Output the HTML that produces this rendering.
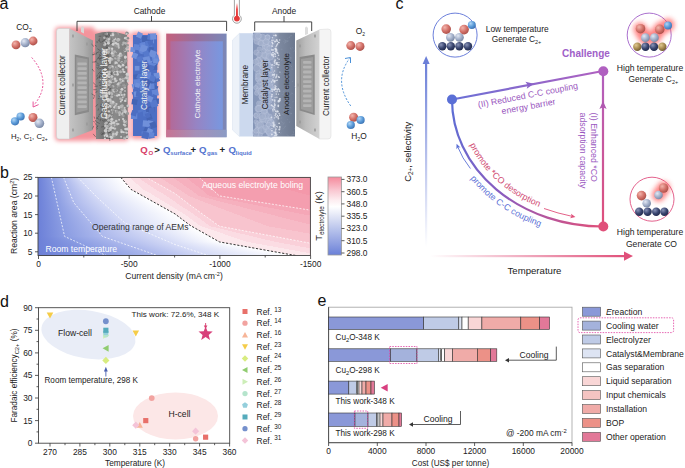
<!DOCTYPE html><html><head><meta charset="utf-8"><style>html,body{margin:0;padding:0;background:#fff;width:685px;height:468px;overflow:hidden}svg{display:block;font-family:"Liberation Sans",sans-serif}</style></head><body>
<svg width="685" height="468" viewBox="0 0 685 468" font-family="Liberation Sans, sans-serif">
<defs><radialGradient id="sp_red" cx="0.35" cy="0.32" r="0.75"><stop offset="0" stop-color="#f2b4ac"/><stop offset="0.55" stop-color="#d27068"/><stop offset="1" stop-color="#a64c46"/></radialGradient><radialGradient id="sp_gray" cx="0.35" cy="0.32" r="0.75"><stop offset="0" stop-color="#e2e8f3"/><stop offset="0.55" stop-color="#a2afc9"/><stop offset="1" stop-color="#74829f"/></radialGradient><radialGradient id="sp_blue" cx="0.35" cy="0.32" r="0.75"><stop offset="0" stop-color="#b0d6f6"/><stop offset="0.55" stop-color="#5a9ad8"/><stop offset="1" stop-color="#3a70b0"/></radialGradient><radialGradient id="sp_navy" cx="0.35" cy="0.32" r="0.75"><stop offset="0" stop-color="#8a94b8"/><stop offset="0.55" stop-color="#3a4670"/><stop offset="1" stop-color="#20284a"/></radialGradient><radialGradient id="sp_gold" cx="0.35" cy="0.32" r="0.75"><stop offset="0" stop-color="#e0c890"/><stop offset="0.55" stop-color="#a88a50"/><stop offset="1" stop-color="#6a5530"/></radialGradient><filter id="glow" x="-30%" y="-30%" width="160%" height="160%"><feGaussianBlur stdDeviation="1.9"/></filter><filter id="glow2" filterUnits="userSpaceOnUse" x="0" y="0" width="685" height="468"><feGaussianBlur stdDeviation="2.4"/></filter><filter id="blur1"><feGaussianBlur stdDeviation="0.6"/></filter><linearGradient id="ccface" x1="0" y1="0" x2="1" y2="0"><stop offset="0" stop-color="#c4c4c4"/><stop offset="0.6" stop-color="#b0b0b0"/><stop offset="1" stop-color="#969696"/></linearGradient><linearGradient id="ccface2" x1="1" y1="0" x2="0" y2="0"><stop offset="0" stop-color="#d2d2d2"/><stop offset="0.6" stop-color="#bcbcbc"/><stop offset="1" stop-color="#a0a0a0"/></linearGradient><linearGradient id="gdl" x1="0" y1="0" x2="1" y2="0"><stop offset="0" stop-color="#8a8a8a"/><stop offset="0.35" stop-color="#6e6e6e"/><stop offset="0.6" stop-color="#8a8a8a"/><stop offset="1" stop-color="#7c7c7c"/></linearGradient><linearGradient id="ce" x1="0" y1="0" x2="1" y2="0"><stop offset="0" stop-color="#c4607c"/><stop offset="0.5" stop-color="#98709e"/><stop offset="1" stop-color="#7a88b8"/></linearGradient><linearGradient id="ce2" x1="0" y1="0" x2="1" y2="0"><stop offset="0" stop-color="#b26a9a"/><stop offset="0.5" stop-color="#9684c4"/><stop offset="1" stop-color="#7898e0"/></linearGradient><linearGradient id="ceb" x1="0" y1="0" x2="1" y2="0"><stop offset="0" stop-color="#c87898"/><stop offset="0.5" stop-color="#a898c0"/><stop offset="1" stop-color="#90a0c8"/></linearGradient><linearGradient id="thr" x1="0" y1="0" x2="0" y2="1"><stop offset="0" stop-color="#ffffff"/><stop offset="0.45" stop-color="#f04848"/><stop offset="1" stop-color="#e03030"/></linearGradient><linearGradient id="anc" x1="0" y1="0" x2="1" y2="0"><stop offset="0" stop-color="#8596b8"/><stop offset="0.44" stop-color="#8e9cbc"/><stop offset="0.5" stop-color="#98a4be"/><stop offset="0.64" stop-color="#7c889f"/><stop offset="1" stop-color="#6c788e"/></linearGradient><linearGradient id="br0" gradientUnits="userSpaceOnUse" x1="38" y1="0" x2="310.5" y2="0"><stop offset="0.0000" stop-color="#6c80d8"/><stop offset="0.0493" stop-color="#8a9ce2"/><stop offset="0.0941" stop-color="#acb8ec"/><stop offset="0.1468" stop-color="#d4daf6"/><stop offset="0.3042" stop-color="#ffffff"/><stop offset="0.3042" stop-color="#fce8ec"/><stop offset="0.3357" stop-color="#fce8ec"/><stop offset="0.3357" stop-color="#fbdce3"/><stop offset="0.3671" stop-color="#fbdce3"/><stop offset="0.3672" stop-color="#fad0d9"/><stop offset="0.3986" stop-color="#fad0d9"/><stop offset="0.3987" stop-color="#f8c4ce"/><stop offset="0.4470" stop-color="#f8c4ce"/><stop offset="0.4470" stop-color="#f7bac6"/><stop offset="0.4953" stop-color="#f7bac6"/><stop offset="0.4953" stop-color="#f6b0be"/><stop offset="0.5436" stop-color="#f6b0be"/><stop offset="0.5437" stop-color="#f5a7b7"/><stop offset="0.5920" stop-color="#f5a7b7"/><stop offset="0.5920" stop-color="#f49eaf"/><stop offset="0.7427" stop-color="#f49eaf"/><stop offset="0.7427" stop-color="#f498aa"/><stop offset="1" stop-color="#f498aa"/></linearGradient><linearGradient id="br1" gradientUnits="userSpaceOnUse" x1="38" y1="0" x2="310.5" y2="0"><stop offset="0.0000" stop-color="#6c80d8"/><stop offset="0.0501" stop-color="#8a9ce2"/><stop offset="0.0956" stop-color="#acb8ec"/><stop offset="0.1503" stop-color="#d4daf6"/><stop offset="0.3073" stop-color="#ffffff"/><stop offset="0.3073" stop-color="#fce8ec"/><stop offset="0.3399" stop-color="#fce8ec"/><stop offset="0.3399" stop-color="#fbdce3"/><stop offset="0.3725" stop-color="#fbdce3"/><stop offset="0.3726" stop-color="#fad0d9"/><stop offset="0.4051" stop-color="#fad0d9"/><stop offset="0.4052" stop-color="#f8c4ce"/><stop offset="0.4528" stop-color="#f8c4ce"/><stop offset="0.4529" stop-color="#f7bac6"/><stop offset="0.5006" stop-color="#f7bac6"/><stop offset="0.5006" stop-color="#f6b0be"/><stop offset="0.5483" stop-color="#f6b0be"/><stop offset="0.5483" stop-color="#f5a7b7"/><stop offset="0.5960" stop-color="#f5a7b7"/><stop offset="0.5960" stop-color="#f49eaf"/><stop offset="0.7569" stop-color="#f49eaf"/><stop offset="0.7569" stop-color="#f498aa"/><stop offset="1" stop-color="#f498aa"/></linearGradient><linearGradient id="br2" gradientUnits="userSpaceOnUse" x1="38" y1="0" x2="310.5" y2="0"><stop offset="0.0000" stop-color="#6c80d8"/><stop offset="0.0509" stop-color="#8a9ce2"/><stop offset="0.0971" stop-color="#acb8ec"/><stop offset="0.1538" stop-color="#d4daf6"/><stop offset="0.3104" stop-color="#ffffff"/><stop offset="0.3104" stop-color="#fce8ec"/><stop offset="0.3442" stop-color="#fce8ec"/><stop offset="0.3442" stop-color="#fbdce3"/><stop offset="0.3779" stop-color="#fbdce3"/><stop offset="0.3779" stop-color="#fad0d9"/><stop offset="0.4116" stop-color="#fad0d9"/><stop offset="0.4117" stop-color="#f8c4ce"/><stop offset="0.4587" stop-color="#f8c4ce"/><stop offset="0.4588" stop-color="#f7bac6"/><stop offset="0.5058" stop-color="#f7bac6"/><stop offset="0.5058" stop-color="#f6b0be"/><stop offset="0.5529" stop-color="#f6b0be"/><stop offset="0.5529" stop-color="#f5a7b7"/><stop offset="0.6000" stop-color="#f5a7b7"/><stop offset="0.6000" stop-color="#f49eaf"/><stop offset="0.7711" stop-color="#f49eaf"/><stop offset="0.7712" stop-color="#f498aa"/><stop offset="1" stop-color="#f498aa"/></linearGradient><linearGradient id="br3" gradientUnits="userSpaceOnUse" x1="38" y1="0" x2="310.5" y2="0"><stop offset="0.0000" stop-color="#6c80d8"/><stop offset="0.0517" stop-color="#8a9ce2"/><stop offset="0.0985" stop-color="#acb8ec"/><stop offset="0.1574" stop-color="#d4daf6"/><stop offset="0.3135" stop-color="#ffffff"/><stop offset="0.3136" stop-color="#fce8ec"/><stop offset="0.3484" stop-color="#fce8ec"/><stop offset="0.3484" stop-color="#fbdce3"/><stop offset="0.3833" stop-color="#fbdce3"/><stop offset="0.3833" stop-color="#fad0d9"/><stop offset="0.4182" stop-color="#fad0d9"/><stop offset="0.4182" stop-color="#f8c4ce"/><stop offset="0.4646" stop-color="#f8c4ce"/><stop offset="0.4646" stop-color="#f7bac6"/><stop offset="0.5111" stop-color="#f7bac6"/><stop offset="0.5111" stop-color="#f6b0be"/><stop offset="0.5575" stop-color="#f6b0be"/><stop offset="0.5576" stop-color="#f5a7b7"/><stop offset="0.6040" stop-color="#f5a7b7"/><stop offset="0.6040" stop-color="#f49eaf"/><stop offset="0.7853" stop-color="#f49eaf"/><stop offset="0.7854" stop-color="#f498aa"/><stop offset="1" stop-color="#f498aa"/></linearGradient><linearGradient id="br4" gradientUnits="userSpaceOnUse" x1="38" y1="0" x2="310.5" y2="0"><stop offset="0.0000" stop-color="#6c80d8"/><stop offset="0.0525" stop-color="#8a9ce2"/><stop offset="0.1000" stop-color="#acb8ec"/><stop offset="0.1609" stop-color="#d4daf6"/><stop offset="0.3166" stop-color="#ffffff"/><stop offset="0.3167" stop-color="#fce8ec"/><stop offset="0.3526" stop-color="#fce8ec"/><stop offset="0.3527" stop-color="#fbdce3"/><stop offset="0.3887" stop-color="#fbdce3"/><stop offset="0.3887" stop-color="#fad0d9"/><stop offset="0.4247" stop-color="#fad0d9"/><stop offset="0.4247" stop-color="#f8c4ce"/><stop offset="0.4705" stop-color="#f8c4ce"/><stop offset="0.4705" stop-color="#f7bac6"/><stop offset="0.5163" stop-color="#f7bac6"/><stop offset="0.5164" stop-color="#f6b0be"/><stop offset="0.5622" stop-color="#f6b0be"/><stop offset="0.5622" stop-color="#f5a7b7"/><stop offset="0.6080" stop-color="#f5a7b7"/><stop offset="0.6080" stop-color="#f49eaf"/><stop offset="0.7995" stop-color="#f49eaf"/><stop offset="0.7996" stop-color="#f498aa"/><stop offset="1" stop-color="#f498aa"/></linearGradient><linearGradient id="br5" gradientUnits="userSpaceOnUse" x1="38" y1="0" x2="310.5" y2="0"><stop offset="0.0000" stop-color="#6c80d8"/><stop offset="0.0534" stop-color="#8a9ce2"/><stop offset="0.1015" stop-color="#acb8ec"/><stop offset="0.1645" stop-color="#d4daf6"/><stop offset="0.3198" stop-color="#ffffff"/><stop offset="0.3198" stop-color="#fce8ec"/><stop offset="0.3569" stop-color="#fce8ec"/><stop offset="0.3569" stop-color="#fbdce3"/><stop offset="0.3940" stop-color="#fbdce3"/><stop offset="0.3941" stop-color="#fad0d9"/><stop offset="0.4312" stop-color="#fad0d9"/><stop offset="0.4312" stop-color="#f8c4ce"/><stop offset="0.4764" stop-color="#f8c4ce"/><stop offset="0.4764" stop-color="#f7bac6"/><stop offset="0.5216" stop-color="#f7bac6"/><stop offset="0.5216" stop-color="#f6b0be"/><stop offset="0.5668" stop-color="#f6b0be"/><stop offset="0.5668" stop-color="#f5a7b7"/><stop offset="0.6120" stop-color="#f5a7b7"/><stop offset="0.6120" stop-color="#f49eaf"/><stop offset="0.8137" stop-color="#f49eaf"/><stop offset="0.8138" stop-color="#f498aa"/><stop offset="1" stop-color="#f498aa"/></linearGradient><linearGradient id="br6" gradientUnits="userSpaceOnUse" x1="38" y1="0" x2="310.5" y2="0"><stop offset="0.0000" stop-color="#6c80d8"/><stop offset="0.0542" stop-color="#8a9ce2"/><stop offset="0.1030" stop-color="#acb8ec"/><stop offset="0.1680" stop-color="#d4daf6"/><stop offset="0.3229" stop-color="#ffffff"/><stop offset="0.3229" stop-color="#fce8ec"/><stop offset="0.3611" stop-color="#fce8ec"/><stop offset="0.3612" stop-color="#fbdce3"/><stop offset="0.3994" stop-color="#fbdce3"/><stop offset="0.3994" stop-color="#fad0d9"/><stop offset="0.4377" stop-color="#fad0d9"/><stop offset="0.4377" stop-color="#f8c4ce"/><stop offset="0.4823" stop-color="#f8c4ce"/><stop offset="0.4823" stop-color="#f7bac6"/><stop offset="0.5268" stop-color="#f7bac6"/><stop offset="0.5269" stop-color="#f6b0be"/><stop offset="0.5714" stop-color="#f6b0be"/><stop offset="0.5715" stop-color="#f5a7b7"/><stop offset="0.6160" stop-color="#f5a7b7"/><stop offset="0.6160" stop-color="#f49eaf"/><stop offset="0.8279" stop-color="#f49eaf"/><stop offset="0.8280" stop-color="#f498aa"/><stop offset="1" stop-color="#f498aa"/></linearGradient><linearGradient id="br7" gradientUnits="userSpaceOnUse" x1="38" y1="0" x2="310.5" y2="0"><stop offset="0.0000" stop-color="#6c80d8"/><stop offset="0.0550" stop-color="#8a9ce2"/><stop offset="0.1044" stop-color="#acb8ec"/><stop offset="0.1715" stop-color="#d4daf6"/><stop offset="0.3260" stop-color="#ffffff"/><stop offset="0.3260" stop-color="#fce8ec"/><stop offset="0.3654" stop-color="#fce8ec"/><stop offset="0.3654" stop-color="#fbdce3"/><stop offset="0.4048" stop-color="#fbdce3"/><stop offset="0.4048" stop-color="#fad0d9"/><stop offset="0.4442" stop-color="#fad0d9"/><stop offset="0.4442" stop-color="#f8c4ce"/><stop offset="0.4881" stop-color="#f8c4ce"/><stop offset="0.4882" stop-color="#f7bac6"/><stop offset="0.5321" stop-color="#f7bac6"/><stop offset="0.5321" stop-color="#f6b0be"/><stop offset="0.5761" stop-color="#f6b0be"/><stop offset="0.5761" stop-color="#f5a7b7"/><stop offset="0.6200" stop-color="#f5a7b7"/><stop offset="0.6200" stop-color="#f49eaf"/><stop offset="0.8421" stop-color="#f49eaf"/><stop offset="0.8422" stop-color="#f498aa"/><stop offset="1" stop-color="#f498aa"/></linearGradient><linearGradient id="br8" gradientUnits="userSpaceOnUse" x1="38" y1="0" x2="310.5" y2="0"><stop offset="0.0000" stop-color="#6c80d8"/><stop offset="0.0558" stop-color="#8a9ce2"/><stop offset="0.1059" stop-color="#acb8ec"/><stop offset="0.1751" stop-color="#d4daf6"/><stop offset="0.3291" stop-color="#ffffff"/><stop offset="0.3292" stop-color="#fce8ec"/><stop offset="0.3696" stop-color="#fce8ec"/><stop offset="0.3697" stop-color="#fbdce3"/><stop offset="0.4102" stop-color="#fbdce3"/><stop offset="0.4102" stop-color="#fad0d9"/><stop offset="0.4507" stop-color="#fad0d9"/><stop offset="0.4507" stop-color="#f8c4ce"/><stop offset="0.4940" stop-color="#f8c4ce"/><stop offset="0.4941" stop-color="#f7bac6"/><stop offset="0.5374" stop-color="#f7bac6"/><stop offset="0.5374" stop-color="#f6b0be"/><stop offset="0.5807" stop-color="#f6b0be"/><stop offset="0.5807" stop-color="#f5a7b7"/><stop offset="0.6240" stop-color="#f5a7b7"/><stop offset="0.6241" stop-color="#f49eaf"/><stop offset="0.8563" stop-color="#f49eaf"/><stop offset="0.8564" stop-color="#f498aa"/><stop offset="1" stop-color="#f498aa"/></linearGradient><linearGradient id="br9" gradientUnits="userSpaceOnUse" x1="38" y1="0" x2="310.5" y2="0"><stop offset="0.0000" stop-color="#6c80d8"/><stop offset="0.0566" stop-color="#8a9ce2"/><stop offset="0.1074" stop-color="#acb8ec"/><stop offset="0.1786" stop-color="#d4daf6"/><stop offset="0.3322" stop-color="#ffffff"/><stop offset="0.3323" stop-color="#fce8ec"/><stop offset="0.3739" stop-color="#fce8ec"/><stop offset="0.3739" stop-color="#fbdce3"/><stop offset="0.4155" stop-color="#fbdce3"/><stop offset="0.4156" stop-color="#fad0d9"/><stop offset="0.4572" stop-color="#fad0d9"/><stop offset="0.4572" stop-color="#f8c4ce"/><stop offset="0.4999" stop-color="#f8c4ce"/><stop offset="0.4999" stop-color="#f7bac6"/><stop offset="0.5426" stop-color="#f7bac6"/><stop offset="0.5426" stop-color="#f6b0be"/><stop offset="0.5853" stop-color="#f6b0be"/><stop offset="0.5854" stop-color="#f5a7b7"/><stop offset="0.6280" stop-color="#f5a7b7"/><stop offset="0.6281" stop-color="#f49eaf"/><stop offset="0.8706" stop-color="#f49eaf"/><stop offset="0.8706" stop-color="#f498aa"/><stop offset="1" stop-color="#f498aa"/></linearGradient><linearGradient id="br10" gradientUnits="userSpaceOnUse" x1="38" y1="0" x2="310.5" y2="0"><stop offset="0.0000" stop-color="#6c80d8"/><stop offset="0.0575" stop-color="#8a9ce2"/><stop offset="0.1089" stop-color="#acb8ec"/><stop offset="0.1821" stop-color="#d4daf6"/><stop offset="0.3354" stop-color="#ffffff"/><stop offset="0.3354" stop-color="#fce8ec"/><stop offset="0.3781" stop-color="#fce8ec"/><stop offset="0.3782" stop-color="#fbdce3"/><stop offset="0.4209" stop-color="#fbdce3"/><stop offset="0.4210" stop-color="#fad0d9"/><stop offset="0.4637" stop-color="#fad0d9"/><stop offset="0.4637" stop-color="#f8c4ce"/><stop offset="0.5058" stop-color="#f8c4ce"/><stop offset="0.5058" stop-color="#f7bac6"/><stop offset="0.5479" stop-color="#f7bac6"/><stop offset="0.5479" stop-color="#f6b0be"/><stop offset="0.5899" stop-color="#f6b0be"/><stop offset="0.5900" stop-color="#f5a7b7"/><stop offset="0.6320" stop-color="#f5a7b7"/><stop offset="0.6321" stop-color="#f49eaf"/><stop offset="0.8848" stop-color="#f49eaf"/><stop offset="0.8848" stop-color="#f498aa"/><stop offset="1" stop-color="#f498aa"/></linearGradient><linearGradient id="br11" gradientUnits="userSpaceOnUse" x1="38" y1="0" x2="310.5" y2="0"><stop offset="0.0000" stop-color="#6c80d8"/><stop offset="0.0583" stop-color="#8a9ce2"/><stop offset="0.1104" stop-color="#acb8ec"/><stop offset="0.1857" stop-color="#d4daf6"/><stop offset="0.3385" stop-color="#ffffff"/><stop offset="0.3385" stop-color="#fce8ec"/><stop offset="0.3824" stop-color="#fce8ec"/><stop offset="0.3824" stop-color="#fbdce3"/><stop offset="0.4263" stop-color="#fbdce3"/><stop offset="0.4263" stop-color="#fad0d9"/><stop offset="0.4702" stop-color="#fad0d9"/><stop offset="0.4703" stop-color="#f8c4ce"/><stop offset="0.5117" stop-color="#f8c4ce"/><stop offset="0.5117" stop-color="#f7bac6"/><stop offset="0.5531" stop-color="#f7bac6"/><stop offset="0.5532" stop-color="#f6b0be"/><stop offset="0.5946" stop-color="#f6b0be"/><stop offset="0.5946" stop-color="#f5a7b7"/><stop offset="0.6360" stop-color="#f5a7b7"/><stop offset="0.6361" stop-color="#f49eaf"/><stop offset="0.8990" stop-color="#f49eaf"/><stop offset="0.8990" stop-color="#f498aa"/><stop offset="1" stop-color="#f498aa"/></linearGradient><linearGradient id="br12" gradientUnits="userSpaceOnUse" x1="38" y1="0" x2="310.5" y2="0"><stop offset="0.0000" stop-color="#6c80d8"/><stop offset="0.0591" stop-color="#8a9ce2"/><stop offset="0.1118" stop-color="#acb8ec"/><stop offset="0.1892" stop-color="#d4daf6"/><stop offset="0.3419" stop-color="#ffffff"/><stop offset="0.3420" stop-color="#fce8ec"/><stop offset="0.3869" stop-color="#fce8ec"/><stop offset="0.3869" stop-color="#fbdce3"/><stop offset="0.4318" stop-color="#fbdce3"/><stop offset="0.4318" stop-color="#fad0d9"/><stop offset="0.4767" stop-color="#fad0d9"/><stop offset="0.4768" stop-color="#f8c4ce"/><stop offset="0.5176" stop-color="#f8c4ce"/><stop offset="0.5176" stop-color="#f7bac6"/><stop offset="0.5584" stop-color="#f7bac6"/><stop offset="0.5584" stop-color="#f6b0be"/><stop offset="0.5992" stop-color="#f6b0be"/><stop offset="0.5992" stop-color="#f5a7b7"/><stop offset="0.6400" stop-color="#f5a7b7"/><stop offset="0.6401" stop-color="#f49eaf"/><stop offset="0.9132" stop-color="#f49eaf"/><stop offset="0.9132" stop-color="#f498aa"/><stop offset="1" stop-color="#f498aa"/></linearGradient><linearGradient id="br13" gradientUnits="userSpaceOnUse" x1="38" y1="0" x2="310.5" y2="0"><stop offset="0.0000" stop-color="#6c80d8"/><stop offset="0.0599" stop-color="#8a9ce2"/><stop offset="0.1133" stop-color="#acb8ec"/><stop offset="0.1927" stop-color="#d4daf6"/><stop offset="0.3485" stop-color="#ffffff"/><stop offset="0.3486" stop-color="#fce8ec"/><stop offset="0.3934" stop-color="#fce8ec"/><stop offset="0.3935" stop-color="#fbdce3"/><stop offset="0.4383" stop-color="#fbdce3"/><stop offset="0.4384" stop-color="#fad0d9"/><stop offset="0.4832" stop-color="#fad0d9"/><stop offset="0.4833" stop-color="#f8c4ce"/><stop offset="0.5234" stop-color="#f8c4ce"/><stop offset="0.5235" stop-color="#f7bac6"/><stop offset="0.5636" stop-color="#f7bac6"/><stop offset="0.5637" stop-color="#f6b0be"/><stop offset="0.6038" stop-color="#f6b0be"/><stop offset="0.6039" stop-color="#f5a7b7"/><stop offset="0.6441" stop-color="#f5a7b7"/><stop offset="0.6441" stop-color="#f49eaf"/><stop offset="0.9274" stop-color="#f49eaf"/><stop offset="0.9274" stop-color="#f498aa"/><stop offset="1" stop-color="#f498aa"/></linearGradient><linearGradient id="br14" gradientUnits="userSpaceOnUse" x1="38" y1="0" x2="310.5" y2="0"><stop offset="0.0000" stop-color="#6c80d8"/><stop offset="0.0608" stop-color="#8a9ce2"/><stop offset="0.1148" stop-color="#acb8ec"/><stop offset="0.1963" stop-color="#d4daf6"/><stop offset="0.3551" stop-color="#ffffff"/><stop offset="0.3552" stop-color="#fce8ec"/><stop offset="0.4000" stop-color="#fce8ec"/><stop offset="0.4000" stop-color="#fbdce3"/><stop offset="0.4449" stop-color="#fbdce3"/><stop offset="0.4449" stop-color="#fad0d9"/><stop offset="0.4897" stop-color="#fad0d9"/><stop offset="0.4898" stop-color="#f8c4ce"/><stop offset="0.5293" stop-color="#f8c4ce"/><stop offset="0.5294" stop-color="#f7bac6"/><stop offset="0.5689" stop-color="#f7bac6"/><stop offset="0.5689" stop-color="#f6b0be"/><stop offset="0.6085" stop-color="#f6b0be"/><stop offset="0.6085" stop-color="#f5a7b7"/><stop offset="0.6481" stop-color="#f5a7b7"/><stop offset="0.6481" stop-color="#f49eaf"/><stop offset="0.9416" stop-color="#f49eaf"/><stop offset="0.9416" stop-color="#f498aa"/><stop offset="1" stop-color="#f498aa"/></linearGradient><linearGradient id="br15" gradientUnits="userSpaceOnUse" x1="38" y1="0" x2="310.5" y2="0"><stop offset="0.0000" stop-color="#6c80d8"/><stop offset="0.0616" stop-color="#8a9ce2"/><stop offset="0.1163" stop-color="#acb8ec"/><stop offset="0.1998" stop-color="#d4daf6"/><stop offset="0.3617" stop-color="#ffffff"/><stop offset="0.3618" stop-color="#fce8ec"/><stop offset="0.4066" stop-color="#fce8ec"/><stop offset="0.4066" stop-color="#fbdce3"/><stop offset="0.4514" stop-color="#fbdce3"/><stop offset="0.4514" stop-color="#fad0d9"/><stop offset="0.4962" stop-color="#fad0d9"/><stop offset="0.4963" stop-color="#f8c4ce"/><stop offset="0.5352" stop-color="#f8c4ce"/><stop offset="0.5352" stop-color="#f7bac6"/><stop offset="0.5742" stop-color="#f7bac6"/><stop offset="0.5742" stop-color="#f6b0be"/><stop offset="0.6131" stop-color="#f6b0be"/><stop offset="0.6131" stop-color="#f5a7b7"/><stop offset="0.6521" stop-color="#f5a7b7"/><stop offset="0.6521" stop-color="#f49eaf"/><stop offset="0.9558" stop-color="#f49eaf"/><stop offset="0.9558" stop-color="#f498aa"/><stop offset="1" stop-color="#f498aa"/></linearGradient><linearGradient id="br16" gradientUnits="userSpaceOnUse" x1="38" y1="0" x2="310.5" y2="0"><stop offset="0.0000" stop-color="#6c80d8"/><stop offset="0.0624" stop-color="#8a9ce2"/><stop offset="0.1178" stop-color="#acb8ec"/><stop offset="0.2033" stop-color="#d4daf6"/><stop offset="0.3683" stop-color="#ffffff"/><stop offset="0.3683" stop-color="#fce8ec"/><stop offset="0.4131" stop-color="#fce8ec"/><stop offset="0.4132" stop-color="#fbdce3"/><stop offset="0.4579" stop-color="#fbdce3"/><stop offset="0.4580" stop-color="#fad0d9"/><stop offset="0.5028" stop-color="#fad0d9"/><stop offset="0.5028" stop-color="#f8c4ce"/><stop offset="0.5411" stop-color="#f8c4ce"/><stop offset="0.5411" stop-color="#f7bac6"/><stop offset="0.5794" stop-color="#f7bac6"/><stop offset="0.5794" stop-color="#f6b0be"/><stop offset="0.6177" stop-color="#f6b0be"/><stop offset="0.6178" stop-color="#f5a7b7"/><stop offset="0.6561" stop-color="#f5a7b7"/><stop offset="0.6561" stop-color="#f49eaf"/><stop offset="0.9700" stop-color="#f49eaf"/><stop offset="0.9700" stop-color="#f498aa"/><stop offset="1" stop-color="#f498aa"/></linearGradient><linearGradient id="br17" gradientUnits="userSpaceOnUse" x1="38" y1="0" x2="310.5" y2="0"><stop offset="0.0000" stop-color="#6c80d8"/><stop offset="0.0632" stop-color="#8a9ce2"/><stop offset="0.1192" stop-color="#acb8ec"/><stop offset="0.2069" stop-color="#d4daf6"/><stop offset="0.3749" stop-color="#ffffff"/><stop offset="0.3749" stop-color="#fce8ec"/><stop offset="0.4191" stop-color="#fce8ec"/><stop offset="0.4191" stop-color="#fbdce3"/><stop offset="0.4633" stop-color="#fbdce3"/><stop offset="0.4634" stop-color="#fad0d9"/><stop offset="0.5075" stop-color="#fad0d9"/><stop offset="0.5076" stop-color="#f8c4ce"/><stop offset="0.5457" stop-color="#f8c4ce"/><stop offset="0.5457" stop-color="#f7bac6"/><stop offset="0.5838" stop-color="#f7bac6"/><stop offset="0.5838" stop-color="#f6b0be"/><stop offset="0.6219" stop-color="#f6b0be"/><stop offset="0.6220" stop-color="#f5a7b7"/><stop offset="0.6601" stop-color="#f5a7b7"/><stop offset="0.6601" stop-color="#f49eaf"/><stop offset="0.9842" stop-color="#f49eaf"/><stop offset="0.9842" stop-color="#f498aa"/><stop offset="1" stop-color="#f498aa"/></linearGradient><linearGradient id="br18" gradientUnits="userSpaceOnUse" x1="38" y1="0" x2="310.5" y2="0"><stop offset="0.0000" stop-color="#6c80d8"/><stop offset="0.0640" stop-color="#8a9ce2"/><stop offset="0.1207" stop-color="#acb8ec"/><stop offset="0.2104" stop-color="#d4daf6"/><stop offset="0.3815" stop-color="#ffffff"/><stop offset="0.3815" stop-color="#fce8ec"/><stop offset="0.4251" stop-color="#fce8ec"/><stop offset="0.4251" stop-color="#fbdce3"/><stop offset="0.4687" stop-color="#fbdce3"/><stop offset="0.4687" stop-color="#fad0d9"/><stop offset="0.5123" stop-color="#fad0d9"/><stop offset="0.5124" stop-color="#f8c4ce"/><stop offset="0.5503" stop-color="#f8c4ce"/><stop offset="0.5503" stop-color="#f7bac6"/><stop offset="0.5882" stop-color="#f7bac6"/><stop offset="0.5882" stop-color="#f6b0be"/><stop offset="0.6261" stop-color="#f6b0be"/><stop offset="0.6262" stop-color="#f5a7b7"/><stop offset="0.6641" stop-color="#f5a7b7"/><stop offset="0.6641" stop-color="#f49eaf"/><stop offset="0.9984" stop-color="#f49eaf"/><stop offset="0.9984" stop-color="#f498aa"/><stop offset="1" stop-color="#f498aa"/></linearGradient><linearGradient id="br19" gradientUnits="userSpaceOnUse" x1="38" y1="0" x2="310.5" y2="0"><stop offset="0.0000" stop-color="#6c80d8"/><stop offset="0.0649" stop-color="#8a9ce2"/><stop offset="0.1222" stop-color="#acb8ec"/><stop offset="0.2139" stop-color="#d4daf6"/><stop offset="0.3881" stop-color="#ffffff"/><stop offset="0.3881" stop-color="#fce8ec"/><stop offset="0.4311" stop-color="#fce8ec"/><stop offset="0.4311" stop-color="#fbdce3"/><stop offset="0.4741" stop-color="#fbdce3"/><stop offset="0.4741" stop-color="#fad0d9"/><stop offset="0.5171" stop-color="#fad0d9"/><stop offset="0.5171" stop-color="#f8c4ce"/><stop offset="0.5578" stop-color="#f8c4ce"/><stop offset="0.5578" stop-color="#f7bac6"/><stop offset="0.5984" stop-color="#f7bac6"/><stop offset="0.5985" stop-color="#f6b0be"/><stop offset="0.6391" stop-color="#f6b0be"/><stop offset="0.6391" stop-color="#f5a7b7"/><stop offset="0.6797" stop-color="#f5a7b7"/><stop offset="0.6798" stop-color="#f49eaf"/><stop offset="1.0000" stop-color="#f49eaf"/><stop offset="1.0000" stop-color="#f498aa"/><stop offset="1" stop-color="#f498aa"/></linearGradient><linearGradient id="br20" gradientUnits="userSpaceOnUse" x1="38" y1="0" x2="310.5" y2="0"><stop offset="0.0000" stop-color="#6c80d8"/><stop offset="0.0657" stop-color="#8a9ce2"/><stop offset="0.1237" stop-color="#acb8ec"/><stop offset="0.2179" stop-color="#d4daf6"/><stop offset="0.3947" stop-color="#ffffff"/><stop offset="0.3947" stop-color="#fce8ec"/><stop offset="0.4371" stop-color="#fce8ec"/><stop offset="0.4371" stop-color="#fbdce3"/><stop offset="0.4795" stop-color="#fbdce3"/><stop offset="0.4795" stop-color="#fad0d9"/><stop offset="0.5219" stop-color="#fad0d9"/><stop offset="0.5219" stop-color="#f8c4ce"/><stop offset="0.5672" stop-color="#f8c4ce"/><stop offset="0.5673" stop-color="#f7bac6"/><stop offset="0.6125" stop-color="#f7bac6"/><stop offset="0.6126" stop-color="#f6b0be"/><stop offset="0.6579" stop-color="#f6b0be"/><stop offset="0.6579" stop-color="#f5a7b7"/><stop offset="0.7032" stop-color="#f5a7b7"/><stop offset="0.7032" stop-color="#f49eaf"/><stop offset="1.0000" stop-color="#f49eaf"/><stop offset="1.0000" stop-color="#f498aa"/><stop offset="1" stop-color="#f498aa"/></linearGradient><linearGradient id="br21" gradientUnits="userSpaceOnUse" x1="38" y1="0" x2="310.5" y2="0"><stop offset="0.0000" stop-color="#6c80d8"/><stop offset="0.0665" stop-color="#8a9ce2"/><stop offset="0.1252" stop-color="#acb8ec"/><stop offset="0.2219" stop-color="#d4daf6"/><stop offset="0.4013" stop-color="#ffffff"/><stop offset="0.4013" stop-color="#fce8ec"/><stop offset="0.4431" stop-color="#fce8ec"/><stop offset="0.4431" stop-color="#fbdce3"/><stop offset="0.4849" stop-color="#fbdce3"/><stop offset="0.4849" stop-color="#fad0d9"/><stop offset="0.5267" stop-color="#fad0d9"/><stop offset="0.5267" stop-color="#f8c4ce"/><stop offset="0.5767" stop-color="#f8c4ce"/><stop offset="0.5767" stop-color="#f7bac6"/><stop offset="0.6267" stop-color="#f7bac6"/><stop offset="0.6267" stop-color="#f6b0be"/><stop offset="0.6766" stop-color="#f6b0be"/><stop offset="0.6767" stop-color="#f5a7b7"/><stop offset="0.7266" stop-color="#f5a7b7"/><stop offset="0.7267" stop-color="#f49eaf"/><stop offset="1.0000" stop-color="#f49eaf"/><stop offset="1.0000" stop-color="#f498aa"/><stop offset="1" stop-color="#f498aa"/></linearGradient><linearGradient id="br22" gradientUnits="userSpaceOnUse" x1="38" y1="0" x2="310.5" y2="0"><stop offset="0.0000" stop-color="#6c80d8"/><stop offset="0.0673" stop-color="#8a9ce2"/><stop offset="0.1266" stop-color="#acb8ec"/><stop offset="0.2258" stop-color="#d4daf6"/><stop offset="0.4078" stop-color="#ffffff"/><stop offset="0.4079" stop-color="#fce8ec"/><stop offset="0.4491" stop-color="#fce8ec"/><stop offset="0.4491" stop-color="#fbdce3"/><stop offset="0.4903" stop-color="#fbdce3"/><stop offset="0.4903" stop-color="#fad0d9"/><stop offset="0.5315" stop-color="#fad0d9"/><stop offset="0.5315" stop-color="#f8c4ce"/><stop offset="0.5861" stop-color="#f8c4ce"/><stop offset="0.5862" stop-color="#f7bac6"/><stop offset="0.6408" stop-color="#f7bac6"/><stop offset="0.6408" stop-color="#f6b0be"/><stop offset="0.6954" stop-color="#f6b0be"/><stop offset="0.6954" stop-color="#f5a7b7"/><stop offset="0.7501" stop-color="#f5a7b7"/><stop offset="0.7501" stop-color="#f49eaf"/><stop offset="1.0000" stop-color="#f49eaf"/><stop offset="1.0000" stop-color="#f498aa"/><stop offset="1" stop-color="#f498aa"/></linearGradient><linearGradient id="br23" gradientUnits="userSpaceOnUse" x1="38" y1="0" x2="310.5" y2="0"><stop offset="0.0000" stop-color="#6c80d8"/><stop offset="0.0681" stop-color="#8a9ce2"/><stop offset="0.1281" stop-color="#acb8ec"/><stop offset="0.2298" stop-color="#d4daf6"/><stop offset="0.4144" stop-color="#ffffff"/><stop offset="0.4145" stop-color="#fce8ec"/><stop offset="0.4550" stop-color="#fce8ec"/><stop offset="0.4551" stop-color="#fbdce3"/><stop offset="0.4957" stop-color="#fbdce3"/><stop offset="0.4957" stop-color="#fad0d9"/><stop offset="0.5363" stop-color="#fad0d9"/><stop offset="0.5363" stop-color="#f8c4ce"/><stop offset="0.5956" stop-color="#f8c4ce"/><stop offset="0.5956" stop-color="#f7bac6"/><stop offset="0.6549" stop-color="#f7bac6"/><stop offset="0.6549" stop-color="#f6b0be"/><stop offset="0.7142" stop-color="#f6b0be"/><stop offset="0.7142" stop-color="#f5a7b7"/><stop offset="0.7735" stop-color="#f5a7b7"/><stop offset="0.7735" stop-color="#f49eaf"/><stop offset="1.0000" stop-color="#f49eaf"/><stop offset="1.0000" stop-color="#f498aa"/><stop offset="1" stop-color="#f498aa"/></linearGradient><linearGradient id="br24" gradientUnits="userSpaceOnUse" x1="38" y1="0" x2="310.5" y2="0"><stop offset="0.0000" stop-color="#6c80d8"/><stop offset="0.0690" stop-color="#8a9ce2"/><stop offset="0.1296" stop-color="#acb8ec"/><stop offset="0.2337" stop-color="#d4daf6"/><stop offset="0.4210" stop-color="#ffffff"/><stop offset="0.4211" stop-color="#fce8ec"/><stop offset="0.4610" stop-color="#fce8ec"/><stop offset="0.4611" stop-color="#fbdce3"/><stop offset="0.5010" stop-color="#fbdce3"/><stop offset="0.5011" stop-color="#fad0d9"/><stop offset="0.5410" stop-color="#fad0d9"/><stop offset="0.5411" stop-color="#f8c4ce"/><stop offset="0.6050" stop-color="#f8c4ce"/><stop offset="0.6051" stop-color="#f7bac6"/><stop offset="0.6690" stop-color="#f7bac6"/><stop offset="0.6690" stop-color="#f6b0be"/><stop offset="0.7330" stop-color="#f6b0be"/><stop offset="0.7330" stop-color="#f5a7b7"/><stop offset="0.7969" stop-color="#f5a7b7"/><stop offset="0.7970" stop-color="#f49eaf"/><stop offset="1.0000" stop-color="#f49eaf"/><stop offset="1.0000" stop-color="#f498aa"/><stop offset="1" stop-color="#f498aa"/></linearGradient><linearGradient id="br25" gradientUnits="userSpaceOnUse" x1="38" y1="0" x2="310.5" y2="0"><stop offset="0.0000" stop-color="#6c80d8"/><stop offset="0.0698" stop-color="#8a9ce2"/><stop offset="0.1311" stop-color="#acb8ec"/><stop offset="0.2377" stop-color="#d4daf6"/><stop offset="0.4276" stop-color="#ffffff"/><stop offset="0.4277" stop-color="#fce8ec"/><stop offset="0.4670" stop-color="#fce8ec"/><stop offset="0.4671" stop-color="#fbdce3"/><stop offset="0.5064" stop-color="#fbdce3"/><stop offset="0.5065" stop-color="#fad0d9"/><stop offset="0.5458" stop-color="#fad0d9"/><stop offset="0.5459" stop-color="#f8c4ce"/><stop offset="0.6145" stop-color="#f8c4ce"/><stop offset="0.6145" stop-color="#f7bac6"/><stop offset="0.6831" stop-color="#f7bac6"/><stop offset="0.6831" stop-color="#f6b0be"/><stop offset="0.7517" stop-color="#f6b0be"/><stop offset="0.7518" stop-color="#f5a7b7"/><stop offset="0.8204" stop-color="#f5a7b7"/><stop offset="0.8204" stop-color="#f49eaf"/><stop offset="1.0000" stop-color="#f49eaf"/><stop offset="1.0000" stop-color="#f498aa"/><stop offset="1" stop-color="#f498aa"/></linearGradient><linearGradient id="br26" gradientUnits="userSpaceOnUse" x1="38" y1="0" x2="310.5" y2="0"><stop offset="0.0000" stop-color="#6c80d8"/><stop offset="0.0706" stop-color="#8a9ce2"/><stop offset="0.1339" stop-color="#acb8ec"/><stop offset="0.2417" stop-color="#d4daf6"/><stop offset="0.4342" stop-color="#ffffff"/><stop offset="0.4342" stop-color="#fce8ec"/><stop offset="0.4730" stop-color="#fce8ec"/><stop offset="0.4731" stop-color="#fbdce3"/><stop offset="0.5118" stop-color="#fbdce3"/><stop offset="0.5119" stop-color="#fad0d9"/><stop offset="0.5506" stop-color="#fad0d9"/><stop offset="0.5507" stop-color="#f8c4ce"/><stop offset="0.6239" stop-color="#f8c4ce"/><stop offset="0.6240" stop-color="#f7bac6"/><stop offset="0.6972" stop-color="#f7bac6"/><stop offset="0.6972" stop-color="#f6b0be"/><stop offset="0.7705" stop-color="#f6b0be"/><stop offset="0.7705" stop-color="#f5a7b7"/><stop offset="0.8438" stop-color="#f5a7b7"/><stop offset="0.8438" stop-color="#f49eaf"/><stop offset="1.0000" stop-color="#f49eaf"/><stop offset="1.0000" stop-color="#f498aa"/><stop offset="1" stop-color="#f498aa"/></linearGradient><linearGradient id="br27" gradientUnits="userSpaceOnUse" x1="38" y1="0" x2="310.5" y2="0"><stop offset="0.0000" stop-color="#6c80d8"/><stop offset="0.0714" stop-color="#8a9ce2"/><stop offset="0.1370" stop-color="#acb8ec"/><stop offset="0.2456" stop-color="#d4daf6"/><stop offset="0.4408" stop-color="#ffffff"/><stop offset="0.4408" stop-color="#fce8ec"/><stop offset="0.4790" stop-color="#fce8ec"/><stop offset="0.4790" stop-color="#fbdce3"/><stop offset="0.5172" stop-color="#fbdce3"/><stop offset="0.5172" stop-color="#fad0d9"/><stop offset="0.5554" stop-color="#fad0d9"/><stop offset="0.5554" stop-color="#f8c4ce"/><stop offset="0.6334" stop-color="#f8c4ce"/><stop offset="0.6334" stop-color="#f7bac6"/><stop offset="0.7113" stop-color="#f7bac6"/><stop offset="0.7114" stop-color="#f6b0be"/><stop offset="0.7893" stop-color="#f6b0be"/><stop offset="0.7893" stop-color="#f5a7b7"/><stop offset="0.8672" stop-color="#f5a7b7"/><stop offset="0.8673" stop-color="#f49eaf"/><stop offset="1.0000" stop-color="#f49eaf"/><stop offset="1.0000" stop-color="#f498aa"/><stop offset="1" stop-color="#f498aa"/></linearGradient><linearGradient id="br28" gradientUnits="userSpaceOnUse" x1="38" y1="0" x2="310.5" y2="0"><stop offset="0.0000" stop-color="#6c80d8"/><stop offset="0.0722" stop-color="#8a9ce2"/><stop offset="0.1401" stop-color="#acb8ec"/><stop offset="0.2496" stop-color="#d4daf6"/><stop offset="0.4474" stop-color="#ffffff"/><stop offset="0.4474" stop-color="#fce8ec"/><stop offset="0.4850" stop-color="#fce8ec"/><stop offset="0.4851" stop-color="#fbdce3"/><stop offset="0.5227" stop-color="#fbdce3"/><stop offset="0.5227" stop-color="#fad0d9"/><stop offset="0.5603" stop-color="#fad0d9"/><stop offset="0.5604" stop-color="#f8c4ce"/><stop offset="0.6429" stop-color="#f8c4ce"/><stop offset="0.6430" stop-color="#f7bac6"/><stop offset="0.7255" stop-color="#f7bac6"/><stop offset="0.7255" stop-color="#f6b0be"/><stop offset="0.8081" stop-color="#f6b0be"/><stop offset="0.8081" stop-color="#f5a7b7"/><stop offset="0.8907" stop-color="#f5a7b7"/><stop offset="0.8907" stop-color="#f49eaf"/><stop offset="1.0000" stop-color="#f49eaf"/><stop offset="1.0000" stop-color="#f498aa"/><stop offset="1" stop-color="#f498aa"/></linearGradient><linearGradient id="br29" gradientUnits="userSpaceOnUse" x1="38" y1="0" x2="310.5" y2="0"><stop offset="0.0000" stop-color="#6c80d8"/><stop offset="0.0731" stop-color="#8a9ce2"/><stop offset="0.1432" stop-color="#acb8ec"/><stop offset="0.2536" stop-color="#d4daf6"/><stop offset="0.4540" stop-color="#ffffff"/><stop offset="0.4540" stop-color="#fce8ec"/><stop offset="0.4911" stop-color="#fce8ec"/><stop offset="0.4912" stop-color="#fbdce3"/><stop offset="0.5283" stop-color="#fbdce3"/><stop offset="0.5283" stop-color="#fad0d9"/><stop offset="0.5654" stop-color="#fad0d9"/><stop offset="0.5655" stop-color="#f8c4ce"/><stop offset="0.6526" stop-color="#f8c4ce"/><stop offset="0.6526" stop-color="#f7bac6"/><stop offset="0.7398" stop-color="#f7bac6"/><stop offset="0.7398" stop-color="#f6b0be"/><stop offset="0.8269" stop-color="#f6b0be"/><stop offset="0.8270" stop-color="#f5a7b7"/><stop offset="0.9141" stop-color="#f5a7b7"/><stop offset="0.9141" stop-color="#f49eaf"/><stop offset="1.0000" stop-color="#f49eaf"/><stop offset="1.0000" stop-color="#f498aa"/><stop offset="1" stop-color="#f498aa"/></linearGradient><linearGradient id="br30" gradientUnits="userSpaceOnUse" x1="38" y1="0" x2="310.5" y2="0"><stop offset="0.0000" stop-color="#6c80d8"/><stop offset="0.0739" stop-color="#8a9ce2"/><stop offset="0.1463" stop-color="#acb8ec"/><stop offset="0.2575" stop-color="#d4daf6"/><stop offset="0.4606" stop-color="#ffffff"/><stop offset="0.4606" stop-color="#fce8ec"/><stop offset="0.4972" stop-color="#fce8ec"/><stop offset="0.4973" stop-color="#fbdce3"/><stop offset="0.5339" stop-color="#fbdce3"/><stop offset="0.5339" stop-color="#fad0d9"/><stop offset="0.5705" stop-color="#fad0d9"/><stop offset="0.5706" stop-color="#f8c4ce"/><stop offset="0.6623" stop-color="#f8c4ce"/><stop offset="0.6623" stop-color="#f7bac6"/><stop offset="0.7540" stop-color="#f7bac6"/><stop offset="0.7541" stop-color="#f6b0be"/><stop offset="0.8458" stop-color="#f6b0be"/><stop offset="0.8458" stop-color="#f5a7b7"/><stop offset="0.9375" stop-color="#f5a7b7"/><stop offset="0.9376" stop-color="#f49eaf"/><stop offset="1.0000" stop-color="#f49eaf"/><stop offset="1.0000" stop-color="#f498aa"/><stop offset="1" stop-color="#f498aa"/></linearGradient><linearGradient id="br31" gradientUnits="userSpaceOnUse" x1="38" y1="0" x2="310.5" y2="0"><stop offset="0.0000" stop-color="#6c80d8"/><stop offset="0.0747" stop-color="#8a9ce2"/><stop offset="0.1494" stop-color="#acb8ec"/><stop offset="0.2615" stop-color="#d4daf6"/><stop offset="0.4672" stop-color="#ffffff"/><stop offset="0.4672" stop-color="#fce8ec"/><stop offset="0.5033" stop-color="#fce8ec"/><stop offset="0.5033" stop-color="#fbdce3"/><stop offset="0.5395" stop-color="#fbdce3"/><stop offset="0.5395" stop-color="#fad0d9"/><stop offset="0.5756" stop-color="#fad0d9"/><stop offset="0.5756" stop-color="#f8c4ce"/><stop offset="0.6720" stop-color="#f8c4ce"/><stop offset="0.6720" stop-color="#f7bac6"/><stop offset="0.7683" stop-color="#f7bac6"/><stop offset="0.7683" stop-color="#f6b0be"/><stop offset="0.8646" stop-color="#f6b0be"/><stop offset="0.8647" stop-color="#f5a7b7"/><stop offset="0.9610" stop-color="#f5a7b7"/><stop offset="0.9610" stop-color="#f49eaf"/><stop offset="1.0000" stop-color="#f49eaf"/><stop offset="1.0000" stop-color="#f498aa"/><stop offset="1" stop-color="#f498aa"/></linearGradient><linearGradient id="br32" gradientUnits="userSpaceOnUse" x1="38" y1="0" x2="310.5" y2="0"><stop offset="0.0000" stop-color="#6c80d8"/><stop offset="0.0755" stop-color="#8a9ce2"/><stop offset="0.1526" stop-color="#acb8ec"/><stop offset="0.2654" stop-color="#d4daf6"/><stop offset="0.4738" stop-color="#ffffff"/><stop offset="0.4738" stop-color="#fce8ec"/><stop offset="0.5094" stop-color="#fce8ec"/><stop offset="0.5094" stop-color="#fbdce3"/><stop offset="0.5451" stop-color="#fbdce3"/><stop offset="0.5451" stop-color="#fad0d9"/><stop offset="0.5807" stop-color="#fad0d9"/><stop offset="0.5807" stop-color="#f8c4ce"/><stop offset="0.6816" stop-color="#f8c4ce"/><stop offset="0.6817" stop-color="#f7bac6"/><stop offset="0.7826" stop-color="#f7bac6"/><stop offset="0.7826" stop-color="#f6b0be"/><stop offset="0.8835" stop-color="#f6b0be"/><stop offset="0.8835" stop-color="#f5a7b7"/><stop offset="0.9844" stop-color="#f5a7b7"/><stop offset="0.9844" stop-color="#f49eaf"/><stop offset="1.0000" stop-color="#f49eaf"/><stop offset="1.0000" stop-color="#f498aa"/><stop offset="1" stop-color="#f498aa"/></linearGradient><linearGradient id="br33" gradientUnits="userSpaceOnUse" x1="38" y1="0" x2="310.5" y2="0"><stop offset="0.0000" stop-color="#6c80d8"/><stop offset="0.0764" stop-color="#8a9ce2"/><stop offset="0.1557" stop-color="#acb8ec"/><stop offset="0.2694" stop-color="#d4daf6"/><stop offset="0.4803" stop-color="#ffffff"/><stop offset="0.4804" stop-color="#fce8ec"/><stop offset="0.5155" stop-color="#fce8ec"/><stop offset="0.5155" stop-color="#fbdce3"/><stop offset="0.5506" stop-color="#fbdce3"/><stop offset="0.5507" stop-color="#fad0d9"/><stop offset="0.5858" stop-color="#fad0d9"/><stop offset="0.5858" stop-color="#f8c4ce"/><stop offset="0.6913" stop-color="#f8c4ce"/><stop offset="0.6913" stop-color="#f7bac6"/><stop offset="0.7968" stop-color="#f7bac6"/><stop offset="0.7969" stop-color="#f6b0be"/><stop offset="0.9023" stop-color="#f6b0be"/><stop offset="0.9024" stop-color="#f5a7b7"/><stop offset="1.0000" stop-color="#f5a7b7"/><stop offset="1.0000" stop-color="#f49eaf"/><stop offset="1.0000" stop-color="#f49eaf"/><stop offset="1.0000" stop-color="#f498aa"/><stop offset="1" stop-color="#f498aa"/></linearGradient><linearGradient id="br34" gradientUnits="userSpaceOnUse" x1="38" y1="0" x2="310.5" y2="0"><stop offset="0.0000" stop-color="#6c80d8"/><stop offset="0.0772" stop-color="#8a9ce2"/><stop offset="0.1588" stop-color="#acb8ec"/><stop offset="0.2734" stop-color="#d4daf6"/><stop offset="0.4869" stop-color="#ffffff"/><stop offset="0.4870" stop-color="#fce8ec"/><stop offset="0.5216" stop-color="#fce8ec"/><stop offset="0.5216" stop-color="#fbdce3"/><stop offset="0.5562" stop-color="#fbdce3"/><stop offset="0.5563" stop-color="#fad0d9"/><stop offset="0.5909" stop-color="#fad0d9"/><stop offset="0.5909" stop-color="#f8c4ce"/><stop offset="0.7010" stop-color="#f8c4ce"/><stop offset="0.7010" stop-color="#f7bac6"/><stop offset="0.8111" stop-color="#f7bac6"/><stop offset="0.8111" stop-color="#f6b0be"/><stop offset="0.9212" stop-color="#f6b0be"/><stop offset="0.9212" stop-color="#f5a7b7"/><stop offset="1.0000" stop-color="#f5a7b7"/><stop offset="1.0000" stop-color="#f49eaf"/><stop offset="1.0000" stop-color="#f49eaf"/><stop offset="1.0000" stop-color="#f498aa"/><stop offset="1" stop-color="#f498aa"/></linearGradient><linearGradient id="br35" gradientUnits="userSpaceOnUse" x1="38" y1="0" x2="310.5" y2="0"><stop offset="0.0000" stop-color="#6c80d8"/><stop offset="0.0780" stop-color="#8a9ce2"/><stop offset="0.1619" stop-color="#acb8ec"/><stop offset="0.2773" stop-color="#d4daf6"/><stop offset="0.4935" stop-color="#ffffff"/><stop offset="0.4936" stop-color="#fce8ec"/><stop offset="0.5277" stop-color="#fce8ec"/><stop offset="0.5277" stop-color="#fbdce3"/><stop offset="0.5618" stop-color="#fbdce3"/><stop offset="0.5619" stop-color="#fad0d9"/><stop offset="0.5960" stop-color="#fad0d9"/><stop offset="0.5960" stop-color="#f8c4ce"/><stop offset="0.7107" stop-color="#f8c4ce"/><stop offset="0.7107" stop-color="#f7bac6"/><stop offset="0.8253" stop-color="#f7bac6"/><stop offset="0.8254" stop-color="#f6b0be"/><stop offset="0.9400" stop-color="#f6b0be"/><stop offset="0.9401" stop-color="#f5a7b7"/><stop offset="1.0000" stop-color="#f5a7b7"/><stop offset="1.0000" stop-color="#f49eaf"/><stop offset="1.0000" stop-color="#f49eaf"/><stop offset="1.0000" stop-color="#f498aa"/><stop offset="1" stop-color="#f498aa"/></linearGradient><linearGradient id="br36" gradientUnits="userSpaceOnUse" x1="38" y1="0" x2="310.5" y2="0"><stop offset="0.0000" stop-color="#6c80d8"/><stop offset="0.0788" stop-color="#8a9ce2"/><stop offset="0.1650" stop-color="#acb8ec"/><stop offset="0.2813" stop-color="#d4daf6"/><stop offset="0.5001" stop-color="#ffffff"/><stop offset="0.5002" stop-color="#fce8ec"/><stop offset="0.5338" stop-color="#fce8ec"/><stop offset="0.5338" stop-color="#fbdce3"/><stop offset="0.5674" stop-color="#fbdce3"/><stop offset="0.5674" stop-color="#fad0d9"/><stop offset="0.6011" stop-color="#fad0d9"/><stop offset="0.6011" stop-color="#f8c4ce"/><stop offset="0.7203" stop-color="#f8c4ce"/><stop offset="0.7204" stop-color="#f7bac6"/><stop offset="0.8396" stop-color="#f7bac6"/><stop offset="0.8396" stop-color="#f6b0be"/><stop offset="0.9589" stop-color="#f6b0be"/><stop offset="0.9589" stop-color="#f5a7b7"/><stop offset="1.0000" stop-color="#f5a7b7"/><stop offset="1.0000" stop-color="#f49eaf"/><stop offset="1.0000" stop-color="#f49eaf"/><stop offset="1.0000" stop-color="#f498aa"/><stop offset="1" stop-color="#f498aa"/></linearGradient><linearGradient id="br37" gradientUnits="userSpaceOnUse" x1="38" y1="0" x2="310.5" y2="0"><stop offset="0.0000" stop-color="#6c80d8"/><stop offset="0.0796" stop-color="#8a9ce2"/><stop offset="0.1681" stop-color="#acb8ec"/><stop offset="0.2852" stop-color="#d4daf6"/><stop offset="0.5056" stop-color="#ffffff"/><stop offset="0.5057" stop-color="#fce8ec"/><stop offset="0.5391" stop-color="#fce8ec"/><stop offset="0.5392" stop-color="#fbdce3"/><stop offset="0.5726" stop-color="#fbdce3"/><stop offset="0.5727" stop-color="#fad0d9"/><stop offset="0.6061" stop-color="#fad0d9"/><stop offset="0.6062" stop-color="#f8c4ce"/><stop offset="0.7300" stop-color="#f8c4ce"/><stop offset="0.7300" stop-color="#f7bac6"/><stop offset="0.8539" stop-color="#f7bac6"/><stop offset="0.8539" stop-color="#f6b0be"/><stop offset="0.9777" stop-color="#f6b0be"/><stop offset="0.9778" stop-color="#f5a7b7"/><stop offset="1.0000" stop-color="#f5a7b7"/><stop offset="1.0000" stop-color="#f49eaf"/><stop offset="1.0000" stop-color="#f49eaf"/><stop offset="1.0000" stop-color="#f498aa"/><stop offset="1" stop-color="#f498aa"/></linearGradient><linearGradient id="br38" gradientUnits="userSpaceOnUse" x1="38" y1="0" x2="310.5" y2="0"><stop offset="0.0000" stop-color="#6c80d8"/><stop offset="0.0805" stop-color="#8a9ce2"/><stop offset="0.1712" stop-color="#acb8ec"/><stop offset="0.2892" stop-color="#d4daf6"/><stop offset="0.5105" stop-color="#ffffff"/><stop offset="0.5105" stop-color="#fce8ec"/><stop offset="0.5441" stop-color="#fce8ec"/><stop offset="0.5441" stop-color="#fbdce3"/><stop offset="0.5776" stop-color="#fbdce3"/><stop offset="0.5777" stop-color="#fad0d9"/><stop offset="0.6112" stop-color="#fad0d9"/><stop offset="0.6113" stop-color="#f8c4ce"/><stop offset="0.7397" stop-color="#f8c4ce"/><stop offset="0.7397" stop-color="#f7bac6"/><stop offset="0.8681" stop-color="#f7bac6"/><stop offset="0.8682" stop-color="#f6b0be"/><stop offset="0.9966" stop-color="#f6b0be"/><stop offset="0.9966" stop-color="#f5a7b7"/><stop offset="1.0000" stop-color="#f5a7b7"/><stop offset="1.0000" stop-color="#f49eaf"/><stop offset="1.0000" stop-color="#f49eaf"/><stop offset="1.0000" stop-color="#f498aa"/><stop offset="1" stop-color="#f498aa"/></linearGradient><linearGradient id="br39" gradientUnits="userSpaceOnUse" x1="38" y1="0" x2="310.5" y2="0"><stop offset="0.0000" stop-color="#6c80d8"/><stop offset="0.0813" stop-color="#8a9ce2"/><stop offset="0.1744" stop-color="#acb8ec"/><stop offset="0.2932" stop-color="#d4daf6"/><stop offset="0.5153" stop-color="#ffffff"/><stop offset="0.5153" stop-color="#fce8ec"/><stop offset="0.5490" stop-color="#fce8ec"/><stop offset="0.5490" stop-color="#fbdce3"/><stop offset="0.5827" stop-color="#fbdce3"/><stop offset="0.5827" stop-color="#fad0d9"/><stop offset="0.6163" stop-color="#fad0d9"/><stop offset="0.6164" stop-color="#f8c4ce"/><stop offset="0.7494" stop-color="#f8c4ce"/><stop offset="0.7494" stop-color="#f7bac6"/><stop offset="0.8824" stop-color="#f7bac6"/><stop offset="0.8824" stop-color="#f6b0be"/><stop offset="1.0000" stop-color="#f6b0be"/><stop offset="1.0000" stop-color="#f5a7b7"/><stop offset="1.0000" stop-color="#f5a7b7"/><stop offset="1.0000" stop-color="#f49eaf"/><stop offset="1.0000" stop-color="#f49eaf"/><stop offset="1.0000" stop-color="#f498aa"/><stop offset="1" stop-color="#f498aa"/></linearGradient><linearGradient id="br40" gradientUnits="userSpaceOnUse" x1="38" y1="0" x2="310.5" y2="0"><stop offset="0.0000" stop-color="#6c80d8"/><stop offset="0.0821" stop-color="#8a9ce2"/><stop offset="0.1775" stop-color="#acb8ec"/><stop offset="0.2971" stop-color="#d4daf6"/><stop offset="0.5201" stop-color="#ffffff"/><stop offset="0.5202" stop-color="#fce8ec"/><stop offset="0.5539" stop-color="#fce8ec"/><stop offset="0.5539" stop-color="#fbdce3"/><stop offset="0.5877" stop-color="#fbdce3"/><stop offset="0.5877" stop-color="#fad0d9"/><stop offset="0.6214" stop-color="#fad0d9"/><stop offset="0.6214" stop-color="#f8c4ce"/><stop offset="0.7590" stop-color="#f8c4ce"/><stop offset="0.7591" stop-color="#f7bac6"/><stop offset="0.8967" stop-color="#f7bac6"/><stop offset="0.8967" stop-color="#f6b0be"/><stop offset="1.0000" stop-color="#f6b0be"/><stop offset="1.0000" stop-color="#f5a7b7"/><stop offset="1.0000" stop-color="#f5a7b7"/><stop offset="1.0000" stop-color="#f49eaf"/><stop offset="1.0000" stop-color="#f49eaf"/><stop offset="1.0000" stop-color="#f498aa"/><stop offset="1" stop-color="#f498aa"/></linearGradient><linearGradient id="br41" gradientUnits="userSpaceOnUse" x1="38" y1="0" x2="310.5" y2="0"><stop offset="0.0000" stop-color="#6c80d8"/><stop offset="0.0829" stop-color="#8a9ce2"/><stop offset="0.1806" stop-color="#acb8ec"/><stop offset="0.3011" stop-color="#d4daf6"/><stop offset="0.5250" stop-color="#ffffff"/><stop offset="0.5250" stop-color="#fce8ec"/><stop offset="0.5588" stop-color="#fce8ec"/><stop offset="0.5588" stop-color="#fbdce3"/><stop offset="0.5927" stop-color="#fbdce3"/><stop offset="0.5927" stop-color="#fad0d9"/><stop offset="0.6265" stop-color="#fad0d9"/><stop offset="0.6265" stop-color="#f8c4ce"/><stop offset="0.7687" stop-color="#f8c4ce"/><stop offset="0.7687" stop-color="#f7bac6"/><stop offset="0.9109" stop-color="#f7bac6"/><stop offset="0.9110" stop-color="#f6b0be"/><stop offset="1.0000" stop-color="#f6b0be"/><stop offset="1.0000" stop-color="#f5a7b7"/><stop offset="1.0000" stop-color="#f5a7b7"/><stop offset="1.0000" stop-color="#f49eaf"/><stop offset="1.0000" stop-color="#f49eaf"/><stop offset="1.0000" stop-color="#f498aa"/><stop offset="1" stop-color="#f498aa"/></linearGradient><linearGradient id="br42" gradientUnits="userSpaceOnUse" x1="38" y1="0" x2="310.5" y2="0"><stop offset="0.0000" stop-color="#6c80d8"/><stop offset="0.0837" stop-color="#8a9ce2"/><stop offset="0.1837" stop-color="#acb8ec"/><stop offset="0.3050" stop-color="#d4daf6"/><stop offset="0.5298" stop-color="#ffffff"/><stop offset="0.5298" stop-color="#fce8ec"/><stop offset="0.5637" stop-color="#fce8ec"/><stop offset="0.5638" stop-color="#fbdce3"/><stop offset="0.5977" stop-color="#fbdce3"/><stop offset="0.5977" stop-color="#fad0d9"/><stop offset="0.6316" stop-color="#fad0d9"/><stop offset="0.6316" stop-color="#f8c4ce"/><stop offset="0.7784" stop-color="#f8c4ce"/><stop offset="0.7784" stop-color="#f7bac6"/><stop offset="0.9252" stop-color="#f7bac6"/><stop offset="0.9252" stop-color="#f6b0be"/><stop offset="1.0000" stop-color="#f6b0be"/><stop offset="1.0000" stop-color="#f5a7b7"/><stop offset="1.0000" stop-color="#f5a7b7"/><stop offset="1.0000" stop-color="#f49eaf"/><stop offset="1.0000" stop-color="#f49eaf"/><stop offset="1.0000" stop-color="#f498aa"/><stop offset="1" stop-color="#f498aa"/></linearGradient><linearGradient id="br43" gradientUnits="userSpaceOnUse" x1="38" y1="0" x2="310.5" y2="0"><stop offset="0.0000" stop-color="#6c80d8"/><stop offset="0.0846" stop-color="#8a9ce2"/><stop offset="0.1868" stop-color="#acb8ec"/><stop offset="0.3090" stop-color="#d4daf6"/><stop offset="0.5346" stop-color="#ffffff"/><stop offset="0.5347" stop-color="#fce8ec"/><stop offset="0.5686" stop-color="#fce8ec"/><stop offset="0.5687" stop-color="#fbdce3"/><stop offset="0.6027" stop-color="#fbdce3"/><stop offset="0.6027" stop-color="#fad0d9"/><stop offset="0.6367" stop-color="#fad0d9"/><stop offset="0.6367" stop-color="#f8c4ce"/><stop offset="0.7881" stop-color="#f8c4ce"/><stop offset="0.7881" stop-color="#f7bac6"/><stop offset="0.9394" stop-color="#f7bac6"/><stop offset="0.9395" stop-color="#f6b0be"/><stop offset="1.0000" stop-color="#f6b0be"/><stop offset="1.0000" stop-color="#f5a7b7"/><stop offset="1.0000" stop-color="#f5a7b7"/><stop offset="1.0000" stop-color="#f49eaf"/><stop offset="1.0000" stop-color="#f49eaf"/><stop offset="1.0000" stop-color="#f498aa"/><stop offset="1" stop-color="#f498aa"/></linearGradient><linearGradient id="br44" gradientUnits="userSpaceOnUse" x1="38" y1="0" x2="310.5" y2="0"><stop offset="0.0000" stop-color="#6c80d8"/><stop offset="0.0854" stop-color="#8a9ce2"/><stop offset="0.1899" stop-color="#acb8ec"/><stop offset="0.3130" stop-color="#d4daf6"/><stop offset="0.5394" stop-color="#ffffff"/><stop offset="0.5395" stop-color="#fce8ec"/><stop offset="0.5736" stop-color="#fce8ec"/><stop offset="0.5736" stop-color="#fbdce3"/><stop offset="0.6077" stop-color="#fbdce3"/><stop offset="0.6077" stop-color="#fad0d9"/><stop offset="0.6418" stop-color="#fad0d9"/><stop offset="0.6418" stop-color="#f8c4ce"/><stop offset="0.7977" stop-color="#f8c4ce"/><stop offset="0.7978" stop-color="#f7bac6"/><stop offset="0.9537" stop-color="#f7bac6"/><stop offset="0.9537" stop-color="#f6b0be"/><stop offset="1.0000" stop-color="#f6b0be"/><stop offset="1.0000" stop-color="#f5a7b7"/><stop offset="1.0000" stop-color="#f5a7b7"/><stop offset="1.0000" stop-color="#f49eaf"/><stop offset="1.0000" stop-color="#f49eaf"/><stop offset="1.0000" stop-color="#f498aa"/><stop offset="1" stop-color="#f498aa"/></linearGradient><linearGradient id="br45" gradientUnits="userSpaceOnUse" x1="38" y1="0" x2="310.5" y2="0"><stop offset="0.0000" stop-color="#6c80d8"/><stop offset="0.0862" stop-color="#8a9ce2"/><stop offset="0.1930" stop-color="#acb8ec"/><stop offset="0.3169" stop-color="#d4daf6"/><stop offset="0.5443" stop-color="#ffffff"/><stop offset="0.5443" stop-color="#fce8ec"/><stop offset="0.5785" stop-color="#fce8ec"/><stop offset="0.5785" stop-color="#fbdce3"/><stop offset="0.6127" stop-color="#fbdce3"/><stop offset="0.6127" stop-color="#fad0d9"/><stop offset="0.6469" stop-color="#fad0d9"/><stop offset="0.6469" stop-color="#f8c4ce"/><stop offset="0.8074" stop-color="#f8c4ce"/><stop offset="0.8074" stop-color="#f7bac6"/><stop offset="0.9680" stop-color="#f7bac6"/><stop offset="0.9680" stop-color="#f6b0be"/><stop offset="1.0000" stop-color="#f6b0be"/><stop offset="1.0000" stop-color="#f5a7b7"/><stop offset="1.0000" stop-color="#f5a7b7"/><stop offset="1.0000" stop-color="#f49eaf"/><stop offset="1.0000" stop-color="#f49eaf"/><stop offset="1.0000" stop-color="#f498aa"/><stop offset="1" stop-color="#f498aa"/></linearGradient><linearGradient id="br46" gradientUnits="userSpaceOnUse" x1="38" y1="0" x2="310.5" y2="0"><stop offset="0.0000" stop-color="#6c80d8"/><stop offset="0.0870" stop-color="#8a9ce2"/><stop offset="0.1962" stop-color="#acb8ec"/><stop offset="0.3232" stop-color="#d4daf6"/><stop offset="0.5491" stop-color="#ffffff"/><stop offset="0.5491" stop-color="#fce8ec"/><stop offset="0.5834" stop-color="#fce8ec"/><stop offset="0.5834" stop-color="#fbdce3"/><stop offset="0.6177" stop-color="#fbdce3"/><stop offset="0.6177" stop-color="#fad0d9"/><stop offset="0.6519" stop-color="#fad0d9"/><stop offset="0.6520" stop-color="#f8c4ce"/><stop offset="0.8171" stop-color="#f8c4ce"/><stop offset="0.8171" stop-color="#f7bac6"/><stop offset="0.9822" stop-color="#f7bac6"/><stop offset="0.9823" stop-color="#f6b0be"/><stop offset="1.0000" stop-color="#f6b0be"/><stop offset="1.0000" stop-color="#f5a7b7"/><stop offset="1.0000" stop-color="#f5a7b7"/><stop offset="1.0000" stop-color="#f49eaf"/><stop offset="1.0000" stop-color="#f49eaf"/><stop offset="1.0000" stop-color="#f498aa"/><stop offset="1" stop-color="#f498aa"/></linearGradient><linearGradient id="br47" gradientUnits="userSpaceOnUse" x1="38" y1="0" x2="310.5" y2="0"><stop offset="0.0000" stop-color="#6c80d8"/><stop offset="0.0878" stop-color="#8a9ce2"/><stop offset="0.1993" stop-color="#acb8ec"/><stop offset="0.3317" stop-color="#d4daf6"/><stop offset="0.5539" stop-color="#ffffff"/><stop offset="0.5540" stop-color="#fce8ec"/><stop offset="0.5883" stop-color="#fce8ec"/><stop offset="0.5883" stop-color="#fbdce3"/><stop offset="0.6227" stop-color="#fbdce3"/><stop offset="0.6227" stop-color="#fad0d9"/><stop offset="0.6570" stop-color="#fad0d9"/><stop offset="0.6571" stop-color="#f8c4ce"/><stop offset="0.8268" stop-color="#f8c4ce"/><stop offset="0.8268" stop-color="#f7bac6"/><stop offset="0.9965" stop-color="#f7bac6"/><stop offset="0.9965" stop-color="#f6b0be"/><stop offset="1.0000" stop-color="#f6b0be"/><stop offset="1.0000" stop-color="#f5a7b7"/><stop offset="1.0000" stop-color="#f5a7b7"/><stop offset="1.0000" stop-color="#f49eaf"/><stop offset="1.0000" stop-color="#f49eaf"/><stop offset="1.0000" stop-color="#f498aa"/><stop offset="1" stop-color="#f498aa"/></linearGradient><linearGradient id="br48" gradientUnits="userSpaceOnUse" x1="38" y1="0" x2="310.5" y2="0"><stop offset="0.0000" stop-color="#6c80d8"/><stop offset="0.0887" stop-color="#8a9ce2"/><stop offset="0.2024" stop-color="#acb8ec"/><stop offset="0.3403" stop-color="#d4daf6"/><stop offset="0.5591" stop-color="#ffffff"/><stop offset="0.5591" stop-color="#fce8ec"/><stop offset="0.5934" stop-color="#fce8ec"/><stop offset="0.5935" stop-color="#fbdce3"/><stop offset="0.6278" stop-color="#fbdce3"/><stop offset="0.6278" stop-color="#fad0d9"/><stop offset="0.6621" stop-color="#fad0d9"/><stop offset="0.6622" stop-color="#f8c4ce"/><stop offset="0.8364" stop-color="#f8c4ce"/><stop offset="0.8365" stop-color="#f7bac6"/><stop offset="1.0000" stop-color="#f7bac6"/><stop offset="1.0000" stop-color="#f6b0be"/><stop offset="1.0000" stop-color="#f6b0be"/><stop offset="1.0000" stop-color="#f5a7b7"/><stop offset="1.0000" stop-color="#f5a7b7"/><stop offset="1.0000" stop-color="#f49eaf"/><stop offset="1.0000" stop-color="#f49eaf"/><stop offset="1.0000" stop-color="#f498aa"/><stop offset="1" stop-color="#f498aa"/></linearGradient><linearGradient id="br49" gradientUnits="userSpaceOnUse" x1="38" y1="0" x2="310.5" y2="0"><stop offset="0.0000" stop-color="#6c80d8"/><stop offset="0.0895" stop-color="#8a9ce2"/><stop offset="0.2055" stop-color="#acb8ec"/><stop offset="0.3488" stop-color="#d4daf6"/><stop offset="0.5656" stop-color="#ffffff"/><stop offset="0.5656" stop-color="#fce8ec"/><stop offset="0.6009" stop-color="#fce8ec"/><stop offset="0.6010" stop-color="#fbdce3"/><stop offset="0.6363" stop-color="#fbdce3"/><stop offset="0.6363" stop-color="#fad0d9"/><stop offset="0.6716" stop-color="#fad0d9"/><stop offset="0.6716" stop-color="#f8c4ce"/><stop offset="0.8494" stop-color="#f8c4ce"/><stop offset="0.8494" stop-color="#f7bac6"/><stop offset="1.0000" stop-color="#f7bac6"/><stop offset="1.0000" stop-color="#f6b0be"/><stop offset="1.0000" stop-color="#f6b0be"/><stop offset="1.0000" stop-color="#f5a7b7"/><stop offset="1.0000" stop-color="#f5a7b7"/><stop offset="1.0000" stop-color="#f49eaf"/><stop offset="1.0000" stop-color="#f49eaf"/><stop offset="1.0000" stop-color="#f498aa"/><stop offset="1" stop-color="#f498aa"/></linearGradient><linearGradient id="br50" gradientUnits="userSpaceOnUse" x1="38" y1="0" x2="310.5" y2="0"><stop offset="0.0000" stop-color="#6c80d8"/><stop offset="0.0903" stop-color="#8a9ce2"/><stop offset="0.2086" stop-color="#acb8ec"/><stop offset="0.3574" stop-color="#d4daf6"/><stop offset="0.5721" stop-color="#ffffff"/><stop offset="0.5721" stop-color="#fce8ec"/><stop offset="0.6118" stop-color="#fce8ec"/><stop offset="0.6118" stop-color="#fbdce3"/><stop offset="0.6515" stop-color="#fbdce3"/><stop offset="0.6516" stop-color="#fad0d9"/><stop offset="0.6912" stop-color="#fad0d9"/><stop offset="0.6913" stop-color="#f8c4ce"/><stop offset="0.8700" stop-color="#f8c4ce"/><stop offset="0.8700" stop-color="#f7bac6"/><stop offset="1.0000" stop-color="#f7bac6"/><stop offset="1.0000" stop-color="#f6b0be"/><stop offset="1.0000" stop-color="#f6b0be"/><stop offset="1.0000" stop-color="#f5a7b7"/><stop offset="1.0000" stop-color="#f5a7b7"/><stop offset="1.0000" stop-color="#f49eaf"/><stop offset="1.0000" stop-color="#f49eaf"/><stop offset="1.0000" stop-color="#f498aa"/><stop offset="1" stop-color="#f498aa"/></linearGradient><linearGradient id="br51" gradientUnits="userSpaceOnUse" x1="38" y1="0" x2="310.5" y2="0"><stop offset="0.0000" stop-color="#6c80d8"/><stop offset="0.0911" stop-color="#8a9ce2"/><stop offset="0.2117" stop-color="#acb8ec"/><stop offset="0.3659" stop-color="#d4daf6"/><stop offset="0.5786" stop-color="#ffffff"/><stop offset="0.5786" stop-color="#fce8ec"/><stop offset="0.6227" stop-color="#fce8ec"/><stop offset="0.6227" stop-color="#fbdce3"/><stop offset="0.6668" stop-color="#fbdce3"/><stop offset="0.6668" stop-color="#fad0d9"/><stop offset="0.7109" stop-color="#fad0d9"/><stop offset="0.7109" stop-color="#f8c4ce"/><stop offset="0.8906" stop-color="#f8c4ce"/><stop offset="0.8906" stop-color="#f7bac6"/><stop offset="1.0000" stop-color="#f7bac6"/><stop offset="1.0000" stop-color="#f6b0be"/><stop offset="1.0000" stop-color="#f6b0be"/><stop offset="1.0000" stop-color="#f5a7b7"/><stop offset="1.0000" stop-color="#f5a7b7"/><stop offset="1.0000" stop-color="#f49eaf"/><stop offset="1.0000" stop-color="#f49eaf"/><stop offset="1.0000" stop-color="#f498aa"/><stop offset="1" stop-color="#f498aa"/></linearGradient><linearGradient id="br52" gradientUnits="userSpaceOnUse" x1="38" y1="0" x2="310.5" y2="0"><stop offset="0.0000" stop-color="#6c80d8"/><stop offset="0.0919" stop-color="#8a9ce2"/><stop offset="0.2148" stop-color="#acb8ec"/><stop offset="0.3745" stop-color="#d4daf6"/><stop offset="0.5851" stop-color="#ffffff"/><stop offset="0.5851" stop-color="#fce8ec"/><stop offset="0.6336" stop-color="#fce8ec"/><stop offset="0.6336" stop-color="#fbdce3"/><stop offset="0.6820" stop-color="#fbdce3"/><stop offset="0.6821" stop-color="#fad0d9"/><stop offset="0.7305" stop-color="#fad0d9"/><stop offset="0.7305" stop-color="#f8c4ce"/><stop offset="0.9112" stop-color="#f8c4ce"/><stop offset="0.9112" stop-color="#f7bac6"/><stop offset="1.0000" stop-color="#f7bac6"/><stop offset="1.0000" stop-color="#f6b0be"/><stop offset="1.0000" stop-color="#f6b0be"/><stop offset="1.0000" stop-color="#f5a7b7"/><stop offset="1.0000" stop-color="#f5a7b7"/><stop offset="1.0000" stop-color="#f49eaf"/><stop offset="1.0000" stop-color="#f49eaf"/><stop offset="1.0000" stop-color="#f498aa"/><stop offset="1" stop-color="#f498aa"/></linearGradient><linearGradient id="br53" gradientUnits="userSpaceOnUse" x1="38" y1="0" x2="310.5" y2="0"><stop offset="0.0000" stop-color="#6c80d8"/><stop offset="0.0928" stop-color="#8a9ce2"/><stop offset="0.2180" stop-color="#acb8ec"/><stop offset="0.3830" stop-color="#d4daf6"/><stop offset="0.5916" stop-color="#ffffff"/><stop offset="0.5916" stop-color="#fce8ec"/><stop offset="0.6444" stop-color="#fce8ec"/><stop offset="0.6445" stop-color="#fbdce3"/><stop offset="0.6973" stop-color="#fbdce3"/><stop offset="0.6973" stop-color="#fad0d9"/><stop offset="0.7502" stop-color="#fad0d9"/><stop offset="0.7502" stop-color="#f8c4ce"/><stop offset="0.9318" stop-color="#f8c4ce"/><stop offset="0.9318" stop-color="#f7bac6"/><stop offset="1.0000" stop-color="#f7bac6"/><stop offset="1.0000" stop-color="#f6b0be"/><stop offset="1.0000" stop-color="#f6b0be"/><stop offset="1.0000" stop-color="#f5a7b7"/><stop offset="1.0000" stop-color="#f5a7b7"/><stop offset="1.0000" stop-color="#f49eaf"/><stop offset="1.0000" stop-color="#f49eaf"/><stop offset="1.0000" stop-color="#f498aa"/><stop offset="1" stop-color="#f498aa"/></linearGradient><linearGradient id="br54" gradientUnits="userSpaceOnUse" x1="38" y1="0" x2="310.5" y2="0"><stop offset="0.0000" stop-color="#6c80d8"/><stop offset="0.0936" stop-color="#8a9ce2"/><stop offset="0.2211" stop-color="#acb8ec"/><stop offset="0.3916" stop-color="#d4daf6"/><stop offset="0.5981" stop-color="#ffffff"/><stop offset="0.5981" stop-color="#fce8ec"/><stop offset="0.6553" stop-color="#fce8ec"/><stop offset="0.6554" stop-color="#fbdce3"/><stop offset="0.7126" stop-color="#fbdce3"/><stop offset="0.7126" stop-color="#fad0d9"/><stop offset="0.7698" stop-color="#fad0d9"/><stop offset="0.7698" stop-color="#f8c4ce"/><stop offset="0.9523" stop-color="#f8c4ce"/><stop offset="0.9524" stop-color="#f7bac6"/><stop offset="1.0000" stop-color="#f7bac6"/><stop offset="1.0000" stop-color="#f6b0be"/><stop offset="1.0000" stop-color="#f6b0be"/><stop offset="1.0000" stop-color="#f5a7b7"/><stop offset="1.0000" stop-color="#f5a7b7"/><stop offset="1.0000" stop-color="#f49eaf"/><stop offset="1.0000" stop-color="#f49eaf"/><stop offset="1.0000" stop-color="#f498aa"/><stop offset="1" stop-color="#f498aa"/></linearGradient><linearGradient id="br55" gradientUnits="userSpaceOnUse" x1="38" y1="0" x2="310.5" y2="0"><stop offset="0.0000" stop-color="#6c80d8"/><stop offset="0.0944" stop-color="#8a9ce2"/><stop offset="0.2242" stop-color="#acb8ec"/><stop offset="0.4001" stop-color="#d4daf6"/><stop offset="0.6046" stop-color="#ffffff"/><stop offset="0.6046" stop-color="#fce8ec"/><stop offset="0.6662" stop-color="#fce8ec"/><stop offset="0.6662" stop-color="#fbdce3"/><stop offset="0.7278" stop-color="#fbdce3"/><stop offset="0.7279" stop-color="#fad0d9"/><stop offset="0.7894" stop-color="#fad0d9"/><stop offset="0.7895" stop-color="#f8c4ce"/><stop offset="0.9729" stop-color="#f8c4ce"/><stop offset="0.9730" stop-color="#f7bac6"/><stop offset="1.0000" stop-color="#f7bac6"/><stop offset="1.0000" stop-color="#f6b0be"/><stop offset="1.0000" stop-color="#f6b0be"/><stop offset="1.0000" stop-color="#f5a7b7"/><stop offset="1.0000" stop-color="#f5a7b7"/><stop offset="1.0000" stop-color="#f49eaf"/><stop offset="1.0000" stop-color="#f49eaf"/><stop offset="1.0000" stop-color="#f498aa"/><stop offset="1" stop-color="#f498aa"/></linearGradient><linearGradient id="br56" gradientUnits="userSpaceOnUse" x1="38" y1="0" x2="310.5" y2="0"><stop offset="0.0000" stop-color="#6c80d8"/><stop offset="0.0952" stop-color="#8a9ce2"/><stop offset="0.2273" stop-color="#acb8ec"/><stop offset="0.4087" stop-color="#d4daf6"/><stop offset="0.6111" stop-color="#ffffff"/><stop offset="0.6111" stop-color="#fce8ec"/><stop offset="0.6771" stop-color="#fce8ec"/><stop offset="0.6771" stop-color="#fbdce3"/><stop offset="0.7431" stop-color="#fbdce3"/><stop offset="0.7431" stop-color="#fad0d9"/><stop offset="0.8091" stop-color="#fad0d9"/><stop offset="0.8091" stop-color="#f8c4ce"/><stop offset="0.9935" stop-color="#f8c4ce"/><stop offset="0.9936" stop-color="#f7bac6"/><stop offset="1.0000" stop-color="#f7bac6"/><stop offset="1.0000" stop-color="#f6b0be"/><stop offset="1.0000" stop-color="#f6b0be"/><stop offset="1.0000" stop-color="#f5a7b7"/><stop offset="1.0000" stop-color="#f5a7b7"/><stop offset="1.0000" stop-color="#f49eaf"/><stop offset="1.0000" stop-color="#f49eaf"/><stop offset="1.0000" stop-color="#f498aa"/><stop offset="1" stop-color="#f498aa"/></linearGradient><linearGradient id="br57" gradientUnits="userSpaceOnUse" x1="38" y1="0" x2="310.5" y2="0"><stop offset="0.0000" stop-color="#6c80d8"/><stop offset="0.0961" stop-color="#8a9ce2"/><stop offset="0.2304" stop-color="#acb8ec"/><stop offset="0.4172" stop-color="#d4daf6"/><stop offset="0.6176" stop-color="#ffffff"/><stop offset="0.6176" stop-color="#fce8ec"/><stop offset="0.6880" stop-color="#fce8ec"/><stop offset="0.6880" stop-color="#fbdce3"/><stop offset="0.7583" stop-color="#fbdce3"/><stop offset="0.7584" stop-color="#fad0d9"/><stop offset="0.8287" stop-color="#fad0d9"/><stop offset="0.8288" stop-color="#f8c4ce"/><stop offset="1.0000" stop-color="#f8c4ce"/><stop offset="1.0000" stop-color="#f7bac6"/><stop offset="1.0000" stop-color="#f7bac6"/><stop offset="1.0000" stop-color="#f6b0be"/><stop offset="1.0000" stop-color="#f6b0be"/><stop offset="1.0000" stop-color="#f5a7b7"/><stop offset="1.0000" stop-color="#f5a7b7"/><stop offset="1.0000" stop-color="#f49eaf"/><stop offset="1.0000" stop-color="#f49eaf"/><stop offset="1.0000" stop-color="#f498aa"/><stop offset="1" stop-color="#f498aa"/></linearGradient><linearGradient id="br58" gradientUnits="userSpaceOnUse" x1="38" y1="0" x2="310.5" y2="0"><stop offset="0.0000" stop-color="#6c80d8"/><stop offset="0.0969" stop-color="#8a9ce2"/><stop offset="0.2335" stop-color="#acb8ec"/><stop offset="0.4258" stop-color="#d4daf6"/><stop offset="0.6241" stop-color="#ffffff"/><stop offset="0.6241" stop-color="#fce8ec"/><stop offset="0.6988" stop-color="#fce8ec"/><stop offset="0.6989" stop-color="#fbdce3"/><stop offset="0.7736" stop-color="#fbdce3"/><stop offset="0.7736" stop-color="#fad0d9"/><stop offset="0.8484" stop-color="#fad0d9"/><stop offset="0.8484" stop-color="#f8c4ce"/><stop offset="1.0000" stop-color="#f8c4ce"/><stop offset="1.0000" stop-color="#f7bac6"/><stop offset="1.0000" stop-color="#f7bac6"/><stop offset="1.0000" stop-color="#f6b0be"/><stop offset="1.0000" stop-color="#f6b0be"/><stop offset="1.0000" stop-color="#f5a7b7"/><stop offset="1.0000" stop-color="#f5a7b7"/><stop offset="1.0000" stop-color="#f49eaf"/><stop offset="1.0000" stop-color="#f49eaf"/><stop offset="1.0000" stop-color="#f498aa"/><stop offset="1" stop-color="#f498aa"/></linearGradient><linearGradient id="br59" gradientUnits="userSpaceOnUse" x1="38" y1="0" x2="310.5" y2="0"><stop offset="0.0000" stop-color="#6c80d8"/><stop offset="0.0984" stop-color="#8a9ce2"/><stop offset="0.2374" stop-color="#acb8ec"/><stop offset="0.4343" stop-color="#d4daf6"/><stop offset="0.6306" stop-color="#ffffff"/><stop offset="0.6306" stop-color="#fce8ec"/><stop offset="0.7097" stop-color="#fce8ec"/><stop offset="0.7098" stop-color="#fbdce3"/><stop offset="0.7889" stop-color="#fbdce3"/><stop offset="0.7889" stop-color="#fad0d9"/><stop offset="0.8680" stop-color="#fad0d9"/><stop offset="0.8680" stop-color="#f8c4ce"/><stop offset="1.0000" stop-color="#f8c4ce"/><stop offset="1.0000" stop-color="#f7bac6"/><stop offset="1.0000" stop-color="#f7bac6"/><stop offset="1.0000" stop-color="#f6b0be"/><stop offset="1.0000" stop-color="#f6b0be"/><stop offset="1.0000" stop-color="#f5a7b7"/><stop offset="1.0000" stop-color="#f5a7b7"/><stop offset="1.0000" stop-color="#f49eaf"/><stop offset="1.0000" stop-color="#f49eaf"/><stop offset="1.0000" stop-color="#f498aa"/><stop offset="1" stop-color="#f498aa"/></linearGradient><linearGradient id="br60" gradientUnits="userSpaceOnUse" x1="38" y1="0" x2="310.5" y2="0"><stop offset="0.0000" stop-color="#6c80d8"/><stop offset="0.1064" stop-color="#8a9ce2"/><stop offset="0.2480" stop-color="#acb8ec"/><stop offset="0.4429" stop-color="#d4daf6"/><stop offset="0.6371" stop-color="#ffffff"/><stop offset="0.6371" stop-color="#fce8ec"/><stop offset="0.7206" stop-color="#fce8ec"/><stop offset="0.7206" stop-color="#fbdce3"/><stop offset="0.8041" stop-color="#fbdce3"/><stop offset="0.8042" stop-color="#fad0d9"/><stop offset="0.8876" stop-color="#fad0d9"/><stop offset="0.8877" stop-color="#f8c4ce"/><stop offset="1.0000" stop-color="#f8c4ce"/><stop offset="1.0000" stop-color="#f7bac6"/><stop offset="1.0000" stop-color="#f7bac6"/><stop offset="1.0000" stop-color="#f6b0be"/><stop offset="1.0000" stop-color="#f6b0be"/><stop offset="1.0000" stop-color="#f5a7b7"/><stop offset="1.0000" stop-color="#f5a7b7"/><stop offset="1.0000" stop-color="#f49eaf"/><stop offset="1.0000" stop-color="#f49eaf"/><stop offset="1.0000" stop-color="#f498aa"/><stop offset="1" stop-color="#f498aa"/></linearGradient><linearGradient id="br61" gradientUnits="userSpaceOnUse" x1="38" y1="0" x2="310.5" y2="0"><stop offset="0.0000" stop-color="#6c80d8"/><stop offset="0.1143" stop-color="#8a9ce2"/><stop offset="0.2586" stop-color="#acb8ec"/><stop offset="0.4514" stop-color="#d4daf6"/><stop offset="0.6436" stop-color="#ffffff"/><stop offset="0.6436" stop-color="#fce8ec"/><stop offset="0.7315" stop-color="#fce8ec"/><stop offset="0.7315" stop-color="#fbdce3"/><stop offset="0.8194" stop-color="#fbdce3"/><stop offset="0.8194" stop-color="#fad0d9"/><stop offset="0.9073" stop-color="#fad0d9"/><stop offset="0.9073" stop-color="#f8c4ce"/><stop offset="1.0000" stop-color="#f8c4ce"/><stop offset="1.0000" stop-color="#f7bac6"/><stop offset="1.0000" stop-color="#f7bac6"/><stop offset="1.0000" stop-color="#f6b0be"/><stop offset="1.0000" stop-color="#f6b0be"/><stop offset="1.0000" stop-color="#f5a7b7"/><stop offset="1.0000" stop-color="#f5a7b7"/><stop offset="1.0000" stop-color="#f49eaf"/><stop offset="1.0000" stop-color="#f49eaf"/><stop offset="1.0000" stop-color="#f498aa"/><stop offset="1" stop-color="#f498aa"/></linearGradient><linearGradient id="br62" gradientUnits="userSpaceOnUse" x1="38" y1="0" x2="310.5" y2="0"><stop offset="0.0000" stop-color="#6c80d8"/><stop offset="0.1223" stop-color="#8a9ce2"/><stop offset="0.2692" stop-color="#acb8ec"/><stop offset="0.4600" stop-color="#d4daf6"/><stop offset="0.6501" stop-color="#ffffff"/><stop offset="0.6501" stop-color="#fce8ec"/><stop offset="0.7424" stop-color="#fce8ec"/><stop offset="0.7424" stop-color="#fbdce3"/><stop offset="0.8347" stop-color="#fbdce3"/><stop offset="0.8347" stop-color="#fad0d9"/><stop offset="0.9269" stop-color="#fad0d9"/><stop offset="0.9270" stop-color="#f8c4ce"/><stop offset="1.0000" stop-color="#f8c4ce"/><stop offset="1.0000" stop-color="#f7bac6"/><stop offset="1.0000" stop-color="#f7bac6"/><stop offset="1.0000" stop-color="#f6b0be"/><stop offset="1.0000" stop-color="#f6b0be"/><stop offset="1.0000" stop-color="#f5a7b7"/><stop offset="1.0000" stop-color="#f5a7b7"/><stop offset="1.0000" stop-color="#f49eaf"/><stop offset="1.0000" stop-color="#f49eaf"/><stop offset="1.0000" stop-color="#f498aa"/><stop offset="1" stop-color="#f498aa"/></linearGradient><linearGradient id="br63" gradientUnits="userSpaceOnUse" x1="38" y1="0" x2="310.5" y2="0"><stop offset="0.0000" stop-color="#6c80d8"/><stop offset="0.1302" stop-color="#8a9ce2"/><stop offset="0.2798" stop-color="#acb8ec"/><stop offset="0.4685" stop-color="#d4daf6"/><stop offset="0.6566" stop-color="#ffffff"/><stop offset="0.6566" stop-color="#fce8ec"/><stop offset="0.7533" stop-color="#fce8ec"/><stop offset="0.7533" stop-color="#fbdce3"/><stop offset="0.8499" stop-color="#fbdce3"/><stop offset="0.8500" stop-color="#fad0d9"/><stop offset="0.9466" stop-color="#fad0d9"/><stop offset="0.9466" stop-color="#f8c4ce"/><stop offset="1.0000" stop-color="#f8c4ce"/><stop offset="1.0000" stop-color="#f7bac6"/><stop offset="1.0000" stop-color="#f7bac6"/><stop offset="1.0000" stop-color="#f6b0be"/><stop offset="1.0000" stop-color="#f6b0be"/><stop offset="1.0000" stop-color="#f5a7b7"/><stop offset="1.0000" stop-color="#f5a7b7"/><stop offset="1.0000" stop-color="#f49eaf"/><stop offset="1.0000" stop-color="#f49eaf"/><stop offset="1.0000" stop-color="#f498aa"/><stop offset="1" stop-color="#f498aa"/></linearGradient><linearGradient id="br64" gradientUnits="userSpaceOnUse" x1="38" y1="0" x2="310.5" y2="0"><stop offset="0.0000" stop-color="#6c80d8"/><stop offset="0.1382" stop-color="#8a9ce2"/><stop offset="0.2904" stop-color="#acb8ec"/><stop offset="0.4771" stop-color="#d4daf6"/><stop offset="0.6631" stop-color="#ffffff"/><stop offset="0.6631" stop-color="#fce8ec"/><stop offset="0.7641" stop-color="#fce8ec"/><stop offset="0.7642" stop-color="#fbdce3"/><stop offset="0.8652" stop-color="#fbdce3"/><stop offset="0.8652" stop-color="#fad0d9"/><stop offset="0.9662" stop-color="#fad0d9"/><stop offset="0.9663" stop-color="#f8c4ce"/><stop offset="1.0000" stop-color="#f8c4ce"/><stop offset="1.0000" stop-color="#f7bac6"/><stop offset="1.0000" stop-color="#f7bac6"/><stop offset="1.0000" stop-color="#f6b0be"/><stop offset="1.0000" stop-color="#f6b0be"/><stop offset="1.0000" stop-color="#f5a7b7"/><stop offset="1.0000" stop-color="#f5a7b7"/><stop offset="1.0000" stop-color="#f49eaf"/><stop offset="1.0000" stop-color="#f49eaf"/><stop offset="1.0000" stop-color="#f498aa"/><stop offset="1" stop-color="#f498aa"/></linearGradient><linearGradient id="br65" gradientUnits="userSpaceOnUse" x1="38" y1="0" x2="310.5" y2="0"><stop offset="0.0000" stop-color="#6c80d8"/><stop offset="0.1462" stop-color="#8a9ce2"/><stop offset="0.3011" stop-color="#acb8ec"/><stop offset="0.4856" stop-color="#d4daf6"/><stop offset="0.6780" stop-color="#ffffff"/><stop offset="0.6780" stop-color="#fce8ec"/><stop offset="0.7806" stop-color="#fce8ec"/><stop offset="0.7807" stop-color="#fbdce3"/><stop offset="0.8832" stop-color="#fbdce3"/><stop offset="0.8833" stop-color="#fad0d9"/><stop offset="0.9859" stop-color="#fad0d9"/><stop offset="0.9859" stop-color="#f8c4ce"/><stop offset="1.0000" stop-color="#f8c4ce"/><stop offset="1.0000" stop-color="#f7bac6"/><stop offset="1.0000" stop-color="#f7bac6"/><stop offset="1.0000" stop-color="#f6b0be"/><stop offset="1.0000" stop-color="#f6b0be"/><stop offset="1.0000" stop-color="#f5a7b7"/><stop offset="1.0000" stop-color="#f5a7b7"/><stop offset="1.0000" stop-color="#f49eaf"/><stop offset="1.0000" stop-color="#f49eaf"/><stop offset="1.0000" stop-color="#f498aa"/><stop offset="1" stop-color="#f498aa"/></linearGradient><linearGradient id="br66" gradientUnits="userSpaceOnUse" x1="38" y1="0" x2="310.5" y2="0"><stop offset="0.0000" stop-color="#6c80d8"/><stop offset="0.1541" stop-color="#8a9ce2"/><stop offset="0.3117" stop-color="#acb8ec"/><stop offset="0.4942" stop-color="#d4daf6"/><stop offset="0.6985" stop-color="#ffffff"/><stop offset="0.6986" stop-color="#fce8ec"/><stop offset="0.8009" stop-color="#fce8ec"/><stop offset="0.8009" stop-color="#fbdce3"/><stop offset="0.9032" stop-color="#fbdce3"/><stop offset="0.9032" stop-color="#fad0d9"/><stop offset="1.0000" stop-color="#fad0d9"/><stop offset="1.0000" stop-color="#f8c4ce"/><stop offset="1.0000" stop-color="#f8c4ce"/><stop offset="1.0000" stop-color="#f7bac6"/><stop offset="1.0000" stop-color="#f7bac6"/><stop offset="1.0000" stop-color="#f6b0be"/><stop offset="1.0000" stop-color="#f6b0be"/><stop offset="1.0000" stop-color="#f5a7b7"/><stop offset="1.0000" stop-color="#f5a7b7"/><stop offset="1.0000" stop-color="#f49eaf"/><stop offset="1.0000" stop-color="#f49eaf"/><stop offset="1.0000" stop-color="#f498aa"/><stop offset="1" stop-color="#f498aa"/></linearGradient><linearGradient id="br67" gradientUnits="userSpaceOnUse" x1="38" y1="0" x2="310.5" y2="0"><stop offset="0.0000" stop-color="#6c80d8"/><stop offset="0.1621" stop-color="#8a9ce2"/><stop offset="0.3223" stop-color="#acb8ec"/><stop offset="0.5028" stop-color="#d4daf6"/><stop offset="0.7191" stop-color="#ffffff"/><stop offset="0.7191" stop-color="#fce8ec"/><stop offset="0.8211" stop-color="#fce8ec"/><stop offset="0.8211" stop-color="#fbdce3"/><stop offset="0.9231" stop-color="#fbdce3"/><stop offset="0.9232" stop-color="#fad0d9"/><stop offset="1.0000" stop-color="#fad0d9"/><stop offset="1.0000" stop-color="#f8c4ce"/><stop offset="1.0000" stop-color="#f8c4ce"/><stop offset="1.0000" stop-color="#f7bac6"/><stop offset="1.0000" stop-color="#f7bac6"/><stop offset="1.0000" stop-color="#f6b0be"/><stop offset="1.0000" stop-color="#f6b0be"/><stop offset="1.0000" stop-color="#f5a7b7"/><stop offset="1.0000" stop-color="#f5a7b7"/><stop offset="1.0000" stop-color="#f49eaf"/><stop offset="1.0000" stop-color="#f49eaf"/><stop offset="1.0000" stop-color="#f498aa"/><stop offset="1" stop-color="#f498aa"/></linearGradient><linearGradient id="br68" gradientUnits="userSpaceOnUse" x1="38" y1="0" x2="310.5" y2="0"><stop offset="0.0000" stop-color="#6c80d8"/><stop offset="0.1700" stop-color="#8a9ce2"/><stop offset="0.3329" stop-color="#acb8ec"/><stop offset="0.5139" stop-color="#d4daf6"/><stop offset="0.7396" stop-color="#ffffff"/><stop offset="0.7396" stop-color="#fce8ec"/><stop offset="0.8413" stop-color="#fce8ec"/><stop offset="0.8414" stop-color="#fbdce3"/><stop offset="0.9431" stop-color="#fbdce3"/><stop offset="0.9431" stop-color="#fad0d9"/><stop offset="1.0000" stop-color="#fad0d9"/><stop offset="1.0000" stop-color="#f8c4ce"/><stop offset="1.0000" stop-color="#f8c4ce"/><stop offset="1.0000" stop-color="#f7bac6"/><stop offset="1.0000" stop-color="#f7bac6"/><stop offset="1.0000" stop-color="#f6b0be"/><stop offset="1.0000" stop-color="#f6b0be"/><stop offset="1.0000" stop-color="#f5a7b7"/><stop offset="1.0000" stop-color="#f5a7b7"/><stop offset="1.0000" stop-color="#f49eaf"/><stop offset="1.0000" stop-color="#f49eaf"/><stop offset="1.0000" stop-color="#f498aa"/><stop offset="1" stop-color="#f498aa"/></linearGradient><linearGradient id="br69" gradientUnits="userSpaceOnUse" x1="38" y1="0" x2="310.5" y2="0"><stop offset="0.0000" stop-color="#6c80d8"/><stop offset="0.1780" stop-color="#8a9ce2"/><stop offset="0.3435" stop-color="#acb8ec"/><stop offset="0.5251" stop-color="#d4daf6"/><stop offset="0.7601" stop-color="#ffffff"/><stop offset="0.7602" stop-color="#fce8ec"/><stop offset="0.8616" stop-color="#fce8ec"/><stop offset="0.8616" stop-color="#fbdce3"/><stop offset="0.9630" stop-color="#fbdce3"/><stop offset="0.9630" stop-color="#fad0d9"/><stop offset="1.0000" stop-color="#fad0d9"/><stop offset="1.0000" stop-color="#f8c4ce"/><stop offset="1.0000" stop-color="#f8c4ce"/><stop offset="1.0000" stop-color="#f7bac6"/><stop offset="1.0000" stop-color="#f7bac6"/><stop offset="1.0000" stop-color="#f6b0be"/><stop offset="1.0000" stop-color="#f6b0be"/><stop offset="1.0000" stop-color="#f5a7b7"/><stop offset="1.0000" stop-color="#f5a7b7"/><stop offset="1.0000" stop-color="#f49eaf"/><stop offset="1.0000" stop-color="#f49eaf"/><stop offset="1.0000" stop-color="#f498aa"/><stop offset="1" stop-color="#f498aa"/></linearGradient><linearGradient id="br70" gradientUnits="userSpaceOnUse" x1="38" y1="0" x2="310.5" y2="0"><stop offset="0.0000" stop-color="#6c80d8"/><stop offset="0.1859" stop-color="#8a9ce2"/><stop offset="0.3541" stop-color="#acb8ec"/><stop offset="0.5363" stop-color="#d4daf6"/><stop offset="0.7806" stop-color="#ffffff"/><stop offset="0.7807" stop-color="#fce8ec"/><stop offset="0.8818" stop-color="#fce8ec"/><stop offset="0.8818" stop-color="#fbdce3"/><stop offset="0.9829" stop-color="#fbdce3"/><stop offset="0.9830" stop-color="#fad0d9"/><stop offset="1.0000" stop-color="#fad0d9"/><stop offset="1.0000" stop-color="#f8c4ce"/><stop offset="1.0000" stop-color="#f8c4ce"/><stop offset="1.0000" stop-color="#f7bac6"/><stop offset="1.0000" stop-color="#f7bac6"/><stop offset="1.0000" stop-color="#f6b0be"/><stop offset="1.0000" stop-color="#f6b0be"/><stop offset="1.0000" stop-color="#f5a7b7"/><stop offset="1.0000" stop-color="#f5a7b7"/><stop offset="1.0000" stop-color="#f49eaf"/><stop offset="1.0000" stop-color="#f49eaf"/><stop offset="1.0000" stop-color="#f498aa"/><stop offset="1" stop-color="#f498aa"/></linearGradient><linearGradient id="br71" gradientUnits="userSpaceOnUse" x1="38" y1="0" x2="310.5" y2="0"><stop offset="0.0000" stop-color="#6c80d8"/><stop offset="0.1939" stop-color="#8a9ce2"/><stop offset="0.3647" stop-color="#acb8ec"/><stop offset="0.5474" stop-color="#d4daf6"/><stop offset="0.8012" stop-color="#ffffff"/><stop offset="0.8012" stop-color="#fce8ec"/><stop offset="0.9020" stop-color="#fce8ec"/><stop offset="0.9021" stop-color="#fbdce3"/><stop offset="1.0000" stop-color="#fbdce3"/><stop offset="1.0000" stop-color="#fad0d9"/><stop offset="1.0000" stop-color="#fad0d9"/><stop offset="1.0000" stop-color="#f8c4ce"/><stop offset="1.0000" stop-color="#f8c4ce"/><stop offset="1.0000" stop-color="#f7bac6"/><stop offset="1.0000" stop-color="#f7bac6"/><stop offset="1.0000" stop-color="#f6b0be"/><stop offset="1.0000" stop-color="#f6b0be"/><stop offset="1.0000" stop-color="#f5a7b7"/><stop offset="1.0000" stop-color="#f5a7b7"/><stop offset="1.0000" stop-color="#f49eaf"/><stop offset="1.0000" stop-color="#f49eaf"/><stop offset="1.0000" stop-color="#f498aa"/><stop offset="1" stop-color="#f498aa"/></linearGradient><linearGradient id="br72" gradientUnits="userSpaceOnUse" x1="38" y1="0" x2="310.5" y2="0"><stop offset="0.0000" stop-color="#6c80d8"/><stop offset="0.2019" stop-color="#8a9ce2"/><stop offset="0.3753" stop-color="#acb8ec"/><stop offset="0.5586" stop-color="#d4daf6"/><stop offset="0.8217" stop-color="#ffffff"/><stop offset="0.8217" stop-color="#fce8ec"/><stop offset="0.9223" stop-color="#fce8ec"/><stop offset="0.9223" stop-color="#fbdce3"/><stop offset="1.0000" stop-color="#fbdce3"/><stop offset="1.0000" stop-color="#fad0d9"/><stop offset="1.0000" stop-color="#fad0d9"/><stop offset="1.0000" stop-color="#f8c4ce"/><stop offset="1.0000" stop-color="#f8c4ce"/><stop offset="1.0000" stop-color="#f7bac6"/><stop offset="1.0000" stop-color="#f7bac6"/><stop offset="1.0000" stop-color="#f6b0be"/><stop offset="1.0000" stop-color="#f6b0be"/><stop offset="1.0000" stop-color="#f5a7b7"/><stop offset="1.0000" stop-color="#f5a7b7"/><stop offset="1.0000" stop-color="#f49eaf"/><stop offset="1.0000" stop-color="#f49eaf"/><stop offset="1.0000" stop-color="#f498aa"/><stop offset="1" stop-color="#f498aa"/></linearGradient><linearGradient id="br73" gradientUnits="userSpaceOnUse" x1="38" y1="0" x2="310.5" y2="0"><stop offset="0.0000" stop-color="#6c80d8"/><stop offset="0.2098" stop-color="#8a9ce2"/><stop offset="0.3859" stop-color="#acb8ec"/><stop offset="0.5698" stop-color="#d4daf6"/><stop offset="0.8422" stop-color="#ffffff"/><stop offset="0.8423" stop-color="#fce8ec"/><stop offset="0.9425" stop-color="#fce8ec"/><stop offset="0.9425" stop-color="#fbdce3"/><stop offset="1.0000" stop-color="#fbdce3"/><stop offset="1.0000" stop-color="#fad0d9"/><stop offset="1.0000" stop-color="#fad0d9"/><stop offset="1.0000" stop-color="#f8c4ce"/><stop offset="1.0000" stop-color="#f8c4ce"/><stop offset="1.0000" stop-color="#f7bac6"/><stop offset="1.0000" stop-color="#f7bac6"/><stop offset="1.0000" stop-color="#f6b0be"/><stop offset="1.0000" stop-color="#f6b0be"/><stop offset="1.0000" stop-color="#f5a7b7"/><stop offset="1.0000" stop-color="#f5a7b7"/><stop offset="1.0000" stop-color="#f49eaf"/><stop offset="1.0000" stop-color="#f49eaf"/><stop offset="1.0000" stop-color="#f498aa"/><stop offset="1" stop-color="#f498aa"/></linearGradient><linearGradient id="br74" gradientUnits="userSpaceOnUse" x1="38" y1="0" x2="310.5" y2="0"><stop offset="0.0000" stop-color="#6c80d8"/><stop offset="0.2178" stop-color="#8a9ce2"/><stop offset="0.3965" stop-color="#acb8ec"/><stop offset="0.5809" stop-color="#d4daf6"/><stop offset="0.8628" stop-color="#ffffff"/><stop offset="0.8628" stop-color="#fce8ec"/><stop offset="0.9627" stop-color="#fce8ec"/><stop offset="0.9628" stop-color="#fbdce3"/><stop offset="1.0000" stop-color="#fbdce3"/><stop offset="1.0000" stop-color="#fad0d9"/><stop offset="1.0000" stop-color="#fad0d9"/><stop offset="1.0000" stop-color="#f8c4ce"/><stop offset="1.0000" stop-color="#f8c4ce"/><stop offset="1.0000" stop-color="#f7bac6"/><stop offset="1.0000" stop-color="#f7bac6"/><stop offset="1.0000" stop-color="#f6b0be"/><stop offset="1.0000" stop-color="#f6b0be"/><stop offset="1.0000" stop-color="#f5a7b7"/><stop offset="1.0000" stop-color="#f5a7b7"/><stop offset="1.0000" stop-color="#f49eaf"/><stop offset="1.0000" stop-color="#f49eaf"/><stop offset="1.0000" stop-color="#f498aa"/><stop offset="1" stop-color="#f498aa"/></linearGradient><linearGradient id="br75" gradientUnits="userSpaceOnUse" x1="38" y1="0" x2="310.5" y2="0"><stop offset="0.0000" stop-color="#6c80d8"/><stop offset="0.2257" stop-color="#8a9ce2"/><stop offset="0.4072" stop-color="#acb8ec"/><stop offset="0.5921" stop-color="#d4daf6"/><stop offset="0.8833" stop-color="#ffffff"/><stop offset="0.8833" stop-color="#fce8ec"/><stop offset="0.9829" stop-color="#fce8ec"/><stop offset="0.9830" stop-color="#fbdce3"/><stop offset="1.0000" stop-color="#fbdce3"/><stop offset="1.0000" stop-color="#fad0d9"/><stop offset="1.0000" stop-color="#fad0d9"/><stop offset="1.0000" stop-color="#f8c4ce"/><stop offset="1.0000" stop-color="#f8c4ce"/><stop offset="1.0000" stop-color="#f7bac6"/><stop offset="1.0000" stop-color="#f7bac6"/><stop offset="1.0000" stop-color="#f6b0be"/><stop offset="1.0000" stop-color="#f6b0be"/><stop offset="1.0000" stop-color="#f5a7b7"/><stop offset="1.0000" stop-color="#f5a7b7"/><stop offset="1.0000" stop-color="#f49eaf"/><stop offset="1.0000" stop-color="#f49eaf"/><stop offset="1.0000" stop-color="#f498aa"/><stop offset="1" stop-color="#f498aa"/></linearGradient><linearGradient id="br76" gradientUnits="userSpaceOnUse" x1="38" y1="0" x2="310.5" y2="0"><stop offset="0.0000" stop-color="#6c80d8"/><stop offset="0.2337" stop-color="#8a9ce2"/><stop offset="0.4178" stop-color="#acb8ec"/><stop offset="0.6033" stop-color="#d4daf6"/><stop offset="0.9038" stop-color="#ffffff"/><stop offset="0.9038" stop-color="#fce8ec"/><stop offset="1.0000" stop-color="#fce8ec"/><stop offset="1.0000" stop-color="#fbdce3"/><stop offset="1.0000" stop-color="#fbdce3"/><stop offset="1.0000" stop-color="#fad0d9"/><stop offset="1.0000" stop-color="#fad0d9"/><stop offset="1.0000" stop-color="#f8c4ce"/><stop offset="1.0000" stop-color="#f8c4ce"/><stop offset="1.0000" stop-color="#f7bac6"/><stop offset="1.0000" stop-color="#f7bac6"/><stop offset="1.0000" stop-color="#f6b0be"/><stop offset="1.0000" stop-color="#f6b0be"/><stop offset="1.0000" stop-color="#f5a7b7"/><stop offset="1.0000" stop-color="#f5a7b7"/><stop offset="1.0000" stop-color="#f49eaf"/><stop offset="1.0000" stop-color="#f49eaf"/><stop offset="1.0000" stop-color="#f498aa"/><stop offset="1" stop-color="#f498aa"/></linearGradient><linearGradient id="br77" gradientUnits="userSpaceOnUse" x1="38" y1="0" x2="310.5" y2="0"><stop offset="0.0000" stop-color="#6c80d8"/><stop offset="0.2416" stop-color="#8a9ce2"/><stop offset="0.4284" stop-color="#acb8ec"/><stop offset="0.6144" stop-color="#d4daf6"/><stop offset="0.9243" stop-color="#ffffff"/><stop offset="0.9244" stop-color="#fce8ec"/><stop offset="1.0000" stop-color="#fce8ec"/><stop offset="1.0000" stop-color="#fbdce3"/><stop offset="1.0000" stop-color="#fbdce3"/><stop offset="1.0000" stop-color="#fad0d9"/><stop offset="1.0000" stop-color="#fad0d9"/><stop offset="1.0000" stop-color="#f8c4ce"/><stop offset="1.0000" stop-color="#f8c4ce"/><stop offset="1.0000" stop-color="#f7bac6"/><stop offset="1.0000" stop-color="#f7bac6"/><stop offset="1.0000" stop-color="#f6b0be"/><stop offset="1.0000" stop-color="#f6b0be"/><stop offset="1.0000" stop-color="#f5a7b7"/><stop offset="1.0000" stop-color="#f5a7b7"/><stop offset="1.0000" stop-color="#f49eaf"/><stop offset="1.0000" stop-color="#f49eaf"/><stop offset="1.0000" stop-color="#f498aa"/><stop offset="1" stop-color="#f498aa"/></linearGradient><linearGradient id="br78" gradientUnits="userSpaceOnUse" x1="38" y1="0" x2="310.5" y2="0"><stop offset="0.0000" stop-color="#6c80d8"/><stop offset="0.2515" stop-color="#8a9ce2"/><stop offset="0.4367" stop-color="#acb8ec"/><stop offset="0.6256" stop-color="#d4daf6"/><stop offset="0.9468" stop-color="#ffffff"/><stop offset="0.9468" stop-color="#fce8ec"/><stop offset="1.0000" stop-color="#fce8ec"/><stop offset="1.0000" stop-color="#fbdce3"/><stop offset="1.0000" stop-color="#fbdce3"/><stop offset="1.0000" stop-color="#fad0d9"/><stop offset="1.0000" stop-color="#fad0d9"/><stop offset="1.0000" stop-color="#f8c4ce"/><stop offset="1.0000" stop-color="#f8c4ce"/><stop offset="1.0000" stop-color="#f7bac6"/><stop offset="1.0000" stop-color="#f7bac6"/><stop offset="1.0000" stop-color="#f6b0be"/><stop offset="1.0000" stop-color="#f6b0be"/><stop offset="1.0000" stop-color="#f5a7b7"/><stop offset="1.0000" stop-color="#f5a7b7"/><stop offset="1.0000" stop-color="#f49eaf"/><stop offset="1.0000" stop-color="#f49eaf"/><stop offset="1.0000" stop-color="#f498aa"/><stop offset="1" stop-color="#f498aa"/></linearGradient><linearGradient id="cbar" x1="0" y1="1" x2="0" y2="0"><stop offset="0" stop-color="#6a80d8"/><stop offset="0.167" stop-color="#93a3e2"/><stop offset="0.333" stop-color="#b9c4ec"/><stop offset="0.5" stop-color="#e2e6f6"/><stop offset="0.62" stop-color="#ffffff"/><stop offset="0.7" stop-color="#fdeef1"/><stop offset="0.833" stop-color="#f9c6d0"/><stop offset="1" stop-color="#f58a9c"/></linearGradient><linearGradient id="yax" x1="0" y1="1" x2="0" y2="0"><stop offset="0" stop-color="#ffffff"/><stop offset="1" stop-color="#6b7fd8"/></linearGradient><linearGradient id="xax" x1="0" y1="0" x2="1" y2="0"><stop offset="0" stop-color="#ffffff"/><stop offset="1" stop-color="#e0507a"/></linearGradient><linearGradient id="crv" gradientUnits="userSpaceOnUse" x1="452" y1="99" x2="603" y2="226"><stop offset="0" stop-color="#5a6fd6"/><stop offset="0.5" stop-color="#8a5cbf"/><stop offset="1" stop-color="#e0507a"/></linearGradient><linearGradient id="topl" gradientUnits="userSpaceOnUse" x1="452" y1="0" x2="603" y2="0"><stop offset="0" stop-color="#6a70d6"/><stop offset="1" stop-color="#b060c0"/></linearGradient><linearGradient id="rgtl" gradientUnits="userSpaceOnUse" x1="0" y1="226" x2="0" y2="71"><stop offset="0" stop-color="#e0507a"/><stop offset="1" stop-color="#b060c0"/></linearGradient><path id="pth1" d="M459,99.5 A144,120 0 0 0 603,219.5"/><path id="pth2" d="M441,99.5 A162,138 0 0 0 603,237.5"/></defs>
<text x="-0.5" y="8.5" font-size="16" text-anchor="start" fill="#111" >a</text><g filter="url(#glow)" fill="#f4949c"><rect x="55" y="27" width="40" height="114" rx="4"/><rect x="93" y="31" width="36" height="110" rx="4"/><rect x="131" y="32" width="28" height="107" rx="3"/><rect x="166" y="33" width="1" height="104"/></g><rect x="129" y="40" width="2.5" height="94" fill="#fff" opacity="0.5" filter="url(#glow2)"/><path d="M59,28.5 L69.5,28.5 L69.5,139 L59,139 Q56.5,139 56.5,136 L56.5,31.5 Q56.5,28.5 59,28.5Z" fill="#efefef" stroke="#cfcfcf" stroke-width="0.6"/><path d="M69.5,28.5 L93,40.5 L93,130 L69.5,139 Z" fill="url(#ccface)"/><path d="M81,28 Q82.5,24.5 84,28 L84,33.5 L81,32Z" fill="#d8d8d8"/><ellipse cx="73" cy="36" rx="0.9" ry="1.8" fill="#9a9a9a"/><ellipse cx="87" cy="44" rx="0.9" ry="1.8" fill="#9a9a9a"/><ellipse cx="73" cy="130" rx="0.9" ry="1.8" fill="#9a9a9a"/><ellipse cx="87" cy="124" rx="0.9" ry="1.8" fill="#9a9a9a"/><ellipse cx="73" cy="85" rx="0.9" ry="1.8" fill="#9a9a9a"/><ellipse cx="89" cy="85" rx="0.9" ry="1.8" fill="#9a9a9a"/><path d="M74.8,54.6 L89,57.5 L89,112 L74.8,115.3 Z" fill="#8a8a8a"/><path d="M76.3,57 L87.5,59.3 L87.5,110 L76.3,112.8 Z" fill="#9c9c9c"/><rect x="77.4" y="62.5" width="9.4" height="2.8" rx="1" fill="#b4b4b4"/><rect x="77.4" y="67.25" width="9.4" height="2.8" rx="1" fill="#b4b4b4"/><rect x="77.4" y="72.0" width="9.4" height="2.8" rx="1" fill="#b4b4b4"/><rect x="77.4" y="76.75" width="9.4" height="2.8" rx="1" fill="#b4b4b4"/><rect x="77.4" y="81.5" width="9.4" height="2.8" rx="1" fill="#b4b4b4"/><rect x="77.4" y="86.25" width="9.4" height="2.8" rx="1" fill="#b4b4b4"/><rect x="77.4" y="91.0" width="9.4" height="2.8" rx="1" fill="#b4b4b4"/><rect x="77.4" y="95.75" width="9.4" height="2.8" rx="1" fill="#b4b4b4"/><rect x="77.4" y="100.5" width="9.4" height="2.8" rx="1" fill="#b4b4b4"/><rect x="77.4" y="105.25" width="9.4" height="2.8" rx="1" fill="#b4b4b4"/><text transform="translate(65.2,85.3) rotate(-90)" font-size="8.2" text-anchor="middle" fill="#1a1a1a">Current collector</text><path d="M95,34 Q110,29 127,35 L128,139 L96,139 Z" fill="url(#gdl)"/><g><line x1="97.5" y1="91.2" x2="96.6" y2="91.9" stroke="#474747" stroke-width="0.55"/><line x1="104.9" y1="40.0" x2="101.5" y2="42.0" stroke="#474747" stroke-width="0.55"/><line x1="97.9" y1="58.1" x2="101.4" y2="57.9" stroke="#474747" stroke-width="0.55"/><line x1="108.9" y1="84.0" x2="109.9" y2="81.9" stroke="#474747" stroke-width="0.55"/><line x1="105.1" y1="125.9" x2="105.2" y2="127.3" stroke="#474747" stroke-width="0.55"/><line x1="105.8" y1="39.9" x2="107.6" y2="40.4" stroke="#474747" stroke-width="0.55"/><line x1="98.7" y1="36.3" x2="101.3" y2="36.2" stroke="#474747" stroke-width="0.55"/><line x1="106.7" y1="127.0" x2="108.2" y2="129.6" stroke="#474747" stroke-width="0.55"/><line x1="100.5" y1="118.7" x2="100.1" y2="121.3" stroke="#474747" stroke-width="0.55"/><line x1="109.7" y1="43.4" x2="107.2" y2="41.7" stroke="#474747" stroke-width="0.55"/><line x1="111.3" y1="79.7" x2="112.2" y2="78.5" stroke="#474747" stroke-width="0.55"/><line x1="102.6" y1="74.3" x2="101.6" y2="74.8" stroke="#474747" stroke-width="0.55"/><line x1="104.1" y1="129.7" x2="105.4" y2="132.3" stroke="#474747" stroke-width="0.55"/><line x1="109.3" y1="139.0" x2="110.5" y2="137.0" stroke="#474747" stroke-width="0.55"/><line x1="109.4" y1="136.2" x2="112.2" y2="136.6" stroke="#474747" stroke-width="0.55"/><line x1="106.6" y1="55.6" x2="108.9" y2="56.0" stroke="#474747" stroke-width="0.55"/><line x1="98.4" y1="39.8" x2="100.9" y2="42.7" stroke="#474747" stroke-width="0.55"/><line x1="94.7" y1="118.7" x2="94.1" y2="116.6" stroke="#474747" stroke-width="0.55"/><line x1="98.6" y1="115.3" x2="101.2" y2="112.5" stroke="#474747" stroke-width="0.55"/><line x1="104.7" y1="37.8" x2="106.2" y2="36.8" stroke="#474747" stroke-width="0.55"/><line x1="109.7" y1="137.9" x2="109.8" y2="140.9" stroke="#474747" stroke-width="0.55"/><line x1="98.9" y1="41.2" x2="99.6" y2="38.4" stroke="#474747" stroke-width="0.55"/><line x1="96.8" y1="76.6" x2="97.5" y2="74.6" stroke="#474747" stroke-width="0.55"/><line x1="93.8" y1="125.9" x2="92.5" y2="128.6" stroke="#474747" stroke-width="0.55"/><line x1="110.0" y1="73.4" x2="109.8" y2="73.5" stroke="#474747" stroke-width="0.55"/><line x1="105.2" y1="96.7" x2="105.6" y2="97.5" stroke="#474747" stroke-width="0.55"/><line x1="110.9" y1="87.3" x2="110.4" y2="88.6" stroke="#474747" stroke-width="0.55"/><line x1="97.5" y1="65.2" x2="100.9" y2="65.3" stroke="#474747" stroke-width="0.55"/><line x1="103.4" y1="34.2" x2="102.8" y2="34.7" stroke="#474747" stroke-width="0.55"/><line x1="93.4" y1="98.9" x2="94.3" y2="96.3" stroke="#474747" stroke-width="0.55"/><line x1="104.9" y1="82.9" x2="106.2" y2="82.0" stroke="#474747" stroke-width="0.55"/><line x1="106.4" y1="112.0" x2="103.1" y2="109.3" stroke="#474747" stroke-width="0.55"/><line x1="105.8" y1="136.1" x2="104.1" y2="135.8" stroke="#474747" stroke-width="0.55"/><line x1="104.3" y1="67.2" x2="103.3" y2="66.1" stroke="#474747" stroke-width="0.55"/><line x1="100.0" y1="96.7" x2="98.6" y2="96.0" stroke="#474747" stroke-width="0.55"/><line x1="107.7" y1="35.9" x2="108.2" y2="37.3" stroke="#474747" stroke-width="0.55"/><line x1="98.9" y1="56.8" x2="101.0" y2="55.2" stroke="#474747" stroke-width="0.55"/><line x1="96.6" y1="79.6" x2="97.9" y2="77.2" stroke="#474747" stroke-width="0.55"/><line x1="99.1" y1="68.7" x2="101.5" y2="68.3" stroke="#474747" stroke-width="0.55"/><line x1="109.3" y1="51.1" x2="108.1" y2="52.0" stroke="#474747" stroke-width="0.55"/><line x1="109.8" y1="81.3" x2="107.9" y2="79.0" stroke="#474747" stroke-width="0.55"/><line x1="103.1" y1="53.4" x2="105.2" y2="55.4" stroke="#474747" stroke-width="0.55"/><line x1="96.5" y1="62.8" x2="98.6" y2="63.7" stroke="#474747" stroke-width="0.55"/><line x1="108.3" y1="69.9" x2="105.7" y2="68.7" stroke="#474747" stroke-width="0.55"/><line x1="108.1" y1="62.0" x2="107.0" y2="61.5" stroke="#474747" stroke-width="0.55"/><line x1="101.0" y1="76.8" x2="103.9" y2="74.8" stroke="#474747" stroke-width="0.55"/><line x1="93.1" y1="133.9" x2="95.7" y2="136.9" stroke="#474747" stroke-width="0.55"/><line x1="101.3" y1="134.7" x2="104.2" y2="133.0" stroke="#474747" stroke-width="0.55"/><line x1="107.2" y1="122.5" x2="108.3" y2="122.6" stroke="#474747" stroke-width="0.55"/><line x1="98.5" y1="69.5" x2="96.6" y2="66.9" stroke="#474747" stroke-width="0.55"/><line x1="104.2" y1="63.7" x2="106.4" y2="61.0" stroke="#474747" stroke-width="0.55"/><line x1="110.2" y1="107.2" x2="113.1" y2="109.6" stroke="#474747" stroke-width="0.55"/><line x1="110.1" y1="94.7" x2="106.7" y2="96.2" stroke="#474747" stroke-width="0.55"/><line x1="96.3" y1="65.1" x2="97.4" y2="65.2" stroke="#474747" stroke-width="0.55"/><line x1="100.9" y1="133.5" x2="101.6" y2="132.5" stroke="#474747" stroke-width="0.55"/><line x1="97.8" y1="125.2" x2="97.6" y2="126.9" stroke="#474747" stroke-width="0.55"/><line x1="99.7" y1="54.1" x2="99.9" y2="56.0" stroke="#474747" stroke-width="0.55"/><line x1="96.3" y1="117.7" x2="99.2" y2="119.5" stroke="#474747" stroke-width="0.55"/><line x1="108.6" y1="33.8" x2="109.5" y2="36.0" stroke="#474747" stroke-width="0.55"/><line x1="93.9" y1="62.0" x2="92.3" y2="62.2" stroke="#474747" stroke-width="0.55"/><line x1="101.0" y1="83.6" x2="103.0" y2="80.6" stroke="#474747" stroke-width="0.55"/><line x1="94.0" y1="46.6" x2="91.4" y2="44.0" stroke="#474747" stroke-width="0.55"/><line x1="111.5" y1="124.4" x2="108.6" y2="124.4" stroke="#474747" stroke-width="0.55"/><line x1="99.0" y1="66.7" x2="98.0" y2="67.5" stroke="#474747" stroke-width="0.55"/><line x1="104.1" y1="71.6" x2="102.0" y2="70.6" stroke="#474747" stroke-width="0.55"/><line x1="95.4" y1="92.4" x2="96.9" y2="91.7" stroke="#474747" stroke-width="0.55"/><line x1="94.5" y1="52.1" x2="93.6" y2="52.7" stroke="#474747" stroke-width="0.55"/><line x1="107.9" y1="73.7" x2="110.0" y2="74.4" stroke="#474747" stroke-width="0.55"/><line x1="101.2" y1="72.8" x2="101.2" y2="74.1" stroke="#474747" stroke-width="0.55"/><line x1="101.0" y1="107.3" x2="100.7" y2="105.7" stroke="#474747" stroke-width="0.55"/><line x1="103.2" y1="107.4" x2="100.2" y2="106.9" stroke="#474747" stroke-width="0.55"/><line x1="101.1" y1="127.1" x2="104.1" y2="126.4" stroke="#474747" stroke-width="0.55"/><line x1="110.1" y1="117.6" x2="108.4" y2="117.4" stroke="#474747" stroke-width="0.55"/><line x1="95.3" y1="120.0" x2="96.5" y2="122.3" stroke="#474747" stroke-width="0.55"/><line x1="108.1" y1="104.4" x2="109.7" y2="104.8" stroke="#474747" stroke-width="0.55"/><line x1="95.0" y1="95.9" x2="91.5" y2="93.8" stroke="#474747" stroke-width="0.55"/><line x1="107.7" y1="37.7" x2="104.9" y2="35.3" stroke="#474747" stroke-width="0.55"/><line x1="109.7" y1="52.2" x2="106.4" y2="54.2" stroke="#474747" stroke-width="0.55"/><line x1="95.3" y1="123.3" x2="96.5" y2="125.3" stroke="#474747" stroke-width="0.55"/><line x1="111.1" y1="95.0" x2="113.2" y2="92.2" stroke="#474747" stroke-width="0.55"/><line x1="107.6" y1="87.7" x2="109.1" y2="85.4" stroke="#474747" stroke-width="0.55"/><line x1="107.2" y1="133.0" x2="104.2" y2="131.9" stroke="#474747" stroke-width="0.55"/><line x1="103.7" y1="121.6" x2="101.9" y2="119.7" stroke="#474747" stroke-width="0.55"/><line x1="97.7" y1="98.9" x2="99.5" y2="98.3" stroke="#474747" stroke-width="0.55"/><line x1="100.0" y1="75.4" x2="98.9" y2="74.9" stroke="#474747" stroke-width="0.55"/><line x1="94.6" y1="86.5" x2="97.9" y2="86.0" stroke="#474747" stroke-width="0.55"/><line x1="107.2" y1="50.2" x2="108.5" y2="51.7" stroke="#474747" stroke-width="0.55"/><line x1="105.8" y1="88.3" x2="105.7" y2="89.2" stroke="#474747" stroke-width="0.55"/><line x1="110.1" y1="49.0" x2="107.2" y2="50.5" stroke="#474747" stroke-width="0.55"/><line x1="110.4" y1="88.3" x2="110.0" y2="89.7" stroke="#474747" stroke-width="0.55"/><line x1="96.5" y1="61.6" x2="94.4" y2="62.1" stroke="#474747" stroke-width="0.55"/><line x1="99.0" y1="57.9" x2="100.3" y2="60.6" stroke="#474747" stroke-width="0.55"/><line x1="98.6" y1="108.5" x2="98.0" y2="110.6" stroke="#474747" stroke-width="0.55"/><line x1="104.1" y1="61.6" x2="102.1" y2="58.7" stroke="#474747" stroke-width="0.55"/><line x1="102.1" y1="74.0" x2="99.8" y2="73.1" stroke="#474747" stroke-width="0.55"/><line x1="99.1" y1="115.8" x2="96.6" y2="118.8" stroke="#474747" stroke-width="0.55"/><line x1="102.1" y1="97.1" x2="101.9" y2="99.1" stroke="#474747" stroke-width="0.55"/><line x1="108.6" y1="92.6" x2="108.5" y2="93.9" stroke="#474747" stroke-width="0.55"/><line x1="109.3" y1="75.8" x2="110.9" y2="78.6" stroke="#474747" stroke-width="0.55"/><line x1="101.9" y1="57.6" x2="100.0" y2="58.9" stroke="#474747" stroke-width="0.55"/><line x1="105.8" y1="135.6" x2="108.3" y2="134.0" stroke="#474747" stroke-width="0.55"/><line x1="96.6" y1="60.7" x2="94.4" y2="61.9" stroke="#474747" stroke-width="0.55"/><line x1="109.3" y1="129.3" x2="107.6" y2="131.5" stroke="#474747" stroke-width="0.55"/><line x1="99.0" y1="78.3" x2="100.6" y2="75.8" stroke="#474747" stroke-width="0.55"/><line x1="94.8" y1="122.2" x2="93.3" y2="121.4" stroke="#474747" stroke-width="0.55"/><line x1="104.0" y1="105.3" x2="100.6" y2="104.3" stroke="#474747" stroke-width="0.55"/><line x1="101.3" y1="85.0" x2="99.3" y2="85.5" stroke="#474747" stroke-width="0.55"/><line x1="111.2" y1="74.8" x2="111.5" y2="72.5" stroke="#474747" stroke-width="0.55"/><line x1="98.2" y1="104.2" x2="95.5" y2="106.5" stroke="#474747" stroke-width="0.55"/><line x1="110.3" y1="43.4" x2="113.4" y2="42.6" stroke="#474747" stroke-width="0.55"/><line x1="107.7" y1="114.0" x2="106.2" y2="115.1" stroke="#474747" stroke-width="0.55"/><line x1="105.4" y1="119.2" x2="103.8" y2="120.8" stroke="#474747" stroke-width="0.55"/><line x1="111.3" y1="105.0" x2="111.5" y2="102.7" stroke="#474747" stroke-width="0.55"/><line x1="102.4" y1="70.7" x2="103.9" y2="71.8" stroke="#474747" stroke-width="0.55"/><line x1="103.8" y1="52.5" x2="104.8" y2="53.3" stroke="#474747" stroke-width="0.55"/><line x1="96.4" y1="128.2" x2="97.5" y2="126.0" stroke="#474747" stroke-width="0.55"/><line x1="110.7" y1="48.1" x2="109.5" y2="49.5" stroke="#474747" stroke-width="0.55"/><line x1="104.4" y1="92.4" x2="105.4" y2="92.1" stroke="#474747" stroke-width="0.55"/><line x1="98.9" y1="51.9" x2="95.9" y2="53.2" stroke="#474747" stroke-width="0.55"/><line x1="107.3" y1="91.1" x2="109.0" y2="90.3" stroke="#474747" stroke-width="0.55"/><line x1="98.1" y1="74.0" x2="100.7" y2="71.3" stroke="#474747" stroke-width="0.55"/><line x1="102.6" y1="59.5" x2="104.5" y2="58.6" stroke="#474747" stroke-width="0.55"/><line x1="99.3" y1="76.2" x2="99.6" y2="77.8" stroke="#474747" stroke-width="0.55"/><line x1="99.7" y1="123.6" x2="97.0" y2="122.2" stroke="#474747" stroke-width="0.55"/><line x1="94.9" y1="45.1" x2="96.8" y2="46.4" stroke="#474747" stroke-width="0.55"/><line x1="96.5" y1="53.2" x2="95.9" y2="54.7" stroke="#474747" stroke-width="0.55"/><line x1="108.5" y1="113.1" x2="109.1" y2="111.0" stroke="#474747" stroke-width="0.55"/><line x1="100.6" y1="53.7" x2="100.8" y2="54.1" stroke="#474747" stroke-width="0.55"/><line x1="96.8" y1="59.8" x2="98.8" y2="56.9" stroke="#474747" stroke-width="0.55"/><line x1="108.3" y1="128.4" x2="111.4" y2="127.7" stroke="#474747" stroke-width="0.55"/><line x1="103.5" y1="95.4" x2="104.4" y2="98.2" stroke="#474747" stroke-width="0.55"/><line x1="106.0" y1="65.0" x2="108.6" y2="64.9" stroke="#474747" stroke-width="0.55"/><line x1="104.4" y1="110.8" x2="100.9" y2="112.4" stroke="#474747" stroke-width="0.55"/><line x1="105.6" y1="85.6" x2="105.7" y2="85.4" stroke="#474747" stroke-width="0.55"/><line x1="96.7" y1="89.7" x2="93.4" y2="89.7" stroke="#474747" stroke-width="0.55"/><line x1="105.3" y1="80.5" x2="105.7" y2="83.3" stroke="#474747" stroke-width="0.55"/><line x1="109.9" y1="47.5" x2="112.0" y2="48.2" stroke="#474747" stroke-width="0.55"/><line x1="94.0" y1="71.5" x2="92.1" y2="69.0" stroke="#474747" stroke-width="0.55"/><line x1="103.2" y1="132.5" x2="102.0" y2="134.7" stroke="#474747" stroke-width="0.55"/><line x1="106.2" y1="47.4" x2="108.7" y2="48.0" stroke="#474747" stroke-width="0.55"/><line x1="110.6" y1="109.6" x2="112.3" y2="108.7" stroke="#474747" stroke-width="0.55"/><line x1="108.3" y1="132.7" x2="110.9" y2="132.3" stroke="#474747" stroke-width="0.55"/><line x1="107.4" y1="84.9" x2="104.6" y2="82.2" stroke="#474747" stroke-width="0.55"/><line x1="94.5" y1="54.4" x2="92.1" y2="54.4" stroke="#474747" stroke-width="0.55"/><line x1="106.3" y1="90.5" x2="105.7" y2="91.4" stroke="#474747" stroke-width="0.55"/><line x1="98.8" y1="82.7" x2="100.6" y2="82.1" stroke="#474747" stroke-width="0.55"/><line x1="96.4" y1="129.2" x2="98.0" y2="128.4" stroke="#474747" stroke-width="0.55"/><line x1="100.0" y1="89.6" x2="100.7" y2="88.0" stroke="#474747" stroke-width="0.55"/><line x1="93.1" y1="55.4" x2="95.0" y2="53.2" stroke="#474747" stroke-width="0.55"/><line x1="101.7" y1="53.9" x2="99.7" y2="51.9" stroke="#474747" stroke-width="0.55"/><line x1="100.7" y1="51.0" x2="97.4" y2="48.7" stroke="#474747" stroke-width="0.55"/><line x1="96.2" y1="85.5" x2="93.1" y2="82.6" stroke="#474747" stroke-width="0.55"/><line x1="101.5" y1="76.6" x2="102.9" y2="73.9" stroke="#474747" stroke-width="0.55"/><line x1="100.7" y1="75.4" x2="97.3" y2="78.2" stroke="#474747" stroke-width="0.55"/><line x1="97.2" y1="43.1" x2="97.0" y2="41.1" stroke="#474747" stroke-width="0.55"/><line x1="104.8" y1="70.1" x2="102.2" y2="67.4" stroke="#474747" stroke-width="0.55"/><line x1="106.8" y1="62.4" x2="108.8" y2="62.2" stroke="#474747" stroke-width="0.55"/><line x1="110.7" y1="65.2" x2="109.0" y2="63.8" stroke="#474747" stroke-width="0.55"/><line x1="108.5" y1="100.3" x2="107.4" y2="97.9" stroke="#474747" stroke-width="0.55"/><line x1="106.0" y1="136.7" x2="106.6" y2="133.7" stroke="#474747" stroke-width="0.55"/><circle cx="104.7" cy="42.6" r="1.1" fill="#b4b4b4"/><circle cx="115.6" cy="53.0" r="1.3" fill="#c6c6c6"/><circle cx="108.8" cy="136.2" r="1.3" fill="#8a8a8a"/><circle cx="126.0" cy="132.6" r="1.0" fill="#c6c6c6"/><circle cx="122.0" cy="99.9" r="1.2" fill="#c6c6c6"/><circle cx="108.4" cy="76.8" r="1.3" fill="#d0d0d0"/><circle cx="112.0" cy="105.1" r="1.6" fill="#9c9c9c"/><circle cx="124.1" cy="124.6" r="1.2" fill="#d0d0d0"/><circle cx="112.6" cy="52.5" r="1.5" fill="#8a8a8a"/><circle cx="109.5" cy="115.6" r="1.3" fill="#c6c6c6"/><circle cx="123.7" cy="86.7" r="1.5" fill="#8a8a8a"/><circle cx="126.8" cy="37.5" r="1.1" fill="#b4b4b4"/><circle cx="123.7" cy="42.8" r="1.4" fill="#b4b4b4"/><circle cx="111.7" cy="96.7" r="1.5" fill="#b4b4b4"/><circle cx="125.1" cy="125.5" r="1.3" fill="#c6c6c6"/><circle cx="127.9" cy="33.2" r="1.1" fill="#b4b4b4"/><circle cx="112.1" cy="66.0" r="1.3" fill="#9c9c9c"/><circle cx="109.8" cy="38.2" r="1.1" fill="#9c9c9c"/><circle cx="118.1" cy="34.2" r="1.1" fill="#9c9c9c"/><circle cx="109.3" cy="92.6" r="1.3" fill="#d0d0d0"/><circle cx="111.7" cy="126.6" r="1.5" fill="#8a8a8a"/><circle cx="108.3" cy="41.4" r="1.5" fill="#b4b4b4"/><circle cx="118.4" cy="124.0" r="1.1" fill="#c6c6c6"/><circle cx="106.1" cy="82.3" r="1.1" fill="#d0d0d0"/><circle cx="106.6" cy="84.5" r="1.4" fill="#c6c6c6"/><circle cx="113.7" cy="103.1" r="1.5" fill="#c6c6c6"/><circle cx="124.0" cy="96.0" r="1.5" fill="#9c9c9c"/><circle cx="106.8" cy="33.8" r="1.2" fill="#b4b4b4"/><circle cx="112.2" cy="53.3" r="1.5" fill="#d0d0d0"/><circle cx="120.5" cy="71.7" r="1.5" fill="#b4b4b4"/><circle cx="118.5" cy="55.7" r="1.2" fill="#b4b4b4"/><circle cx="112.0" cy="78.7" r="1.1" fill="#9c9c9c"/><circle cx="111.8" cy="112.5" r="1.1" fill="#9c9c9c"/><circle cx="125.0" cy="137.6" r="1.4" fill="#d0d0d0"/><circle cx="124.5" cy="72.0" r="1.1" fill="#d0d0d0"/><circle cx="126.8" cy="84.3" r="1.5" fill="#8a8a8a"/><circle cx="115.3" cy="95.3" r="1.0" fill="#b4b4b4"/><circle cx="108.4" cy="43.2" r="1.4" fill="#c6c6c6"/><circle cx="116.1" cy="39.5" r="1.3" fill="#9c9c9c"/><circle cx="121.9" cy="62.3" r="1.3" fill="#c6c6c6"/><circle cx="115.2" cy="53.9" r="1.5" fill="#9c9c9c"/><circle cx="106.5" cy="64.7" r="1.2" fill="#b4b4b4"/><circle cx="108.9" cy="84.7" r="1.5" fill="#c6c6c6"/><circle cx="127.4" cy="136.8" r="1.5" fill="#c6c6c6"/><circle cx="126.6" cy="78.7" r="1.6" fill="#8a8a8a"/><circle cx="116.6" cy="90.5" r="1.2" fill="#c6c6c6"/><circle cx="110.8" cy="82.1" r="1.5" fill="#c6c6c6"/><circle cx="121.9" cy="131.6" r="1.3" fill="#b4b4b4"/><circle cx="107.2" cy="89.3" r="1.3" fill="#9c9c9c"/><circle cx="126.8" cy="33.2" r="1.6" fill="#8a8a8a"/><circle cx="112.5" cy="135.4" r="1.2" fill="#d0d0d0"/><circle cx="104.8" cy="52.6" r="1.0" fill="#8a8a8a"/><circle cx="125.7" cy="121.6" r="1.4" fill="#b4b4b4"/><circle cx="114.8" cy="60.7" r="1.4" fill="#8a8a8a"/><circle cx="114.0" cy="60.6" r="1.0" fill="#8a8a8a"/><circle cx="104.9" cy="138.6" r="1.1" fill="#d0d0d0"/><circle cx="109.9" cy="47.4" r="1.5" fill="#8a8a8a"/><circle cx="116.2" cy="121.1" r="1.3" fill="#c6c6c6"/><circle cx="104.4" cy="37.8" r="1.3" fill="#b4b4b4"/><circle cx="125.5" cy="129.1" r="1.3" fill="#d0d0d0"/><circle cx="116.4" cy="72.3" r="1.4" fill="#c6c6c6"/><circle cx="108.4" cy="105.5" r="1.6" fill="#d0d0d0"/><circle cx="106.4" cy="115.1" r="1.3" fill="#c6c6c6"/><circle cx="123.3" cy="81.0" r="1.6" fill="#9c9c9c"/><circle cx="117.9" cy="47.8" r="1.0" fill="#8a8a8a"/><circle cx="124.4" cy="120.7" r="1.6" fill="#d0d0d0"/><circle cx="110.6" cy="66.5" r="1.4" fill="#b4b4b4"/><circle cx="115.7" cy="62.7" r="1.4" fill="#c6c6c6"/><circle cx="106.5" cy="103.9" r="1.2" fill="#d0d0d0"/><circle cx="115.7" cy="112.8" r="1.5" fill="#8a8a8a"/><circle cx="108.7" cy="130.6" r="1.1" fill="#8a8a8a"/><circle cx="126.6" cy="75.0" r="1.0" fill="#9c9c9c"/><circle cx="126.8" cy="133.0" r="1.2" fill="#8a8a8a"/><circle cx="117.3" cy="36.8" r="1.3" fill="#8a8a8a"/><circle cx="127.5" cy="41.4" r="1.1" fill="#9c9c9c"/><circle cx="121.7" cy="107.0" r="1.1" fill="#b4b4b4"/><circle cx="119.1" cy="119.7" r="1.0" fill="#c6c6c6"/><circle cx="127.4" cy="106.4" r="1.3" fill="#8a8a8a"/><circle cx="115.1" cy="63.7" r="1.3" fill="#9c9c9c"/><circle cx="109.7" cy="134.5" r="1.1" fill="#9c9c9c"/><circle cx="120.6" cy="82.5" r="1.2" fill="#b4b4b4"/><circle cx="107.4" cy="38.8" r="1.5" fill="#9c9c9c"/><circle cx="111.5" cy="101.8" r="1.1" fill="#9c9c9c"/><circle cx="105.2" cy="134.8" r="1.3" fill="#8a8a8a"/><circle cx="122.7" cy="78.9" r="1.1" fill="#b4b4b4"/><circle cx="110.7" cy="46.9" r="1.1" fill="#9c9c9c"/><circle cx="113.2" cy="132.4" r="1.4" fill="#9c9c9c"/><circle cx="104.2" cy="72.3" r="1.1" fill="#8a8a8a"/><circle cx="109.9" cy="70.6" r="1.6" fill="#8a8a8a"/><circle cx="106.5" cy="122.8" r="1.3" fill="#c6c6c6"/><circle cx="116.7" cy="123.5" r="1.3" fill="#8a8a8a"/><circle cx="115.1" cy="90.0" r="1.3" fill="#d0d0d0"/><circle cx="114.9" cy="73.7" r="1.5" fill="#c6c6c6"/><circle cx="126.4" cy="122.9" r="1.1" fill="#9c9c9c"/><circle cx="111.6" cy="122.0" r="1.1" fill="#d0d0d0"/><circle cx="127.5" cy="76.4" r="1.5" fill="#b4b4b4"/><circle cx="117.8" cy="49.7" r="1.1" fill="#8a8a8a"/><circle cx="127.8" cy="105.7" r="1.3" fill="#c6c6c6"/><circle cx="106.2" cy="90.3" r="1.3" fill="#9c9c9c"/><circle cx="118.2" cy="56.2" r="1.3" fill="#d0d0d0"/><circle cx="113.0" cy="66.7" r="1.2" fill="#d0d0d0"/><circle cx="122.5" cy="109.7" r="1.2" fill="#c6c6c6"/><circle cx="110.9" cy="136.5" r="1.2" fill="#b4b4b4"/><circle cx="118.4" cy="56.5" r="1.6" fill="#9c9c9c"/><circle cx="110.8" cy="135.5" r="1.3" fill="#8a8a8a"/><circle cx="112.0" cy="116.6" r="1.1" fill="#d0d0d0"/><circle cx="116.7" cy="79.8" r="1.4" fill="#b4b4b4"/><circle cx="114.0" cy="91.3" r="1.4" fill="#c6c6c6"/><circle cx="105.4" cy="123.6" r="1.2" fill="#b4b4b4"/><circle cx="112.8" cy="55.8" r="1.3" fill="#b4b4b4"/><circle cx="114.3" cy="125.0" r="1.4" fill="#c6c6c6"/><circle cx="104.3" cy="72.4" r="1.2" fill="#8a8a8a"/><circle cx="112.9" cy="102.1" r="1.5" fill="#d0d0d0"/><circle cx="115.9" cy="67.3" r="1.0" fill="#b4b4b4"/><circle cx="118.8" cy="47.8" r="1.0" fill="#c6c6c6"/><circle cx="114.4" cy="53.9" r="1.0" fill="#c6c6c6"/><circle cx="116.8" cy="111.2" r="1.5" fill="#9c9c9c"/><circle cx="114.6" cy="105.3" r="1.1" fill="#8a8a8a"/><circle cx="109.4" cy="47.7" r="1.2" fill="#d0d0d0"/><circle cx="108.6" cy="120.3" r="1.4" fill="#b4b4b4"/><circle cx="114.3" cy="117.4" r="1.2" fill="#8a8a8a"/><circle cx="124.0" cy="52.5" r="1.2" fill="#8a8a8a"/><circle cx="108.9" cy="100.4" r="1.4" fill="#c6c6c6"/><circle cx="114.5" cy="43.3" r="1.6" fill="#b4b4b4"/><circle cx="105.5" cy="126.0" r="1.4" fill="#c6c6c6"/><circle cx="105.6" cy="34.0" r="1.3" fill="#8a8a8a"/><circle cx="119.2" cy="43.0" r="1.4" fill="#8a8a8a"/><circle cx="125.2" cy="57.0" r="1.2" fill="#8a8a8a"/><circle cx="127.0" cy="38.5" r="1.3" fill="#d0d0d0"/><circle cx="116.6" cy="93.8" r="1.1" fill="#9c9c9c"/><circle cx="123.7" cy="120.4" r="1.6" fill="#8a8a8a"/><circle cx="110.8" cy="137.1" r="1.4" fill="#d0d0d0"/><circle cx="109.4" cy="93.7" r="1.2" fill="#d0d0d0"/><circle cx="107.2" cy="89.3" r="1.4" fill="#c6c6c6"/><circle cx="111.6" cy="124.2" r="1.4" fill="#d0d0d0"/><circle cx="108.9" cy="39.3" r="1.3" fill="#c6c6c6"/><circle cx="119.1" cy="85.3" r="1.5" fill="#9c9c9c"/><circle cx="123.7" cy="132.4" r="1.1" fill="#d0d0d0"/><circle cx="113.5" cy="55.5" r="1.1" fill="#b4b4b4"/><circle cx="111.8" cy="59.2" r="1.5" fill="#b4b4b4"/><circle cx="109.7" cy="71.9" r="1.1" fill="#c6c6c6"/><circle cx="110.0" cy="60.9" r="1.4" fill="#c6c6c6"/><circle cx="121.6" cy="55.0" r="1.2" fill="#9c9c9c"/><circle cx="117.6" cy="59.0" r="1.4" fill="#9c9c9c"/><circle cx="123.5" cy="71.7" r="1.1" fill="#d0d0d0"/><circle cx="113.5" cy="90.2" r="1.4" fill="#c6c6c6"/><circle cx="114.6" cy="38.9" r="1.5" fill="#8a8a8a"/><circle cx="115.8" cy="94.4" r="1.2" fill="#8a8a8a"/><circle cx="120.5" cy="56.5" r="1.5" fill="#8a8a8a"/><circle cx="112.3" cy="138.5" r="1.3" fill="#9c9c9c"/><circle cx="106.8" cy="77.4" r="1.5" fill="#9c9c9c"/><circle cx="118.0" cy="44.4" r="1.3" fill="#c6c6c6"/><circle cx="115.5" cy="90.2" r="1.5" fill="#8a8a8a"/><circle cx="113.0" cy="37.4" r="1.2" fill="#9c9c9c"/><circle cx="119.0" cy="107.4" r="1.6" fill="#d0d0d0"/><circle cx="111.3" cy="127.6" r="1.5" fill="#d0d0d0"/><circle cx="111.8" cy="76.5" r="1.6" fill="#c6c6c6"/><circle cx="126.2" cy="77.8" r="1.3" fill="#c6c6c6"/><circle cx="114.1" cy="72.2" r="1.1" fill="#c6c6c6"/><circle cx="120.7" cy="92.6" r="1.2" fill="#b4b4b4"/><circle cx="111.8" cy="50.2" r="1.5" fill="#8a8a8a"/><circle cx="108.1" cy="74.8" r="1.1" fill="#8a8a8a"/><circle cx="117.3" cy="71.8" r="1.4" fill="#d0d0d0"/><circle cx="115.6" cy="54.4" r="1.3" fill="#9c9c9c"/><circle cx="106.9" cy="91.5" r="1.1" fill="#8a8a8a"/><circle cx="124.8" cy="87.6" r="1.2" fill="#b4b4b4"/><circle cx="115.5" cy="105.5" r="1.1" fill="#c6c6c6"/><circle cx="106.8" cy="133.5" r="1.3" fill="#8a8a8a"/><circle cx="107.5" cy="72.1" r="1.4" fill="#c6c6c6"/><circle cx="117.7" cy="87.1" r="1.1" fill="#9c9c9c"/><circle cx="109.9" cy="60.4" r="1.2" fill="#c6c6c6"/><circle cx="125.7" cy="43.4" r="1.4" fill="#b4b4b4"/><circle cx="109.4" cy="81.4" r="1.6" fill="#c6c6c6"/><circle cx="123.9" cy="48.0" r="1.0" fill="#8a8a8a"/><circle cx="110.5" cy="86.9" r="1.2" fill="#8a8a8a"/><circle cx="121.9" cy="86.4" r="1.4" fill="#8a8a8a"/><circle cx="127.5" cy="78.6" r="1.2" fill="#c6c6c6"/><circle cx="118.1" cy="74.1" r="1.0" fill="#9c9c9c"/><circle cx="114.4" cy="33.2" r="1.5" fill="#9c9c9c"/><circle cx="116.1" cy="134.0" r="1.5" fill="#c6c6c6"/><circle cx="110.2" cy="99.6" r="1.3" fill="#c6c6c6"/><circle cx="108.9" cy="49.8" r="1.6" fill="#b4b4b4"/><circle cx="115.6" cy="111.3" r="1.1" fill="#d0d0d0"/><circle cx="112.1" cy="119.4" r="1.4" fill="#c6c6c6"/><circle cx="107.3" cy="99.2" r="1.5" fill="#9c9c9c"/><circle cx="106.3" cy="107.0" r="1.4" fill="#d0d0d0"/><circle cx="113.4" cy="81.3" r="1.6" fill="#d0d0d0"/><circle cx="114.6" cy="51.7" r="1.5" fill="#b4b4b4"/><circle cx="110.8" cy="107.1" r="1.1" fill="#b4b4b4"/><circle cx="112.1" cy="110.0" r="1.5" fill="#c6c6c6"/><circle cx="106.4" cy="118.0" r="1.2" fill="#d0d0d0"/><circle cx="114.7" cy="103.7" r="1.2" fill="#9c9c9c"/><circle cx="114.6" cy="58.1" r="1.0" fill="#9c9c9c"/><circle cx="109.5" cy="77.1" r="1.1" fill="#c6c6c6"/><circle cx="127.5" cy="45.2" r="1.4" fill="#9c9c9c"/><circle cx="111.0" cy="35.6" r="1.0" fill="#c6c6c6"/><circle cx="109.4" cy="81.1" r="1.3" fill="#d0d0d0"/><circle cx="113.2" cy="128.2" r="1.1" fill="#d0d0d0"/><circle cx="114.2" cy="65.7" r="1.0" fill="#8a8a8a"/><circle cx="116.0" cy="43.6" r="1.6" fill="#d0d0d0"/><circle cx="126.5" cy="48.7" r="1.3" fill="#c6c6c6"/><circle cx="128.0" cy="50.8" r="1.2" fill="#c6c6c6"/><circle cx="106.9" cy="85.9" r="1.3" fill="#9c9c9c"/><circle cx="121.8" cy="114.6" r="1.0" fill="#b4b4b4"/><circle cx="115.4" cy="33.5" r="1.4" fill="#8a8a8a"/><circle cx="125.7" cy="38.1" r="1.4" fill="#c6c6c6"/><circle cx="123.6" cy="85.1" r="1.5" fill="#9c9c9c"/><circle cx="111.4" cy="92.7" r="1.2" fill="#b4b4b4"/><circle cx="106.7" cy="105.2" r="1.1" fill="#9c9c9c"/><circle cx="121.9" cy="89.3" r="1.5" fill="#d0d0d0"/><circle cx="107.3" cy="50.4" r="1.6" fill="#c6c6c6"/><circle cx="116.3" cy="135.0" r="1.0" fill="#b4b4b4"/><circle cx="112.7" cy="86.0" r="1.1" fill="#c6c6c6"/><circle cx="117.5" cy="74.4" r="1.3" fill="#d0d0d0"/><circle cx="126.5" cy="67.2" r="1.3" fill="#c6c6c6"/><circle cx="122.9" cy="112.3" r="1.1" fill="#b4b4b4"/><circle cx="119.6" cy="111.8" r="1.6" fill="#8a8a8a"/><circle cx="122.1" cy="109.3" r="1.4" fill="#9c9c9c"/><circle cx="128.0" cy="38.2" r="1.2" fill="#8a8a8a"/><circle cx="108.4" cy="43.4" r="1.1" fill="#d0d0d0"/><circle cx="114.9" cy="78.7" r="1.3" fill="#d0d0d0"/><circle cx="112.2" cy="78.7" r="1.0" fill="#8a8a8a"/><circle cx="112.7" cy="109.9" r="1.2" fill="#9c9c9c"/><circle cx="107.3" cy="126.2" r="1.5" fill="#b4b4b4"/><circle cx="119.4" cy="110.1" r="1.1" fill="#8a8a8a"/><circle cx="115.5" cy="73.1" r="1.3" fill="#8a8a8a"/><circle cx="118.7" cy="83.3" r="1.0" fill="#d0d0d0"/><circle cx="121.2" cy="130.0" r="1.1" fill="#b4b4b4"/><circle cx="127.5" cy="47.6" r="1.5" fill="#b4b4b4"/><circle cx="106.9" cy="96.0" r="1.6" fill="#c6c6c6"/><circle cx="117.2" cy="46.6" r="1.3" fill="#9c9c9c"/><circle cx="107.8" cy="106.2" r="1.4" fill="#8a8a8a"/><circle cx="111.6" cy="79.9" r="1.6" fill="#c6c6c6"/><circle cx="117.2" cy="95.6" r="1.2" fill="#d0d0d0"/><circle cx="113.3" cy="136.4" r="1.2" fill="#b4b4b4"/><circle cx="109.0" cy="74.3" r="1.5" fill="#c6c6c6"/><circle cx="109.5" cy="128.5" r="1.2" fill="#c6c6c6"/><circle cx="122.6" cy="121.3" r="1.1" fill="#8a8a8a"/><circle cx="104.0" cy="101.3" r="1.5" fill="#9c9c9c"/><circle cx="126.4" cy="112.8" r="1.5" fill="#b4b4b4"/><circle cx="123.0" cy="69.5" r="1.2" fill="#c6c6c6"/><circle cx="127.2" cy="129.0" r="1.5" fill="#d0d0d0"/><circle cx="122.8" cy="81.2" r="1.2" fill="#d0d0d0"/><circle cx="125.7" cy="61.1" r="1.2" fill="#d0d0d0"/><circle cx="108.8" cy="130.8" r="1.2" fill="#b4b4b4"/><circle cx="106.6" cy="128.2" r="1.2" fill="#c6c6c6"/><circle cx="123.1" cy="115.5" r="1.1" fill="#b4b4b4"/><circle cx="118.6" cy="46.0" r="1.1" fill="#c6c6c6"/><circle cx="112.3" cy="51.0" r="1.2" fill="#b4b4b4"/><circle cx="122.7" cy="97.4" r="1.0" fill="#c6c6c6"/><circle cx="117.3" cy="35.1" r="1.3" fill="#8a8a8a"/><circle cx="128.0" cy="50.9" r="1.0" fill="#9c9c9c"/><circle cx="112.9" cy="123.5" r="1.2" fill="#d0d0d0"/><circle cx="108.7" cy="81.8" r="1.3" fill="#c6c6c6"/><circle cx="121.6" cy="132.0" r="1.2" fill="#d0d0d0"/><circle cx="115.9" cy="80.9" r="1.3" fill="#c6c6c6"/><circle cx="108.5" cy="137.0" r="1.1" fill="#9c9c9c"/><circle cx="108.2" cy="117.3" r="1.2" fill="#b4b4b4"/><circle cx="112.7" cy="33.5" r="1.1" fill="#c6c6c6"/><circle cx="125.0" cy="136.8" r="1.0" fill="#8a8a8a"/><circle cx="108.0" cy="100.9" r="1.3" fill="#c6c6c6"/><circle cx="121.9" cy="117.3" r="1.6" fill="#8a8a8a"/><circle cx="125.0" cy="91.1" r="1.0" fill="#b4b4b4"/><circle cx="120.0" cy="54.4" r="1.1" fill="#b4b4b4"/><circle cx="119.9" cy="36.0" r="1.1" fill="#8a8a8a"/><circle cx="104.9" cy="87.1" r="1.6" fill="#9c9c9c"/><circle cx="111.8" cy="80.2" r="1.6" fill="#c6c6c6"/><circle cx="122.4" cy="107.0" r="1.0" fill="#9c9c9c"/><circle cx="120.8" cy="101.5" r="1.0" fill="#d0d0d0"/><circle cx="114.4" cy="107.3" r="1.2" fill="#d0d0d0"/><circle cx="116.5" cy="104.0" r="1.1" fill="#c6c6c6"/><circle cx="124.6" cy="62.8" r="1.1" fill="#9c9c9c"/><circle cx="117.1" cy="68.4" r="1.5" fill="#9c9c9c"/><circle cx="116.5" cy="107.0" r="1.2" fill="#c6c6c6"/><circle cx="112.3" cy="112.6" r="1.1" fill="#c6c6c6"/><circle cx="105.8" cy="131.4" r="1.4" fill="#d0d0d0"/><circle cx="114.9" cy="135.4" r="1.3" fill="#9c9c9c"/><circle cx="126.1" cy="99.3" r="1.0" fill="#c6c6c6"/><circle cx="114.6" cy="38.8" r="1.4" fill="#d0d0d0"/><circle cx="119.8" cy="96.8" r="1.4" fill="#8a8a8a"/><circle cx="116.8" cy="111.9" r="1.5" fill="#9c9c9c"/><circle cx="124.3" cy="138.8" r="1.1" fill="#b4b4b4"/><circle cx="123.5" cy="116.0" r="1.2" fill="#9c9c9c"/><circle cx="108.9" cy="60.8" r="1.1" fill="#d0d0d0"/><circle cx="125.8" cy="60.8" r="1.6" fill="#9c9c9c"/><circle cx="119.0" cy="58.2" r="1.4" fill="#b4b4b4"/><circle cx="111.0" cy="102.9" r="1.5" fill="#b4b4b4"/><circle cx="104.0" cy="79.6" r="1.3" fill="#b4b4b4"/><circle cx="125.9" cy="100.5" r="1.5" fill="#9c9c9c"/><circle cx="119.0" cy="95.0" r="1.3" fill="#d0d0d0"/><circle cx="115.4" cy="58.5" r="1.1" fill="#b4b4b4"/><circle cx="112.7" cy="89.9" r="1.2" fill="#b4b4b4"/><circle cx="108.3" cy="83.2" r="1.2" fill="#9c9c9c"/><circle cx="124.4" cy="94.6" r="1.1" fill="#d0d0d0"/><circle cx="119.2" cy="39.6" r="1.5" fill="#9c9c9c"/><circle cx="120.3" cy="66.8" r="1.3" fill="#d0d0d0"/><circle cx="110.0" cy="124.4" r="1.5" fill="#d0d0d0"/><circle cx="113.0" cy="81.2" r="1.4" fill="#8a8a8a"/><circle cx="105.4" cy="130.6" r="1.5" fill="#d0d0d0"/><circle cx="105.9" cy="130.3" r="1.3" fill="#c6c6c6"/><circle cx="107.0" cy="52.1" r="1.5" fill="#b4b4b4"/><circle cx="113.8" cy="37.7" r="1.4" fill="#8a8a8a"/><circle cx="122.2" cy="105.8" r="1.5" fill="#b4b4b4"/><circle cx="126.8" cy="132.8" r="1.1" fill="#c6c6c6"/><circle cx="125.1" cy="111.4" r="1.6" fill="#d0d0d0"/><circle cx="112.6" cy="86.8" r="1.4" fill="#8a8a8a"/><circle cx="112.9" cy="70.7" r="1.4" fill="#9c9c9c"/><circle cx="112.7" cy="111.1" r="1.1" fill="#9c9c9c"/><circle cx="115.7" cy="53.7" r="1.3" fill="#8a8a8a"/><circle cx="127.5" cy="113.5" r="1.3" fill="#8a8a8a"/><circle cx="125.2" cy="50.5" r="1.5" fill="#c6c6c6"/><circle cx="127.8" cy="113.5" r="1.2" fill="#9c9c9c"/><circle cx="113.1" cy="44.2" r="1.5" fill="#d0d0d0"/><circle cx="112.7" cy="117.0" r="1.2" fill="#8a8a8a"/><circle cx="119.5" cy="115.0" r="1.1" fill="#c6c6c6"/><circle cx="116.4" cy="63.3" r="1.6" fill="#d0d0d0"/><circle cx="122.2" cy="62.5" r="1.1" fill="#8a8a8a"/><circle cx="119.7" cy="55.6" r="1.4" fill="#d0d0d0"/><circle cx="109.6" cy="125.3" r="1.2" fill="#9c9c9c"/><circle cx="119.6" cy="112.7" r="1.6" fill="#b4b4b4"/><circle cx="116.3" cy="134.4" r="1.0" fill="#d0d0d0"/><circle cx="113.9" cy="122.9" r="1.6" fill="#d0d0d0"/><circle cx="117.1" cy="132.5" r="1.2" fill="#c6c6c6"/><circle cx="107.0" cy="88.7" r="1.2" fill="#9c9c9c"/><circle cx="123.3" cy="83.1" r="1.5" fill="#8a8a8a"/><circle cx="110.3" cy="58.4" r="1.4" fill="#d0d0d0"/><circle cx="122.3" cy="113.6" r="1.0" fill="#c6c6c6"/><circle cx="104.3" cy="92.9" r="1.3" fill="#b4b4b4"/><circle cx="117.4" cy="78.9" r="1.1" fill="#8a8a8a"/><circle cx="111.5" cy="119.3" r="1.2" fill="#d0d0d0"/><circle cx="113.6" cy="41.2" r="1.6" fill="#b4b4b4"/><circle cx="120.4" cy="79.4" r="1.4" fill="#c6c6c6"/><circle cx="117.1" cy="124.1" r="1.4" fill="#c6c6c6"/><circle cx="110.7" cy="100.8" r="1.1" fill="#c6c6c6"/><circle cx="124.8" cy="38.2" r="1.0" fill="#d0d0d0"/><circle cx="104.0" cy="53.8" r="1.1" fill="#b4b4b4"/><circle cx="108.8" cy="51.0" r="1.5" fill="#9c9c9c"/><circle cx="113.5" cy="86.4" r="1.0" fill="#b4b4b4"/><circle cx="123.7" cy="55.0" r="1.5" fill="#8a8a8a"/><circle cx="122.7" cy="44.6" r="1.1" fill="#b4b4b4"/><circle cx="117.5" cy="65.1" r="1.5" fill="#9c9c9c"/><circle cx="108.4" cy="52.5" r="1.4" fill="#b4b4b4"/><circle cx="125.2" cy="86.0" r="1.1" fill="#9c9c9c"/><circle cx="109.4" cy="84.4" r="1.2" fill="#b4b4b4"/><circle cx="125.2" cy="57.5" r="1.2" fill="#c6c6c6"/><circle cx="125.1" cy="100.9" r="1.1" fill="#d0d0d0"/><circle cx="104.6" cy="44.7" r="1.5" fill="#b4b4b4"/><circle cx="124.5" cy="121.8" r="1.3" fill="#c6c6c6"/><circle cx="120.7" cy="92.1" r="1.3" fill="#b4b4b4"/><circle cx="111.1" cy="79.4" r="1.3" fill="#9c9c9c"/><circle cx="106.9" cy="135.9" r="1.3" fill="#d0d0d0"/><circle cx="125.4" cy="57.0" r="1.5" fill="#d0d0d0"/><circle cx="110.4" cy="46.3" r="1.5" fill="#8a8a8a"/><circle cx="104.6" cy="73.9" r="1.5" fill="#d0d0d0"/><circle cx="114.1" cy="111.9" r="1.1" fill="#8a8a8a"/><circle cx="104.7" cy="135.8" r="1.1" fill="#d0d0d0"/><circle cx="123.6" cy="134.2" r="1.3" fill="#8a8a8a"/><circle cx="111.0" cy="121.3" r="1.1" fill="#c6c6c6"/><circle cx="118.2" cy="39.6" r="1.6" fill="#c6c6c6"/><circle cx="104.8" cy="52.0" r="1.1" fill="#c6c6c6"/><circle cx="120.5" cy="98.8" r="1.3" fill="#b4b4b4"/><circle cx="124.5" cy="120.2" r="1.4" fill="#8a8a8a"/><circle cx="105.2" cy="69.4" r="1.5" fill="#c6c6c6"/><circle cx="108.9" cy="111.4" r="1.2" fill="#d0d0d0"/><circle cx="111.2" cy="112.2" r="1.2" fill="#8a8a8a"/><circle cx="110.2" cy="106.0" r="1.1" fill="#d0d0d0"/><circle cx="127.2" cy="74.2" r="1.6" fill="#d0d0d0"/><circle cx="125.0" cy="110.3" r="1.3" fill="#c6c6c6"/><circle cx="120.4" cy="53.7" r="1.3" fill="#d0d0d0"/><circle cx="113.4" cy="134.1" r="1.4" fill="#c6c6c6"/><circle cx="123.1" cy="119.1" r="1.1" fill="#d0d0d0"/><circle cx="104.1" cy="51.3" r="1.6" fill="#c6c6c6"/><circle cx="121.7" cy="76.9" r="1.5" fill="#8a8a8a"/><circle cx="116.3" cy="65.0" r="1.2" fill="#8a8a8a"/><circle cx="123.0" cy="65.2" r="1.4" fill="#d0d0d0"/><circle cx="118.8" cy="66.5" r="1.1" fill="#8a8a8a"/><circle cx="118.6" cy="60.5" r="1.3" fill="#b4b4b4"/><circle cx="128.0" cy="81.1" r="1.3" fill="#d0d0d0"/><circle cx="124.8" cy="50.2" r="1.1" fill="#8a8a8a"/><circle cx="121.2" cy="55.4" r="1.3" fill="#b4b4b4"/><circle cx="121.7" cy="94.9" r="1.2" fill="#c6c6c6"/><circle cx="105.8" cy="95.8" r="1.1" fill="#b4b4b4"/><circle cx="105.0" cy="76.6" r="1.2" fill="#8a8a8a"/><circle cx="124.7" cy="78.6" r="1.0" fill="#b4b4b4"/><circle cx="113.0" cy="125.1" r="1.3" fill="#9c9c9c"/><circle cx="108.3" cy="107.2" r="1.1" fill="#c6c6c6"/><circle cx="106.7" cy="93.4" r="1.5" fill="#c6c6c6"/><circle cx="119.0" cy="65.8" r="1.4" fill="#d0d0d0"/><circle cx="110.7" cy="67.9" r="1.0" fill="#8a8a8a"/><circle cx="121.1" cy="136.7" r="1.0" fill="#c6c6c6"/><circle cx="126.6" cy="33.8" r="1.1" fill="#c6c6c6"/><circle cx="117.9" cy="40.4" r="1.4" fill="#b4b4b4"/><circle cx="113.0" cy="35.0" r="1.3" fill="#d0d0d0"/><circle cx="107.3" cy="75.7" r="1.1" fill="#d0d0d0"/><circle cx="106.3" cy="40.8" r="1.1" fill="#b4b4b4"/><circle cx="109.9" cy="67.2" r="1.3" fill="#d0d0d0"/><circle cx="105.1" cy="57.0" r="1.0" fill="#b4b4b4"/><circle cx="115.4" cy="124.4" r="1.1" fill="#9c9c9c"/><circle cx="124.1" cy="120.8" r="1.1" fill="#c6c6c6"/><circle cx="113.0" cy="68.3" r="1.1" fill="#9c9c9c"/><circle cx="114.6" cy="69.3" r="1.1" fill="#9c9c9c"/><circle cx="106.2" cy="134.6" r="1.3" fill="#c6c6c6"/><circle cx="119.0" cy="88.2" r="1.3" fill="#8a8a8a"/><circle cx="105.6" cy="44.0" r="1.0" fill="#d0d0d0"/><circle cx="109.8" cy="66.5" r="1.4" fill="#9c9c9c"/><circle cx="108.1" cy="99.3" r="1.5" fill="#d0d0d0"/><circle cx="116.6" cy="107.5" r="1.5" fill="#9c9c9c"/><circle cx="112.2" cy="137.8" r="1.5" fill="#9c9c9c"/><circle cx="105.8" cy="123.3" r="1.2" fill="#b4b4b4"/><circle cx="109.9" cy="62.8" r="1.2" fill="#c6c6c6"/><circle cx="114.9" cy="128.6" r="1.2" fill="#c6c6c6"/><circle cx="112.1" cy="93.9" r="1.3" fill="#b4b4b4"/><circle cx="124.6" cy="107.9" r="1.1" fill="#c6c6c6"/><circle cx="117.9" cy="84.2" r="1.3" fill="#c6c6c6"/><circle cx="121.1" cy="106.4" r="1.6" fill="#b4b4b4"/><circle cx="115.4" cy="45.4" r="1.3" fill="#9c9c9c"/><circle cx="112.1" cy="48.8" r="1.2" fill="#d0d0d0"/><circle cx="110.6" cy="129.7" r="1.2" fill="#c6c6c6"/><circle cx="108.3" cy="80.0" r="1.1" fill="#9c9c9c"/><circle cx="111.6" cy="137.5" r="1.4" fill="#d0d0d0"/></g><text transform="translate(107.3,83.3) rotate(-90)" font-size="8.6" text-anchor="middle" fill="#f4f4f4">Gas diffusion layer</text><path d="M133,35 L157,35 L157,136 L133,136Z" fill="#4d6fc4"/><g><rect x="138.1" y="47.2" width="6.1" height="6.1" fill="#6486d6" transform="rotate(16 141.2 50.3)"/><rect x="132.7" y="90.9" width="6.8" height="6.8" fill="#4d6ec2" transform="rotate(-23 136.1 94.2)"/><rect x="140.7" y="39.1" width="4.7" height="4.7" fill="#5679cc" transform="rotate(-22 143.1 41.4)"/><rect x="143.8" y="127.7" width="6.1" height="6.1" fill="#4464b4" transform="rotate(22 146.8 130.7)"/><rect x="144.1" y="72.1" width="6.9" height="6.9" fill="#6486d6" transform="rotate(3 147.5 75.5)"/><rect x="133.6" y="74.3" width="5.9" height="5.9" fill="#4464b4" transform="rotate(-10 136.6 77.3)"/><rect x="149.7" y="50.3" width="6.0" height="6.0" fill="#4d6ec2" transform="rotate(-6 152.7 53.2)"/><rect x="143.4" y="38.3" width="4.6" height="4.6" fill="#4d6ec2" transform="rotate(-0 145.7 40.7)"/><rect x="143.0" y="110.5" width="5.7" height="5.7" fill="#5679cc" transform="rotate(-7 145.8 113.3)"/><rect x="136.3" y="50.2" width="6.4" height="6.4" fill="#6486d6" transform="rotate(4 139.6 53.4)"/><rect x="142.8" y="120.4" width="6.3" height="6.3" fill="#7090da" transform="rotate(5 146.0 123.6)"/><rect x="132.2" y="83.7" width="4.9" height="4.9" fill="#7090da" transform="rotate(-17 134.7 86.2)"/><rect x="142.0" y="36.0" width="6.2" height="6.2" fill="#4464b4" transform="rotate(4 145.1 39.0)"/><rect x="151.1" y="63.7" width="6.2" height="6.2" fill="#4464b4" transform="rotate(-0 154.2 66.8)"/><rect x="149.2" y="38.9" width="4.7" height="4.7" fill="#7090da" transform="rotate(-1 151.6 41.3)"/><rect x="146.1" y="38.1" width="6.3" height="6.3" fill="#4464b4" transform="rotate(25 149.2 41.3)"/><rect x="149.8" y="60.7" width="5.5" height="5.5" fill="#7090da" transform="rotate(-24 152.5 63.5)"/><rect x="141.3" y="49.0" width="4.8" height="4.8" fill="#6486d6" transform="rotate(-14 143.7 51.4)"/><rect x="137.3" y="106.6" width="5.5" height="5.5" fill="#5679cc" transform="rotate(-21 140.0 109.3)"/><rect x="141.1" y="87.5" width="6.7" height="6.7" fill="#5679cc" transform="rotate(18 144.4 90.8)"/><rect x="137.0" y="73.9" width="5.4" height="5.4" fill="#5679cc" transform="rotate(23 139.7 76.6)"/><rect x="134.0" y="49.8" width="5.1" height="5.1" fill="#4d6ec2" transform="rotate(-24 136.6 52.3)"/><rect x="150.0" y="50.4" width="5.2" height="5.2" fill="#4d6ec2" transform="rotate(-4 152.6 53.0)"/><rect x="139.2" y="89.2" width="6.9" height="6.9" fill="#4464b4" transform="rotate(23 142.6 92.6)"/><rect x="145.9" y="106.7" width="5.6" height="5.6" fill="#4464b4" transform="rotate(-5 148.7 109.5)"/><rect x="139.9" y="42.5" width="6.1" height="6.1" fill="#6486d6" transform="rotate(-15 142.9 45.5)"/><rect x="153.6" y="76.5" width="4.8" height="4.8" fill="#4464b4" transform="rotate(-22 156.0 78.9)"/><rect x="130.5" y="47.3" width="4.8" height="4.8" fill="#7090da" transform="rotate(6 132.9 49.7)"/><rect x="132.2" y="53.0" width="5.4" height="5.4" fill="#7090da" transform="rotate(23 134.9 55.7)"/><rect x="144.7" y="79.9" width="4.8" height="4.8" fill="#5679cc" transform="rotate(25 147.0 82.3)"/><rect x="141.5" y="80.9" width="4.7" height="4.7" fill="#6486d6" transform="rotate(12 143.8 83.2)"/><rect x="147.9" y="80.3" width="6.2" height="6.2" fill="#4464b4" transform="rotate(-24 151.0 83.5)"/><rect x="152.8" y="85.4" width="4.9" height="4.9" fill="#4464b4" transform="rotate(21 155.3 87.8)"/><rect x="148.3" y="62.1" width="6.1" height="6.1" fill="#6486d6" transform="rotate(10 151.4 65.2)"/><rect x="136.6" y="69.0" width="4.9" height="4.9" fill="#4d6ec2" transform="rotate(2 139.1 71.5)"/><rect x="148.8" y="65.3" width="5.1" height="5.1" fill="#4d6ec2" transform="rotate(15 151.3 67.8)"/><rect x="149.7" y="106.7" width="5.1" height="5.1" fill="#4464b4" transform="rotate(-0 152.3 109.3)"/><rect x="147.7" y="131.9" width="6.5" height="6.5" fill="#5679cc" transform="rotate(-12 150.9 135.2)"/><rect x="146.8" y="128.6" width="5.6" height="5.6" fill="#7090da" transform="rotate(23 149.6 131.4)"/><rect x="139.1" y="54.3" width="5.1" height="5.1" fill="#4d6ec2" transform="rotate(-8 141.6 56.8)"/><rect x="141.8" y="131.5" width="6.0" height="6.0" fill="#6486d6" transform="rotate(-1 144.9 134.5)"/><rect x="145.8" y="112.8" width="4.7" height="4.7" fill="#6486d6" transform="rotate(20 148.2 115.1)"/><rect x="148.9" y="107.8" width="5.7" height="5.7" fill="#4d6ec2" transform="rotate(-3 151.7 110.6)"/><rect x="145.4" y="40.8" width="6.9" height="6.9" fill="#5679cc" transform="rotate(-2 148.9 44.2)"/><rect x="148.0" y="40.6" width="4.9" height="4.9" fill="#4d6ec2" transform="rotate(-24 150.4 43.0)"/><rect x="144.4" y="79.0" width="6.1" height="6.1" fill="#4464b4" transform="rotate(16 147.5 82.1)"/><rect x="153.5" y="98.4" width="5.4" height="5.4" fill="#4464b4" transform="rotate(2 156.2 101.1)"/><rect x="131.0" y="112.7" width="6.3" height="6.3" fill="#6486d6" transform="rotate(1 134.2 115.9)"/><rect x="152.4" y="75.8" width="6.7" height="6.7" fill="#4d6ec2" transform="rotate(-24 155.8 79.2)"/><rect x="135.5" y="82.6" width="6.4" height="6.4" fill="#7090da" transform="rotate(-12 138.7 85.8)"/><rect x="140.3" y="45.2" width="6.8" height="6.8" fill="#7090da" transform="rotate(20 143.7 48.6)"/><rect x="146.1" y="114.3" width="5.8" height="5.8" fill="#4464b4" transform="rotate(-18 149.0 117.2)"/><rect x="134.1" y="83.6" width="6.7" height="6.7" fill="#4d6ec2" transform="rotate(5 137.4 86.9)"/><rect x="148.7" y="47.1" width="4.9" height="4.9" fill="#4464b4" transform="rotate(11 151.2 49.6)"/><rect x="143.6" y="64.9" width="5.8" height="5.8" fill="#4464b4" transform="rotate(-1 146.5 67.8)"/><rect x="148.7" y="121.2" width="4.6" height="4.6" fill="#4d6ec2" transform="rotate(-11 151.1 123.5)"/><rect x="148.6" y="83.3" width="5.9" height="5.9" fill="#6486d6" transform="rotate(-3 151.6 86.2)"/><rect x="144.9" y="83.1" width="5.8" height="5.8" fill="#7090da" transform="rotate(-2 147.8 86.0)"/><rect x="143.0" y="80.3" width="6.9" height="6.9" fill="#4464b4" transform="rotate(19 146.5 83.7)"/><rect x="152.6" y="58.2" width="5.9" height="5.9" fill="#4d6ec2" transform="rotate(17 155.6 61.2)"/><rect x="133.7" y="44.3" width="5.6" height="5.6" fill="#6486d6" transform="rotate(9 136.5 47.1)"/><rect x="140.6" y="53.5" width="5.3" height="5.3" fill="#6486d6" transform="rotate(20 143.2 56.1)"/><rect x="134.1" y="104.3" width="6.2" height="6.2" fill="#4d6ec2" transform="rotate(-12 137.2 107.4)"/><rect x="133.7" y="79.2" width="6.4" height="6.4" fill="#6486d6" transform="rotate(-5 136.9 82.4)"/><rect x="142.0" y="132.0" width="6.6" height="6.6" fill="#4d6ec2" transform="rotate(10 145.2 135.3)"/><rect x="153.9" y="72.8" width="5.6" height="5.6" fill="#7090da" transform="rotate(-9 156.6 75.6)"/><rect x="147.5" y="34.0" width="5.9" height="5.9" fill="#5679cc" transform="rotate(10 150.4 36.9)"/><rect x="139.5" y="84.3" width="5.2" height="5.2" fill="#6486d6" transform="rotate(-19 142.2 86.9)"/><rect x="152.1" y="55.1" width="6.7" height="6.7" fill="#6486d6" transform="rotate(-12 155.4 58.4)"/><rect x="131.4" y="110.7" width="5.2" height="5.2" fill="#4d6ec2" transform="rotate(16 134.0 113.3)"/><rect x="150.5" y="100.3" width="6.9" height="6.9" fill="#5679cc" transform="rotate(-18 153.9 103.7)"/><rect x="152.1" y="89.6" width="6.3" height="6.3" fill="#6486d6" transform="rotate(-11 155.2 92.8)"/><rect x="149.3" y="50.5" width="6.7" height="6.7" fill="#7090da" transform="rotate(22 152.7 53.9)"/><rect x="145.4" y="113.0" width="4.7" height="4.7" fill="#4d6ec2" transform="rotate(-22 147.8 115.3)"/><rect x="150.8" y="77.8" width="5.3" height="5.3" fill="#4464b4" transform="rotate(-4 153.4 80.5)"/><rect x="152.0" y="94.8" width="4.6" height="4.6" fill="#4d6ec2" transform="rotate(22 154.3 97.1)"/><rect x="153.3" y="58.5" width="5.0" height="5.0" fill="#7090da" transform="rotate(6 155.8 60.9)"/><rect x="143.0" y="52.8" width="5.6" height="5.6" fill="#4d6ec2" transform="rotate(-11 145.8 55.6)"/><rect x="149.4" y="132.4" width="4.6" height="4.6" fill="#6486d6" transform="rotate(12 151.7 134.7)"/><rect x="143.4" y="51.1" width="5.7" height="5.7" fill="#5679cc" transform="rotate(-20 146.3 54.0)"/><rect x="149.7" y="75.6" width="5.7" height="5.7" fill="#5679cc" transform="rotate(24 152.6 78.5)"/><rect x="137.7" y="53.7" width="5.1" height="5.1" fill="#4d6ec2" transform="rotate(17 140.3 56.3)"/><rect x="147.1" y="96.2" width="5.5" height="5.5" fill="#7090da" transform="rotate(24 149.9 99.0)"/><rect x="150.2" y="33.4" width="6.1" height="6.1" fill="#7090da" transform="rotate(-3 153.2 36.5)"/><rect x="131.8" y="99.2" width="5.5" height="5.5" fill="#4464b4" transform="rotate(9 134.5 101.9)"/><rect x="137.1" y="56.5" width="5.2" height="5.2" fill="#5679cc" transform="rotate(-16 139.7 59.1)"/><rect x="136.8" y="32.4" width="5.4" height="5.4" fill="#7090da" transform="rotate(24 139.5 35.1)"/><rect x="143.4" y="56.7" width="6.9" height="6.9" fill="#7090da" transform="rotate(-14 146.8 60.1)"/><rect x="134.8" y="65.9" width="4.7" height="4.7" fill="#7090da" transform="rotate(0 137.2 68.2)"/><rect x="135.2" y="83.0" width="4.5" height="4.5" fill="#7090da" transform="rotate(16 137.5 85.2)"/><rect x="133.9" y="91.3" width="5.5" height="5.5" fill="#7090da" transform="rotate(-10 136.6 94.0)"/><rect x="136.0" y="91.1" width="5.8" height="5.8" fill="#4d6ec2" transform="rotate(8 138.9 94.1)"/><rect x="147.3" y="120.8" width="5.5" height="5.5" fill="#7090da" transform="rotate(11 150.1 123.5)"/><rect x="142.1" y="60.7" width="6.0" height="6.0" fill="#4d6ec2" transform="rotate(-23 145.1 63.7)"/><rect x="150.1" y="122.1" width="6.1" height="6.1" fill="#4464b4" transform="rotate(-18 153.2 125.1)"/></g><text transform="translate(147.2,85.2) rotate(-90)" font-size="8.2" text-anchor="middle" fill="#f0f0f0">Catalyst layer</text><rect x="166.2" y="33.6" width="60.4" height="103.6" fill="url(#ce)"/><rect x="166.2" y="129.7" width="60.4" height="7.5" fill="url(#ceb)" opacity="0.8"/><rect x="170.4" y="41.3" width="52.4" height="88.4" fill="url(#ce2)"/><text transform="translate(199.6,84) rotate(-90)" font-size="8.0" text-anchor="middle" fill="#f4f4f4">Cathode electrolyte</text><path d="M234.4,-2 L234.4,15.2 A4.4,4.4 0 1 0 239.4,15.2 L239.4,-2 Z" fill="#fff" stroke="#8a8a8a" stroke-width="0.8"/><rect x="236" y="3" width="1.9" height="14" fill="url(#thr)"/><circle cx="236.9" cy="18.6" r="2.9" fill="#e43a3a"/><path d="M232.5,40 L239.5,33.2 L239.5,136.5 L232.5,130 Z" fill="#edf2f9" stroke="#d6e0ee" stroke-width="0.5"/><rect x="239.5" y="33.2" width="13.5" height="103.3" fill="#ccd9ee"/><text transform="translate(248.4,84.6) rotate(-90)" font-size="8.3" text-anchor="middle" fill="#1a1a1a">Membrane</text><rect x="253" y="32.7" width="42" height="103.8" fill="url(#anc)"/><g><circle cx="262.5" cy="90.7" r="3.5" fill="#a3b0cc" stroke="#c2cce2" stroke-width="0.45" opacity="0.75"/><circle cx="262.7" cy="85.5" r="2.9" fill="#a3b0cc" stroke="#c2cce2" stroke-width="0.45" opacity="0.75"/><circle cx="258.4" cy="85.9" r="3.0" fill="#a3b0cc" stroke="#c2cce2" stroke-width="0.45" opacity="0.75"/><circle cx="267.8" cy="44.4" r="2.5" fill="#a3b0cc" stroke="#c2cce2" stroke-width="0.45" opacity="0.75"/><circle cx="256.9" cy="115.6" r="3.1" fill="#a3b0cc" stroke="#c2cce2" stroke-width="0.45" opacity="0.75"/><circle cx="256.1" cy="132.7" r="3.5" fill="#a3b0cc" stroke="#c2cce2" stroke-width="0.45" opacity="0.75"/><circle cx="265.6" cy="96.2" r="2.3" fill="#a3b0cc" stroke="#c2cce2" stroke-width="0.45" opacity="0.75"/><circle cx="255.7" cy="87.6" r="2.1" fill="#a3b0cc" stroke="#c2cce2" stroke-width="0.45" opacity="0.75"/><circle cx="258.4" cy="59.1" r="2.0" fill="#a3b0cc" stroke="#c2cce2" stroke-width="0.45" opacity="0.75"/><circle cx="262.7" cy="78.8" r="3.3" fill="#a3b0cc" stroke="#c2cce2" stroke-width="0.45" opacity="0.75"/><circle cx="263.5" cy="98.7" r="2.8" fill="#a3b0cc" stroke="#c2cce2" stroke-width="0.45" opacity="0.75"/><circle cx="265.8" cy="80.5" r="2.4" fill="#a3b0cc" stroke="#c2cce2" stroke-width="0.45" opacity="0.75"/><circle cx="271.0" cy="134.1" r="3.3" fill="#a3b0cc" stroke="#c2cce2" stroke-width="0.45" opacity="0.75"/><circle cx="266.5" cy="66.4" r="2.4" fill="#a3b0cc" stroke="#c2cce2" stroke-width="0.45" opacity="0.75"/><circle cx="260.0" cy="42.0" r="3.2" fill="#a3b0cc" stroke="#c2cce2" stroke-width="0.45" opacity="0.75"/><circle cx="261.7" cy="119.2" r="2.6" fill="#a3b0cc" stroke="#c2cce2" stroke-width="0.45" opacity="0.75"/><circle cx="270.3" cy="119.3" r="2.0" fill="#a3b0cc" stroke="#c2cce2" stroke-width="0.45" opacity="0.75"/><circle cx="258.8" cy="125.6" r="2.8" fill="#a3b0cc" stroke="#c2cce2" stroke-width="0.45" opacity="0.75"/><circle cx="270.7" cy="74.5" r="2.1" fill="#a3b0cc" stroke="#c2cce2" stroke-width="0.45" opacity="0.75"/><circle cx="265.3" cy="112.5" r="2.4" fill="#a3b0cc" stroke="#c2cce2" stroke-width="0.45" opacity="0.75"/><circle cx="256.9" cy="68.1" r="3.5" fill="#a3b0cc" stroke="#c2cce2" stroke-width="0.45" opacity="0.75"/><circle cx="267.2" cy="46.7" r="2.4" fill="#a3b0cc" stroke="#c2cce2" stroke-width="0.45" opacity="0.75"/><circle cx="257.1" cy="41.0" r="3.3" fill="#a3b0cc" stroke="#c2cce2" stroke-width="0.45" opacity="0.75"/><circle cx="258.3" cy="90.6" r="2.7" fill="#a3b0cc" stroke="#c2cce2" stroke-width="0.45" opacity="0.75"/><circle cx="258.5" cy="107.8" r="2.2" fill="#a3b0cc" stroke="#c2cce2" stroke-width="0.45" opacity="0.75"/><circle cx="265.5" cy="46.6" r="2.7" fill="#a3b0cc" stroke="#c2cce2" stroke-width="0.45" opacity="0.75"/><circle cx="258.8" cy="61.8" r="3.6" fill="#a3b0cc" stroke="#c2cce2" stroke-width="0.45" opacity="0.75"/><circle cx="268.0" cy="65.3" r="3.4" fill="#a3b0cc" stroke="#c2cce2" stroke-width="0.45" opacity="0.75"/><circle cx="258.8" cy="74.2" r="3.4" fill="#a3b0cc" stroke="#c2cce2" stroke-width="0.45" opacity="0.75"/><circle cx="265.4" cy="45.0" r="3.6" fill="#a3b0cc" stroke="#c2cce2" stroke-width="0.45" opacity="0.75"/><circle cx="258.8" cy="60.7" r="3.2" fill="#a3b0cc" stroke="#c2cce2" stroke-width="0.45" opacity="0.75"/><circle cx="260.6" cy="64.5" r="2.1" fill="#a3b0cc" stroke="#c2cce2" stroke-width="0.45" opacity="0.75"/><circle cx="256.9" cy="93.0" r="2.4" fill="#a3b0cc" stroke="#c2cce2" stroke-width="0.45" opacity="0.75"/><circle cx="264.8" cy="72.0" r="2.7" fill="#a3b0cc" stroke="#c2cce2" stroke-width="0.45" opacity="0.75"/><circle cx="270.4" cy="83.1" r="2.9" fill="#a3b0cc" stroke="#c2cce2" stroke-width="0.45" opacity="0.75"/><circle cx="268.9" cy="53.2" r="2.2" fill="#a3b0cc" stroke="#c2cce2" stroke-width="0.45" opacity="0.75"/><circle cx="269.6" cy="116.4" r="2.4" fill="#a3b0cc" stroke="#c2cce2" stroke-width="0.45" opacity="0.75"/><circle cx="258.4" cy="108.6" r="3.5" fill="#a3b0cc" stroke="#c2cce2" stroke-width="0.45" opacity="0.75"/><circle cx="258.5" cy="129.5" r="3.4" fill="#a3b0cc" stroke="#c2cce2" stroke-width="0.45" opacity="0.75"/><circle cx="264.9" cy="76.9" r="2.2" fill="#a3b0cc" stroke="#c2cce2" stroke-width="0.45" opacity="0.75"/><circle cx="256.1" cy="130.8" r="2.4" fill="#a3b0cc" stroke="#c2cce2" stroke-width="0.45" opacity="0.75"/><circle cx="266.4" cy="60.6" r="3.3" fill="#a3b0cc" stroke="#c2cce2" stroke-width="0.45" opacity="0.75"/><circle cx="264.7" cy="64.2" r="2.3" fill="#a3b0cc" stroke="#c2cce2" stroke-width="0.45" opacity="0.75"/><circle cx="266.7" cy="41.8" r="2.4" fill="#a3b0cc" stroke="#c2cce2" stroke-width="0.45" opacity="0.75"/><circle cx="264.2" cy="119.8" r="3.0" fill="#a3b0cc" stroke="#c2cce2" stroke-width="0.45" opacity="0.75"/><circle cx="259.8" cy="126.3" r="2.3" fill="#a3b0cc" stroke="#c2cce2" stroke-width="0.45" opacity="0.75"/><circle cx="255.8" cy="61.8" r="2.7" fill="#a3b0cc" stroke="#c2cce2" stroke-width="0.45" opacity="0.75"/><circle cx="256.4" cy="52.5" r="2.6" fill="#a3b0cc" stroke="#c2cce2" stroke-width="0.45" opacity="0.75"/><circle cx="264.4" cy="48.1" r="2.6" fill="#a3b0cc" stroke="#c2cce2" stroke-width="0.45" opacity="0.75"/><circle cx="269.3" cy="132.6" r="3.1" fill="#a3b0cc" stroke="#c2cce2" stroke-width="0.45" opacity="0.75"/><circle cx="266.2" cy="93.2" r="2.2" fill="#a3b0cc" stroke="#c2cce2" stroke-width="0.45" opacity="0.75"/><circle cx="256.0" cy="36.8" r="3.5" fill="#a3b0cc" stroke="#c2cce2" stroke-width="0.45" opacity="0.75"/><circle cx="266.4" cy="130.8" r="2.0" fill="#a3b0cc" stroke="#c2cce2" stroke-width="0.45" opacity="0.75"/><circle cx="265.4" cy="83.0" r="3.2" fill="#a3b0cc" stroke="#c2cce2" stroke-width="0.45" opacity="0.75"/><circle cx="260.4" cy="134.4" r="2.1" fill="#a3b0cc" stroke="#c2cce2" stroke-width="0.45" opacity="0.75"/><circle cx="264.0" cy="108.3" r="3.4" fill="#a3b0cc" stroke="#c2cce2" stroke-width="0.45" opacity="0.75"/><circle cx="266.9" cy="105.0" r="3.3" fill="#a3b0cc" stroke="#c2cce2" stroke-width="0.45" opacity="0.75"/><circle cx="269.7" cy="70.0" r="3.1" fill="#a3b0cc" stroke="#c2cce2" stroke-width="0.45" opacity="0.75"/><circle cx="269.5" cy="121.7" r="2.7" fill="#a3b0cc" stroke="#c2cce2" stroke-width="0.45" opacity="0.75"/><circle cx="267.8" cy="120.9" r="2.9" fill="#a3b0cc" stroke="#c2cce2" stroke-width="0.45" opacity="0.75"/><circle cx="265.2" cy="73.0" r="2.9" fill="#a3b0cc" stroke="#c2cce2" stroke-width="0.45" opacity="0.75"/><circle cx="264.9" cy="43.0" r="3.0" fill="#a3b0cc" stroke="#c2cce2" stroke-width="0.45" opacity="0.75"/><circle cx="270.9" cy="122.5" r="3.2" fill="#a3b0cc" stroke="#c2cce2" stroke-width="0.45" opacity="0.75"/><circle cx="261.5" cy="108.1" r="2.9" fill="#a3b0cc" stroke="#c2cce2" stroke-width="0.45" opacity="0.75"/><circle cx="262.3" cy="118.4" r="2.1" fill="#a3b0cc" stroke="#c2cce2" stroke-width="0.45" opacity="0.75"/><circle cx="267.1" cy="38.0" r="3.0" fill="#a3b0cc" stroke="#c2cce2" stroke-width="0.45" opacity="0.75"/><circle cx="263.0" cy="57.9" r="3.1" fill="#a3b0cc" stroke="#c2cce2" stroke-width="0.45" opacity="0.75"/><circle cx="263.2" cy="96.1" r="3.5" fill="#a3b0cc" stroke="#c2cce2" stroke-width="0.45" opacity="0.75"/><circle cx="259.5" cy="36.1" r="2.5" fill="#a3b0cc" stroke="#c2cce2" stroke-width="0.45" opacity="0.75"/><circle cx="266.0" cy="55.2" r="2.3" fill="#a3b0cc" stroke="#c2cce2" stroke-width="0.45" opacity="0.75"/><circle cx="269.5" cy="100.7" r="2.7" fill="#a3b0cc" stroke="#c2cce2" stroke-width="0.45" opacity="0.75"/><circle cx="269.3" cy="67.5" r="3.1" fill="#a3b0cc" stroke="#c2cce2" stroke-width="0.45" opacity="0.75"/><circle cx="258.6" cy="77.9" r="3.3" fill="#a3b0cc" stroke="#c2cce2" stroke-width="0.45" opacity="0.75"/><circle cx="269.7" cy="122.6" r="2.6" fill="#a3b0cc" stroke="#c2cce2" stroke-width="0.45" opacity="0.75"/><circle cx="264.5" cy="66.5" r="2.2" fill="#a3b0cc" stroke="#c2cce2" stroke-width="0.45" opacity="0.75"/><circle cx="263.2" cy="118.3" r="3.4" fill="#a3b0cc" stroke="#c2cce2" stroke-width="0.45" opacity="0.75"/><circle cx="266.5" cy="129.5" r="2.4" fill="#a3b0cc" stroke="#c2cce2" stroke-width="0.45" opacity="0.75"/><circle cx="258.1" cy="79.8" r="2.4" fill="#a3b0cc" stroke="#c2cce2" stroke-width="0.45" opacity="0.75"/><circle cx="258.8" cy="76.2" r="3.0" fill="#a3b0cc" stroke="#c2cce2" stroke-width="0.45" opacity="0.75"/><circle cx="263.2" cy="66.4" r="3.3" fill="#a3b0cc" stroke="#c2cce2" stroke-width="0.45" opacity="0.75"/><circle cx="270.7" cy="80.0" r="2.1" fill="#a3b0cc" stroke="#c2cce2" stroke-width="0.45" opacity="0.75"/><circle cx="256.0" cy="121.8" r="2.1" fill="#a3b0cc" stroke="#c2cce2" stroke-width="0.45" opacity="0.75"/><circle cx="266.5" cy="91.8" r="2.5" fill="#a3b0cc" stroke="#c2cce2" stroke-width="0.45" opacity="0.75"/><circle cx="267.8" cy="36.9" r="2.2" fill="#a3b0cc" stroke="#c2cce2" stroke-width="0.45" opacity="0.75"/><circle cx="262.5" cy="37.5" r="3.3" fill="#a3b0cc" stroke="#c2cce2" stroke-width="0.45" opacity="0.75"/><circle cx="259.2" cy="49.0" r="2.1" fill="#a3b0cc" stroke="#c2cce2" stroke-width="0.45" opacity="0.75"/><circle cx="265.3" cy="79.4" r="3.0" fill="#a3b0cc" stroke="#c2cce2" stroke-width="0.45" opacity="0.75"/><circle cx="265.7" cy="115.3" r="3.5" fill="#a3b0cc" stroke="#c2cce2" stroke-width="0.45" opacity="0.75"/><circle cx="266.1" cy="54.8" r="2.8" fill="#a3b0cc" stroke="#c2cce2" stroke-width="0.45" opacity="0.75"/><circle cx="258.3" cy="36.1" r="2.8" fill="#a3b0cc" stroke="#c2cce2" stroke-width="0.45" opacity="0.75"/><circle cx="266.6" cy="52.8" r="2.4" fill="#a3b0cc" stroke="#c2cce2" stroke-width="0.45" opacity="0.75"/><circle cx="260.9" cy="104.4" r="2.8" fill="#a3b0cc" stroke="#c2cce2" stroke-width="0.45" opacity="0.75"/><circle cx="265.0" cy="110.2" r="2.6" fill="#a3b0cc" stroke="#c2cce2" stroke-width="0.45" opacity="0.75"/><circle cx="267.8" cy="125.2" r="2.1" fill="#a3b0cc" stroke="#c2cce2" stroke-width="0.45" opacity="0.75"/><circle cx="270.0" cy="106.9" r="2.2" fill="#a3b0cc" stroke="#c2cce2" stroke-width="0.45" opacity="0.75"/><circle cx="262.5" cy="97.2" r="3.5" fill="#a3b0cc" stroke="#c2cce2" stroke-width="0.45" opacity="0.75"/><circle cx="261.3" cy="91.6" r="3.4" fill="#a3b0cc" stroke="#c2cce2" stroke-width="0.45" opacity="0.75"/><circle cx="267.8" cy="129.0" r="2.7" fill="#a3b0cc" stroke="#c2cce2" stroke-width="0.45" opacity="0.75"/><circle cx="265.6" cy="55.4" r="3.2" fill="#a3b0cc" stroke="#c2cce2" stroke-width="0.45" opacity="0.75"/><circle cx="268.2" cy="98.8" r="3.1" fill="#a3b0cc" stroke="#c2cce2" stroke-width="0.45" opacity="0.75"/><circle cx="258.8" cy="124.5" r="3.6" fill="#a3b0cc" stroke="#c2cce2" stroke-width="0.45" opacity="0.75"/><circle cx="270.6" cy="88.4" r="3.3" fill="#a3b0cc" stroke="#c2cce2" stroke-width="0.45" opacity="0.75"/><circle cx="260.5" cy="125.5" r="3.4" fill="#a3b0cc" stroke="#c2cce2" stroke-width="0.45" opacity="0.75"/><circle cx="260.9" cy="43.2" r="2.7" fill="#a3b0cc" stroke="#c2cce2" stroke-width="0.45" opacity="0.75"/><circle cx="264.0" cy="111.4" r="2.8" fill="#a3b0cc" stroke="#c2cce2" stroke-width="0.45" opacity="0.75"/><circle cx="255.9" cy="115.5" r="2.1" fill="#a3b0cc" stroke="#c2cce2" stroke-width="0.45" opacity="0.75"/><circle cx="267.9" cy="52.2" r="2.5" fill="#a3b0cc" stroke="#c2cce2" stroke-width="0.45" opacity="0.75"/><circle cx="267.7" cy="49.0" r="2.2" fill="#a3b0cc" stroke="#c2cce2" stroke-width="0.45" opacity="0.75"/><circle cx="263.5" cy="107.0" r="3.3" fill="#a3b0cc" stroke="#c2cce2" stroke-width="0.45" opacity="0.75"/><circle cx="266.2" cy="129.1" r="2.8" fill="#a3b0cc" stroke="#c2cce2" stroke-width="0.45" opacity="0.75"/><circle cx="270.2" cy="43.6" r="2.4" fill="#a3b0cc" stroke="#c2cce2" stroke-width="0.45" opacity="0.75"/><circle cx="263.7" cy="63.9" r="3.2" fill="#a3b0cc" stroke="#c2cce2" stroke-width="0.45" opacity="0.75"/><circle cx="265.4" cy="87.0" r="3.3" fill="#a3b0cc" stroke="#c2cce2" stroke-width="0.45" opacity="0.75"/><circle cx="264.2" cy="66.0" r="2.6" fill="#a3b0cc" stroke="#c2cce2" stroke-width="0.45" opacity="0.75"/><circle cx="268.6" cy="124.6" r="2.3" fill="#a3b0cc" stroke="#c2cce2" stroke-width="0.45" opacity="0.75"/><circle cx="268.7" cy="131.4" r="2.8" fill="#a3b0cc" stroke="#c2cce2" stroke-width="0.45" opacity="0.75"/><circle cx="264.4" cy="55.0" r="2.9" fill="#a3b0cc" stroke="#c2cce2" stroke-width="0.45" opacity="0.75"/><circle cx="263.3" cy="95.2" r="2.0" fill="#a3b0cc" stroke="#c2cce2" stroke-width="0.45" opacity="0.75"/><circle cx="270.5" cy="86.3" r="2.6" fill="#a3b0cc" stroke="#c2cce2" stroke-width="0.45" opacity="0.75"/><circle cx="267.9" cy="91.0" r="2.8" fill="#a3b0cc" stroke="#c2cce2" stroke-width="0.45" opacity="0.75"/><circle cx="266.2" cy="41.6" r="2.9" fill="#a3b0cc" stroke="#c2cce2" stroke-width="0.45" opacity="0.75"/><circle cx="261.9" cy="130.2" r="3.5" fill="#a3b0cc" stroke="#c2cce2" stroke-width="0.45" opacity="0.75"/><circle cx="259.7" cy="82.1" r="2.2" fill="#a3b0cc" stroke="#c2cce2" stroke-width="0.45" opacity="0.75"/><circle cx="262.2" cy="116.2" r="3.4" fill="#a3b0cc" stroke="#c2cce2" stroke-width="0.45" opacity="0.75"/><circle cx="262.9" cy="66.6" r="2.3" fill="#a3b0cc" stroke="#c2cce2" stroke-width="0.45" opacity="0.75"/><circle cx="265.1" cy="127.1" r="2.2" fill="#a3b0cc" stroke="#c2cce2" stroke-width="0.45" opacity="0.75"/><circle cx="267.6" cy="37.3" r="2.3" fill="#a3b0cc" stroke="#c2cce2" stroke-width="0.45" opacity="0.75"/><circle cx="259.0" cy="103.4" r="2.5" fill="#a3b0cc" stroke="#c2cce2" stroke-width="0.45" opacity="0.75"/><circle cx="261.0" cy="96.7" r="2.2" fill="#a3b0cc" stroke="#c2cce2" stroke-width="0.45" opacity="0.75"/><circle cx="266.8" cy="47.2" r="2.8" fill="#a3b0cc" stroke="#c2cce2" stroke-width="0.45" opacity="0.75"/><circle cx="259.4" cy="54.7" r="2.8" fill="#a3b0cc" stroke="#c2cce2" stroke-width="0.45" opacity="0.75"/><circle cx="262.3" cy="72.4" r="2.7" fill="#a3b0cc" stroke="#c2cce2" stroke-width="0.45" opacity="0.75"/><circle cx="263.7" cy="50.9" r="2.3" fill="#a3b0cc" stroke="#c2cce2" stroke-width="0.45" opacity="0.75"/><circle cx="265.3" cy="98.5" r="2.8" fill="#a3b0cc" stroke="#c2cce2" stroke-width="0.45" opacity="0.75"/><circle cx="268.7" cy="95.9" r="3.4" fill="#a3b0cc" stroke="#c2cce2" stroke-width="0.45" opacity="0.75"/><circle cx="259.1" cy="108.7" r="3.3" fill="#a3b0cc" stroke="#c2cce2" stroke-width="0.45" opacity="0.75"/><circle cx="269.5" cy="66.4" r="2.5" fill="#a3b0cc" stroke="#c2cce2" stroke-width="0.45" opacity="0.75"/><circle cx="269.8" cy="56.7" r="3.6" fill="#a3b0cc" stroke="#c2cce2" stroke-width="0.45" opacity="0.75"/><circle cx="269.3" cy="48.3" r="2.4" fill="#a3b0cc" stroke="#c2cce2" stroke-width="0.45" opacity="0.75"/><circle cx="266.8" cy="60.8" r="2.2" fill="#a3b0cc" stroke="#c2cce2" stroke-width="0.45" opacity="0.75"/><circle cx="278.6" cy="76.8" r="0.9" fill="#e6eaf2" opacity="0.8"/><circle cx="272.6" cy="74.9" r="0.9" fill="#e6eaf2" opacity="0.8"/><circle cx="271.7" cy="54.4" r="0.9" fill="#e6eaf2" opacity="0.8"/><circle cx="279.2" cy="132.3" r="0.6" fill="#e6eaf2" opacity="0.8"/><circle cx="275.8" cy="111.0" r="0.8" fill="#e6eaf2" opacity="0.8"/><circle cx="277.3" cy="53.2" r="0.6" fill="#e6eaf2" opacity="0.8"/><circle cx="272.4" cy="37.8" r="0.8" fill="#e6eaf2" opacity="0.8"/><circle cx="275.9" cy="91.7" r="0.6" fill="#e6eaf2" opacity="0.8"/><circle cx="273.1" cy="54.7" r="0.9" fill="#e6eaf2" opacity="0.8"/><circle cx="279.9" cy="128.1" r="0.6" fill="#e6eaf2" opacity="0.8"/><circle cx="272.0" cy="130.6" r="0.8" fill="#e6eaf2" opacity="0.8"/><circle cx="278.0" cy="67.2" r="0.8" fill="#e6eaf2" opacity="0.8"/><circle cx="275.9" cy="77.7" r="0.8" fill="#e6eaf2" opacity="0.8"/><circle cx="271.6" cy="105.2" r="0.9" fill="#e6eaf2" opacity="0.8"/><circle cx="273.0" cy="80.1" r="0.9" fill="#e6eaf2" opacity="0.8"/><circle cx="274.9" cy="53.8" r="0.6" fill="#e6eaf2" opacity="0.8"/><circle cx="275.9" cy="35.6" r="1.0" fill="#e6eaf2" opacity="0.8"/><circle cx="278.3" cy="105.5" r="0.9" fill="#e6eaf2" opacity="0.8"/><circle cx="276.8" cy="75.1" r="0.8" fill="#e6eaf2" opacity="0.8"/><circle cx="275.8" cy="133.7" r="0.9" fill="#e6eaf2" opacity="0.8"/><circle cx="273.7" cy="126.5" r="0.9" fill="#e6eaf2" opacity="0.8"/><circle cx="278.1" cy="116.7" r="0.7" fill="#e6eaf2" opacity="0.8"/><circle cx="279.1" cy="123.3" r="0.9" fill="#e6eaf2" opacity="0.8"/><circle cx="278.0" cy="111.7" r="0.7" fill="#e6eaf2" opacity="0.8"/><circle cx="277.6" cy="41.2" r="0.7" fill="#e6eaf2" opacity="0.8"/><circle cx="275.5" cy="35.1" r="0.7" fill="#e6eaf2" opacity="0.8"/><circle cx="276.9" cy="97.3" r="0.7" fill="#e6eaf2" opacity="0.8"/><circle cx="279.5" cy="101.6" r="0.7" fill="#e6eaf2" opacity="0.8"/><circle cx="277.1" cy="91.8" r="0.8" fill="#e6eaf2" opacity="0.8"/><circle cx="274.8" cy="135.5" r="0.8" fill="#e6eaf2" opacity="0.8"/><circle cx="277.5" cy="111.3" r="1.0" fill="#e6eaf2" opacity="0.8"/><circle cx="271.7" cy="96.5" r="0.9" fill="#e6eaf2" opacity="0.8"/><circle cx="273.7" cy="74.8" r="0.6" fill="#e6eaf2" opacity="0.8"/><circle cx="273.2" cy="72.1" r="0.6" fill="#e6eaf2" opacity="0.8"/><circle cx="273.6" cy="125.9" r="0.8" fill="#e6eaf2" opacity="0.8"/><circle cx="275.8" cy="132.2" r="0.8" fill="#e6eaf2" opacity="0.8"/><circle cx="280.0" cy="98.8" r="0.9" fill="#e6eaf2" opacity="0.8"/><circle cx="272.1" cy="94.6" r="0.9" fill="#e6eaf2" opacity="0.8"/><circle cx="271.9" cy="128.4" r="0.6" fill="#e6eaf2" opacity="0.8"/><circle cx="275.5" cy="51.2" r="0.8" fill="#e6eaf2" opacity="0.8"/><circle cx="276.7" cy="39.9" r="1.0" fill="#e6eaf2" opacity="0.8"/><circle cx="275.1" cy="87.5" r="0.8" fill="#e6eaf2" opacity="0.8"/><circle cx="274.6" cy="63.0" r="0.8" fill="#e6eaf2" opacity="0.8"/><circle cx="276.3" cy="62.8" r="0.9" fill="#e6eaf2" opacity="0.8"/><circle cx="274.0" cy="35.4" r="0.7" fill="#e6eaf2" opacity="0.8"/><circle cx="271.9" cy="49.9" r="0.9" fill="#e6eaf2" opacity="0.8"/><circle cx="274.8" cy="125.1" r="0.9" fill="#e6eaf2" opacity="0.8"/><circle cx="271.9" cy="134.4" r="1.0" fill="#e6eaf2" opacity="0.8"/><circle cx="272.1" cy="125.9" r="0.7" fill="#e6eaf2" opacity="0.8"/><circle cx="275.6" cy="132.8" r="0.7" fill="#e6eaf2" opacity="0.8"/><circle cx="275.9" cy="129.1" r="0.9" fill="#e6eaf2" opacity="0.8"/><circle cx="275.5" cy="133.4" r="0.9" fill="#e6eaf2" opacity="0.8"/><circle cx="276.6" cy="45.7" r="0.8" fill="#e6eaf2" opacity="0.8"/><circle cx="275.4" cy="54.7" r="0.6" fill="#e6eaf2" opacity="0.8"/><circle cx="276.0" cy="46.6" r="0.7" fill="#e6eaf2" opacity="0.8"/><circle cx="277.2" cy="80.2" r="0.7" fill="#e6eaf2" opacity="0.8"/><circle cx="276.4" cy="76.6" r="0.9" fill="#e6eaf2" opacity="0.8"/><circle cx="276.0" cy="135.3" r="1.0" fill="#e6eaf2" opacity="0.8"/><circle cx="277.7" cy="58.2" r="0.6" fill="#e6eaf2" opacity="0.8"/><circle cx="279.1" cy="113.6" r="0.8" fill="#e6eaf2" opacity="0.8"/><circle cx="274.6" cy="61.6" r="0.9" fill="#e6eaf2" opacity="0.8"/><circle cx="276.3" cy="94.1" r="0.8" fill="#e6eaf2" opacity="0.8"/><circle cx="277.9" cy="53.3" r="0.7" fill="#e6eaf2" opacity="0.8"/><circle cx="279.8" cy="126.9" r="0.9" fill="#e6eaf2" opacity="0.8"/><circle cx="271.8" cy="40.2" r="0.7" fill="#e6eaf2" opacity="0.8"/><circle cx="275.1" cy="97.3" r="0.6" fill="#e6eaf2" opacity="0.8"/><circle cx="276.1" cy="41.4" r="0.6" fill="#e6eaf2" opacity="0.8"/><circle cx="277.2" cy="89.9" r="0.8" fill="#e6eaf2" opacity="0.8"/><circle cx="274.7" cy="82.6" r="0.6" fill="#e6eaf2" opacity="0.8"/><circle cx="274.4" cy="109.6" r="0.9" fill="#e6eaf2" opacity="0.8"/><circle cx="272.1" cy="46.2" r="0.9" fill="#e6eaf2" opacity="0.8"/><circle cx="276.8" cy="112.0" r="0.6" fill="#e6eaf2" opacity="0.8"/><circle cx="275.1" cy="60.2" r="0.9" fill="#e6eaf2" opacity="0.8"/><circle cx="274.6" cy="100.3" r="1.0" fill="#e6eaf2" opacity="0.8"/><circle cx="274.3" cy="89.7" r="0.9" fill="#e6eaf2" opacity="0.8"/><circle cx="279.3" cy="77.4" r="0.7" fill="#e6eaf2" opacity="0.8"/><circle cx="272.3" cy="122.8" r="0.6" fill="#e6eaf2" opacity="0.8"/><circle cx="272.2" cy="91.3" r="0.8" fill="#e6eaf2" opacity="0.8"/><circle cx="277.3" cy="64.3" r="0.9" fill="#e6eaf2" opacity="0.8"/><circle cx="272.1" cy="55.6" r="0.8" fill="#e6eaf2" opacity="0.8"/><circle cx="272.2" cy="64.8" r="0.9" fill="#e6eaf2" opacity="0.8"/><circle cx="277.4" cy="62.7" r="0.6" fill="#e6eaf2" opacity="0.8"/><circle cx="274.5" cy="107.7" r="0.7" fill="#e6eaf2" opacity="0.8"/><circle cx="272.5" cy="106.0" r="0.8" fill="#e6eaf2" opacity="0.8"/><circle cx="279.3" cy="129.4" r="1.0" fill="#e6eaf2" opacity="0.8"/><circle cx="275.2" cy="115.5" r="0.7" fill="#e6eaf2" opacity="0.8"/><circle cx="274.2" cy="74.6" r="1.0" fill="#e6eaf2" opacity="0.8"/><circle cx="279.1" cy="59.2" r="0.7" fill="#e6eaf2" opacity="0.8"/><circle cx="274.6" cy="70.9" r="0.7" fill="#e6eaf2" opacity="0.8"/><circle cx="274.8" cy="53.8" r="0.8" fill="#e6eaf2" opacity="0.8"/><circle cx="278.3" cy="88.9" r="0.9" fill="#e6eaf2" opacity="0.8"/><circle cx="276.3" cy="51.9" r="0.9" fill="#e6eaf2" opacity="0.8"/><circle cx="279.0" cy="62.6" r="0.6" fill="#e6eaf2" opacity="0.8"/><circle cx="275.9" cy="89.2" r="0.8" fill="#e6eaf2" opacity="0.8"/><circle cx="279.7" cy="100.1" r="0.9" fill="#e6eaf2" opacity="0.8"/><circle cx="272.0" cy="89.5" r="0.9" fill="#e6eaf2" opacity="0.8"/><circle cx="272.2" cy="42.3" r="0.9" fill="#e6eaf2" opacity="0.8"/><circle cx="279.1" cy="42.6" r="0.8" fill="#e6eaf2" opacity="0.8"/><circle cx="272.7" cy="109.7" r="0.8" fill="#e6eaf2" opacity="0.8"/><circle cx="273.6" cy="56.4" r="0.9" fill="#e6eaf2" opacity="0.8"/><circle cx="275.9" cy="111.6" r="0.7" fill="#e6eaf2" opacity="0.8"/><circle cx="274.4" cy="132.3" r="0.9" fill="#e6eaf2" opacity="0.8"/><circle cx="275.7" cy="88.5" r="0.9" fill="#e6eaf2" opacity="0.8"/><circle cx="277.5" cy="126.9" r="0.7" fill="#e6eaf2" opacity="0.8"/><circle cx="278.5" cy="101.7" r="0.9" fill="#e6eaf2" opacity="0.8"/><circle cx="278.4" cy="118.6" r="0.9" fill="#e6eaf2" opacity="0.8"/><circle cx="279.6" cy="99.0" r="0.8" fill="#e6eaf2" opacity="0.8"/><circle cx="277.5" cy="115.4" r="0.7" fill="#e6eaf2" opacity="0.8"/><circle cx="275.1" cy="48.8" r="0.9" fill="#e6eaf2" opacity="0.8"/><circle cx="279.9" cy="72.1" r="0.6" fill="#e6eaf2" opacity="0.8"/><circle cx="273.2" cy="77.1" r="0.7" fill="#e6eaf2" opacity="0.8"/><circle cx="279.7" cy="40.0" r="0.7" fill="#e6eaf2" opacity="0.8"/><circle cx="272.5" cy="99.8" r="0.9" fill="#e6eaf2" opacity="0.8"/><circle cx="273.0" cy="40.3" r="0.8" fill="#e6eaf2" opacity="0.8"/><circle cx="276.5" cy="126.3" r="0.6" fill="#e6eaf2" opacity="0.8"/><circle cx="272.4" cy="52.7" r="0.6" fill="#e6eaf2" opacity="0.8"/><circle cx="273.5" cy="106.8" r="0.8" fill="#e6eaf2" opacity="0.8"/><circle cx="273.4" cy="52.8" r="0.7" fill="#e6eaf2" opacity="0.8"/><circle cx="273.0" cy="110.9" r="0.7" fill="#e6eaf2" opacity="0.8"/><circle cx="276.2" cy="116.9" r="0.8" fill="#e6eaf2" opacity="0.8"/><circle cx="273.7" cy="124.1" r="1.0" fill="#e6eaf2" opacity="0.8"/><circle cx="274.4" cy="89.6" r="1.0" fill="#e6eaf2" opacity="0.8"/><circle cx="275.6" cy="56.4" r="0.6" fill="#e6eaf2" opacity="0.8"/><circle cx="279.6" cy="115.3" r="0.7" fill="#e6eaf2" opacity="0.8"/><circle cx="276.0" cy="86.4" r="0.7" fill="#e6eaf2" opacity="0.8"/><circle cx="279.9" cy="100.7" r="0.7" fill="#e6eaf2" opacity="0.8"/><circle cx="271.6" cy="82.0" r="0.7" fill="#e6eaf2" opacity="0.8"/><circle cx="278.3" cy="106.4" r="0.8" fill="#e6eaf2" opacity="0.8"/><circle cx="272.8" cy="49.9" r="0.7" fill="#e6eaf2" opacity="0.8"/><circle cx="273.7" cy="122.2" r="0.8" fill="#e6eaf2" opacity="0.8"/><circle cx="276.9" cy="134.8" r="0.7" fill="#e6eaf2" opacity="0.8"/><circle cx="276.0" cy="49.3" r="0.9" fill="#e6eaf2" opacity="0.8"/><circle cx="271.5" cy="117.4" r="0.9" fill="#e6eaf2" opacity="0.8"/><circle cx="278.5" cy="42.4" r="0.7" fill="#e6eaf2" opacity="0.8"/><circle cx="277.6" cy="43.9" r="0.8" fill="#e6eaf2" opacity="0.8"/><circle cx="275.5" cy="131.0" r="0.8" fill="#e6eaf2" opacity="0.8"/><circle cx="278.8" cy="64.8" r="0.9" fill="#e6eaf2" opacity="0.8"/><circle cx="275.0" cy="127.1" r="0.6" fill="#e6eaf2" opacity="0.8"/><circle cx="278.5" cy="55.2" r="0.8" fill="#e6eaf2" opacity="0.8"/><circle cx="276.0" cy="50.0" r="0.9" fill="#e6eaf2" opacity="0.8"/><circle cx="274.1" cy="65.5" r="0.6" fill="#e6eaf2" opacity="0.8"/><circle cx="274.1" cy="81.4" r="0.9" fill="#e6eaf2" opacity="0.8"/><circle cx="274.6" cy="103.7" r="0.6" fill="#e6eaf2" opacity="0.8"/><circle cx="274.9" cy="80.9" r="1.0" fill="#e6eaf2" opacity="0.8"/><circle cx="278.6" cy="100.4" r="0.6" fill="#e6eaf2" opacity="0.8"/><circle cx="274.7" cy="106.1" r="0.7" fill="#e6eaf2" opacity="0.8"/><circle cx="276.3" cy="80.5" r="0.6" fill="#e6eaf2" opacity="0.8"/><circle cx="279.9" cy="115.1" r="0.6" fill="#e6eaf2" opacity="0.8"/><circle cx="276.7" cy="63.5" r="0.7" fill="#e6eaf2" opacity="0.8"/><circle cx="276.1" cy="64.3" r="0.7" fill="#e6eaf2" opacity="0.8"/><circle cx="274.8" cy="101.7" r="0.7" fill="#e6eaf2" opacity="0.8"/><circle cx="273.2" cy="108.2" r="0.7" fill="#e6eaf2" opacity="0.8"/><circle cx="279.5" cy="91.1" r="0.9" fill="#e6eaf2" opacity="0.8"/><circle cx="274.3" cy="117.9" r="0.6" fill="#e6eaf2" opacity="0.8"/><circle cx="272.7" cy="43.6" r="0.9" fill="#e6eaf2" opacity="0.8"/><circle cx="277.5" cy="52.3" r="0.7" fill="#e6eaf2" opacity="0.8"/><circle cx="278.6" cy="94.2" r="0.6" fill="#e6eaf2" opacity="0.8"/><circle cx="273.4" cy="49.9" r="0.6" fill="#e6eaf2" opacity="0.8"/><circle cx="275.0" cy="41.4" r="1.0" fill="#e6eaf2" opacity="0.8"/><circle cx="275.1" cy="85.9" r="0.8" fill="#e6eaf2" opacity="0.8"/><circle cx="278.0" cy="117.3" r="0.7" fill="#e6eaf2" opacity="0.8"/><circle cx="274.3" cy="75.8" r="0.6" fill="#e6eaf2" opacity="0.8"/><circle cx="274.9" cy="105.0" r="1.0" fill="#e6eaf2" opacity="0.8"/><circle cx="278.2" cy="101.0" r="0.8" fill="#e6eaf2" opacity="0.8"/><circle cx="271.7" cy="67.6" r="0.7" fill="#e6eaf2" opacity="0.8"/><circle cx="277.0" cy="44.8" r="0.7" fill="#e6eaf2" opacity="0.8"/><circle cx="275.8" cy="114.0" r="0.9" fill="#e6eaf2" opacity="0.8"/><circle cx="276.7" cy="50.1" r="0.9" fill="#e6eaf2" opacity="0.8"/><circle cx="279.2" cy="89.6" r="0.7" fill="#e6eaf2" opacity="0.8"/><circle cx="275.8" cy="48.4" r="0.9" fill="#e6eaf2" opacity="0.8"/><line x1="294.3" y1="86.1" x2="295.2" y2="87.5" stroke="#8a96ac" stroke-width="0.5"/><line x1="282.9" y1="129.4" x2="283.4" y2="128.2" stroke="#8a96ac" stroke-width="0.5"/><line x1="281.2" y1="58.7" x2="281.5" y2="59.5" stroke="#8a96ac" stroke-width="0.5"/><line x1="284.8" y1="127.8" x2="284.2" y2="127.7" stroke="#8a96ac" stroke-width="0.5"/><line x1="281.8" y1="132.3" x2="280.3" y2="133.9" stroke="#8a96ac" stroke-width="0.5"/><line x1="287.9" y1="90.6" x2="288.1" y2="89.7" stroke="#8a96ac" stroke-width="0.5"/><line x1="293.2" y1="134.2" x2="294.5" y2="134.6" stroke="#8a96ac" stroke-width="0.5"/><line x1="281.8" y1="117.3" x2="280.9" y2="118.9" stroke="#8a96ac" stroke-width="0.5"/><line x1="283.5" y1="91.9" x2="284.8" y2="90.7" stroke="#8a96ac" stroke-width="0.5"/><line x1="287.9" y1="41.7" x2="286.1" y2="40.4" stroke="#8a96ac" stroke-width="0.5"/><line x1="294.3" y1="128.9" x2="294.9" y2="128.1" stroke="#8a96ac" stroke-width="0.5"/><line x1="289.7" y1="108.5" x2="289.3" y2="108.9" stroke="#8a96ac" stroke-width="0.5"/><line x1="291.7" y1="35.7" x2="290.5" y2="35.5" stroke="#8a96ac" stroke-width="0.5"/><line x1="282.1" y1="73.0" x2="282.4" y2="71.7" stroke="#8a96ac" stroke-width="0.5"/><line x1="287.5" y1="60.6" x2="287.8" y2="60.0" stroke="#8a96ac" stroke-width="0.5"/><line x1="289.3" y1="37.8" x2="290.0" y2="36.4" stroke="#8a96ac" stroke-width="0.5"/><line x1="293.9" y1="94.6" x2="293.8" y2="94.3" stroke="#8a96ac" stroke-width="0.5"/><line x1="289.0" y1="103.6" x2="290.1" y2="104.6" stroke="#8a96ac" stroke-width="0.5"/><line x1="287.0" y1="134.5" x2="288.4" y2="135.9" stroke="#8a96ac" stroke-width="0.5"/><line x1="285.9" y1="77.8" x2="286.2" y2="79.5" stroke="#8a96ac" stroke-width="0.5"/><line x1="287.6" y1="87.0" x2="287.4" y2="88.6" stroke="#8a96ac" stroke-width="0.5"/><line x1="284.7" y1="39.5" x2="285.6" y2="41.1" stroke="#8a96ac" stroke-width="0.5"/><line x1="290.6" y1="94.3" x2="291.6" y2="93.6" stroke="#8a96ac" stroke-width="0.5"/><line x1="288.6" y1="41.0" x2="287.1" y2="40.8" stroke="#8a96ac" stroke-width="0.5"/><line x1="287.3" y1="74.1" x2="285.5" y2="74.8" stroke="#8a96ac" stroke-width="0.5"/><line x1="287.6" y1="58.2" x2="286.9" y2="57.7" stroke="#8a96ac" stroke-width="0.5"/><line x1="283.4" y1="40.9" x2="285.1" y2="42.8" stroke="#8a96ac" stroke-width="0.5"/><line x1="289.7" y1="121.5" x2="289.3" y2="122.7" stroke="#8a96ac" stroke-width="0.5"/><line x1="283.2" y1="109.4" x2="283.5" y2="111.0" stroke="#8a96ac" stroke-width="0.5"/><line x1="281.4" y1="114.0" x2="279.9" y2="114.2" stroke="#8a96ac" stroke-width="0.5"/><line x1="293.8" y1="34.1" x2="292.8" y2="33.3" stroke="#8a96ac" stroke-width="0.5"/><line x1="284.7" y1="40.3" x2="286.3" y2="41.6" stroke="#8a96ac" stroke-width="0.5"/><line x1="285.8" y1="70.0" x2="286.1" y2="68.2" stroke="#8a96ac" stroke-width="0.5"/><line x1="280.5" y1="124.7" x2="279.7" y2="124.7" stroke="#8a96ac" stroke-width="0.5"/><line x1="293.5" y1="132.7" x2="293.4" y2="131.5" stroke="#8a96ac" stroke-width="0.5"/><line x1="284.3" y1="127.2" x2="285.9" y2="126.0" stroke="#8a96ac" stroke-width="0.5"/><line x1="292.1" y1="69.8" x2="292.0" y2="68.5" stroke="#8a96ac" stroke-width="0.5"/><line x1="292.8" y1="134.5" x2="291.6" y2="135.1" stroke="#8a96ac" stroke-width="0.5"/><line x1="282.8" y1="122.9" x2="281.0" y2="121.3" stroke="#8a96ac" stroke-width="0.5"/><line x1="290.5" y1="65.6" x2="292.1" y2="67.1" stroke="#8a96ac" stroke-width="0.5"/><line x1="290.3" y1="47.6" x2="291.1" y2="49.4" stroke="#8a96ac" stroke-width="0.5"/><line x1="286.5" y1="42.0" x2="285.3" y2="41.2" stroke="#8a96ac" stroke-width="0.5"/><line x1="290.3" y1="53.8" x2="289.0" y2="52.8" stroke="#8a96ac" stroke-width="0.5"/><line x1="289.6" y1="113.8" x2="289.1" y2="114.5" stroke="#8a96ac" stroke-width="0.5"/><line x1="292.8" y1="93.6" x2="291.7" y2="92.8" stroke="#8a96ac" stroke-width="0.5"/><line x1="293.4" y1="101.4" x2="292.5" y2="101.9" stroke="#8a96ac" stroke-width="0.5"/><line x1="281.3" y1="133.3" x2="281.1" y2="133.4" stroke="#8a96ac" stroke-width="0.5"/><line x1="287.7" y1="38.6" x2="288.1" y2="37.7" stroke="#8a96ac" stroke-width="0.5"/><line x1="283.6" y1="115.1" x2="282.0" y2="114.3" stroke="#8a96ac" stroke-width="0.5"/><line x1="291.0" y1="58.8" x2="290.1" y2="59.0" stroke="#8a96ac" stroke-width="0.5"/><line x1="282.7" y1="124.6" x2="284.7" y2="122.7" stroke="#8a96ac" stroke-width="0.5"/><line x1="286.7" y1="109.8" x2="286.2" y2="111.5" stroke="#8a96ac" stroke-width="0.5"/><line x1="287.2" y1="52.2" x2="287.5" y2="52.7" stroke="#8a96ac" stroke-width="0.5"/><line x1="285.2" y1="100.5" x2="286.3" y2="100.6" stroke="#8a96ac" stroke-width="0.5"/><line x1="287.3" y1="119.4" x2="288.1" y2="119.5" stroke="#8a96ac" stroke-width="0.5"/><line x1="293.8" y1="51.6" x2="294.9" y2="50.2" stroke="#8a96ac" stroke-width="0.5"/><line x1="288.8" y1="57.8" x2="288.6" y2="58.9" stroke="#8a96ac" stroke-width="0.5"/><line x1="291.4" y1="113.9" x2="290.3" y2="113.9" stroke="#8a96ac" stroke-width="0.5"/><line x1="283.2" y1="92.6" x2="283.2" y2="90.7" stroke="#8a96ac" stroke-width="0.5"/><line x1="288.7" y1="106.2" x2="288.9" y2="107.7" stroke="#8a96ac" stroke-width="0.5"/><line x1="282.6" y1="49.3" x2="280.7" y2="49.3" stroke="#8a96ac" stroke-width="0.5"/><line x1="286.3" y1="78.6" x2="285.4" y2="79.8" stroke="#8a96ac" stroke-width="0.5"/><line x1="281.1" y1="125.6" x2="281.3" y2="125.8" stroke="#8a96ac" stroke-width="0.5"/><line x1="291.5" y1="58.0" x2="290.1" y2="57.3" stroke="#8a96ac" stroke-width="0.5"/><line x1="280.6" y1="65.7" x2="281.1" y2="65.9" stroke="#8a96ac" stroke-width="0.5"/><line x1="283.8" y1="93.5" x2="282.2" y2="94.7" stroke="#8a96ac" stroke-width="0.5"/><line x1="282.5" y1="59.7" x2="281.1" y2="60.5" stroke="#8a96ac" stroke-width="0.5"/><line x1="292.0" y1="113.5" x2="290.3" y2="113.1" stroke="#8a96ac" stroke-width="0.5"/><line x1="285.3" y1="55.9" x2="287.2" y2="54.0" stroke="#8a96ac" stroke-width="0.5"/><line x1="287.1" y1="110.9" x2="289.0" y2="109.5" stroke="#8a96ac" stroke-width="0.5"/><line x1="286.6" y1="109.2" x2="284.8" y2="108.2" stroke="#8a96ac" stroke-width="0.5"/><line x1="292.9" y1="48.3" x2="292.5" y2="47.5" stroke="#8a96ac" stroke-width="0.5"/><line x1="286.2" y1="41.7" x2="284.3" y2="43.7" stroke="#8a96ac" stroke-width="0.5"/><line x1="291.1" y1="108.1" x2="290.0" y2="107.2" stroke="#8a96ac" stroke-width="0.5"/><line x1="288.0" y1="58.4" x2="287.8" y2="60.1" stroke="#8a96ac" stroke-width="0.5"/><line x1="285.3" y1="68.0" x2="287.2" y2="68.5" stroke="#8a96ac" stroke-width="0.5"/><line x1="280.6" y1="74.7" x2="281.2" y2="72.9" stroke="#8a96ac" stroke-width="0.5"/><line x1="285.0" y1="104.2" x2="286.4" y2="104.5" stroke="#8a96ac" stroke-width="0.5"/><line x1="292.9" y1="80.7" x2="292.4" y2="82.1" stroke="#8a96ac" stroke-width="0.5"/><line x1="285.5" y1="112.9" x2="284.4" y2="112.3" stroke="#8a96ac" stroke-width="0.5"/></g><text transform="translate(268.3,84.6) rotate(-90)" font-size="8.25" text-anchor="middle" fill="#1a1a1a">Catalyst layer</text><text transform="translate(288.8,84) rotate(-90)" font-size="8.0" text-anchor="middle" fill="#1a1a1a">Anode electrolyte</text><path d="M296.3,40.5 L319.4,29.6 L319.4,139 L296.3,126 Z" fill="url(#ccface2)"/><path d="M319.4,29.6 L328,29 Q331,29 331,32 L331,136 Q331,139 328,139 L319.4,139Z" fill="#f4f4f4" stroke="#d8d8d8" stroke-width="0.5"/><path d="M305,28 Q306,25 308,28 L308,34 L305,35Z" fill="#ddd"/><path d="M299.6,57 L314.7,54.5 L314.7,115 L299.6,110.5 Z" fill="#8a8a8a"/><path d="M301,59 L313.2,57 L313.2,113 L301,109 Z" fill="#9c9c9c"/><ellipse cx="300" cy="46" rx="0.9" ry="1.8" fill="#9a9a9a"/><ellipse cx="315" cy="36" rx="0.9" ry="1.8" fill="#9a9a9a"/><ellipse cx="300" cy="122" rx="0.9" ry="1.8" fill="#9a9a9a"/><ellipse cx="315" cy="130" rx="0.9" ry="1.8" fill="#9a9a9a"/><ellipse cx="298" cy="85" rx="0.9" ry="1.8" fill="#9a9a9a"/><rect x="303" y="61.0" width="8.5" height="2.8" rx="1" fill="#b4b4b4"/><rect x="303" y="65.8" width="8.5" height="2.8" rx="1" fill="#b4b4b4"/><rect x="303" y="70.6" width="8.5" height="2.8" rx="1" fill="#b4b4b4"/><rect x="303" y="75.4" width="8.5" height="2.8" rx="1" fill="#b4b4b4"/><rect x="303" y="80.2" width="8.5" height="2.8" rx="1" fill="#b4b4b4"/><rect x="303" y="85.0" width="8.5" height="2.8" rx="1" fill="#b4b4b4"/><rect x="303" y="89.8" width="8.5" height="2.8" rx="1" fill="#b4b4b4"/><rect x="303" y="94.6" width="8.5" height="2.8" rx="1" fill="#b4b4b4"/><rect x="303" y="99.4" width="8.5" height="2.8" rx="1" fill="#b4b4b4"/><rect x="303" y="104.19999999999999" width="8.5" height="2.8" rx="1" fill="#b4b4b4"/><text transform="translate(328.6,85.9) rotate(-90)" font-size="8.2" text-anchor="middle" fill="#1a1a1a">Current collector</text><path d="M77,31 L77,21.3 L226.6,21.3 L226.6,31 M151.5,21.3 L151.5,16" fill="none" stroke="#333" stroke-width="0.9"/><text x="149.5" y="14.2" font-size="8.4" text-anchor="middle" fill="#222" >Cathode</text><path d="M254.7,31 L254.7,21.9 L311.7,21.9 L311.7,31 M284,21.9 L284,16" fill="none" stroke="#333" stroke-width="0.9"/><text x="284" y="14.2" font-size="8.4" text-anchor="middle" fill="#222" >Anode</text><text x="24" y="29.5" font-size="8.4" text-anchor="middle" fill="#222" >CO<tspan font-size="5.5" dy="2">2</tspan></text><circle cx="16" cy="44.9" r="4.4" fill="url(#sp_red)"/><circle cx="33.1" cy="41" r="4.4" fill="url(#sp_red)"/><circle cx="25.2" cy="42.7" r="4.6" fill="url(#sp_gray)"/><path d="M31.7,57.5 Q53,82 34,105" fill="none" stroke="#e8559a" stroke-width="1" stroke-dasharray="2,1.5"/><path d="M33.1,101.5 L33.1,107 L38.6,104.6" fill="none" stroke="#e8559a" stroke-width="1"/><circle cx="15" cy="121.3" r="4.1" fill="url(#sp_blue)"/><circle cx="20.6" cy="116.5" r="4.1" fill="url(#sp_blue)"/><circle cx="33" cy="117.5" r="4.5" fill="url(#sp_red)"/><circle cx="39.4" cy="123.3" r="4.8" fill="url(#sp_gray)"/><text x="29.3" y="139.3" font-size="7.8" text-anchor="middle" fill="#222" >H<tspan font-size="5" dy="2">2</tspan><tspan dy="-2">, C</tspan><tspan font-size="5" dy="2">1</tspan><tspan dy="-2">, C</tspan><tspan font-size="5" dy="2">2+</tspan></text><text x="360.5" y="33.5" font-size="8.4" text-anchor="middle" fill="#222" >O<tspan font-size="5" dy="2">2</tspan></text><circle cx="350.8" cy="45.6" r="4.5" fill="url(#sp_red)"/><circle cx="360" cy="46.4" r="4.5" fill="url(#sp_red)"/><path d="M350.8,106 Q333,81 349.5,58.5" fill="none" stroke="#4a90d8" stroke-width="1" stroke-dasharray="2,1.6"/><path d="M345,58.5 L350.5,57.5 L350.5,63" fill="none" stroke="#4a90d8" stroke-width="1"/><circle cx="353.6" cy="117.2" r="4.5" fill="url(#sp_red)"/><circle cx="360.6" cy="120" r="4.1" fill="url(#sp_blue)"/><circle cx="350.8" cy="125" r="4.1" fill="url(#sp_blue)"/><text x="359" y="139" font-size="8.4" text-anchor="middle" fill="#222" >H<tspan font-size="5.5" dy="2">2</tspan><tspan dy="-2">O</tspan></text><g font-size="9.6" font-weight="bold"><text x="140.2" y="152.8" fill="#d8406a">Q</text><text x="148.5" y="155" font-size="6.1" font-weight="bold" fill="#d8406a">O</text><text x="154.3" y="152.5" fill="#222">&gt;</text><text x="163" y="152.8" fill="#5575d0">Q</text><text x="170.3" y="155" font-size="6.1" font-weight="bold" fill="#5575d0">surface</text><text x="190.6" y="152.5" fill="#222">+</text><text x="199" y="152.8" fill="#5575d0">Q</text><text x="207" y="155" font-size="6.1" font-weight="bold" fill="#5575d0">gas</text><text x="219.5" y="152.5" fill="#222">+</text><text x="228.5" y="152.8" fill="#5575d0">Q</text><text x="235.6" y="155" font-size="6.1" font-weight="bold" fill="#5575d0">liquid</text></g><text x="0" y="178" font-size="16" text-anchor="start" fill="#111" >b</text><rect x="38" y="177.0" width="272.5" height="1.02" fill="url(#br0)"/><rect x="38" y="178.0" width="272.5" height="1.02" fill="url(#br1)"/><rect x="38" y="179.0" width="272.5" height="1.02" fill="url(#br2)"/><rect x="38" y="180.0" width="272.5" height="1.02" fill="url(#br3)"/><rect x="38" y="181.0" width="272.5" height="1.02" fill="url(#br4)"/><rect x="38" y="182.0" width="272.5" height="1.02" fill="url(#br5)"/><rect x="38" y="183.0" width="272.5" height="1.02" fill="url(#br6)"/><rect x="38" y="184.0" width="272.5" height="1.02" fill="url(#br7)"/><rect x="38" y="185.0" width="272.5" height="1.02" fill="url(#br8)"/><rect x="38" y="186.0" width="272.5" height="1.02" fill="url(#br9)"/><rect x="38" y="187.0" width="272.5" height="1.02" fill="url(#br10)"/><rect x="38" y="188.0" width="272.5" height="1.02" fill="url(#br11)"/><rect x="38" y="189.0" width="272.5" height="1.02" fill="url(#br12)"/><rect x="38" y="190.0" width="272.5" height="1.02" fill="url(#br13)"/><rect x="38" y="191.0" width="272.5" height="1.02" fill="url(#br14)"/><rect x="38" y="192.0" width="272.5" height="1.02" fill="url(#br15)"/><rect x="38" y="193.0" width="272.5" height="1.02" fill="url(#br16)"/><rect x="38" y="194.0" width="272.5" height="1.02" fill="url(#br17)"/><rect x="38" y="195.0" width="272.5" height="1.02" fill="url(#br18)"/><rect x="38" y="196.0" width="272.5" height="1.02" fill="url(#br19)"/><rect x="38" y="197.0" width="272.5" height="1.02" fill="url(#br20)"/><rect x="38" y="198.0" width="272.5" height="1.02" fill="url(#br21)"/><rect x="38" y="199.0" width="272.5" height="1.02" fill="url(#br22)"/><rect x="38" y="200.0" width="272.5" height="1.02" fill="url(#br23)"/><rect x="38" y="201.0" width="272.5" height="1.02" fill="url(#br24)"/><rect x="38" y="202.0" width="272.5" height="1.02" fill="url(#br25)"/><rect x="38" y="203.0" width="272.5" height="1.02" fill="url(#br26)"/><rect x="38" y="204.0" width="272.5" height="1.02" fill="url(#br27)"/><rect x="38" y="205.0" width="272.5" height="1.02" fill="url(#br28)"/><rect x="38" y="206.0" width="272.5" height="1.02" fill="url(#br29)"/><rect x="38" y="207.0" width="272.5" height="1.02" fill="url(#br30)"/><rect x="38" y="208.0" width="272.5" height="1.02" fill="url(#br31)"/><rect x="38" y="209.0" width="272.5" height="1.02" fill="url(#br32)"/><rect x="38" y="210.0" width="272.5" height="1.02" fill="url(#br33)"/><rect x="38" y="211.0" width="272.5" height="1.02" fill="url(#br34)"/><rect x="38" y="212.0" width="272.5" height="1.02" fill="url(#br35)"/><rect x="38" y="213.0" width="272.5" height="1.02" fill="url(#br36)"/><rect x="38" y="214.0" width="272.5" height="1.02" fill="url(#br37)"/><rect x="38" y="215.0" width="272.5" height="1.02" fill="url(#br38)"/><rect x="38" y="216.0" width="272.5" height="1.02" fill="url(#br39)"/><rect x="38" y="217.0" width="272.5" height="1.02" fill="url(#br40)"/><rect x="38" y="218.0" width="272.5" height="1.02" fill="url(#br41)"/><rect x="38" y="219.0" width="272.5" height="1.02" fill="url(#br42)"/><rect x="38" y="220.0" width="272.5" height="1.02" fill="url(#br43)"/><rect x="38" y="221.0" width="272.5" height="1.02" fill="url(#br44)"/><rect x="38" y="222.0" width="272.5" height="1.02" fill="url(#br45)"/><rect x="38" y="223.0" width="272.5" height="1.02" fill="url(#br46)"/><rect x="38" y="224.0" width="272.5" height="1.02" fill="url(#br47)"/><rect x="38" y="225.0" width="272.5" height="1.02" fill="url(#br48)"/><rect x="38" y="226.0" width="272.5" height="1.02" fill="url(#br49)"/><rect x="38" y="227.0" width="272.5" height="1.02" fill="url(#br50)"/><rect x="38" y="228.0" width="272.5" height="1.02" fill="url(#br51)"/><rect x="38" y="229.0" width="272.5" height="1.02" fill="url(#br52)"/><rect x="38" y="230.0" width="272.5" height="1.02" fill="url(#br53)"/><rect x="38" y="231.0" width="272.5" height="1.02" fill="url(#br54)"/><rect x="38" y="232.0" width="272.5" height="1.02" fill="url(#br55)"/><rect x="38" y="233.0" width="272.5" height="1.02" fill="url(#br56)"/><rect x="38" y="234.0" width="272.5" height="1.02" fill="url(#br57)"/><rect x="38" y="235.0" width="272.5" height="1.02" fill="url(#br58)"/><rect x="38" y="236.0" width="272.5" height="1.02" fill="url(#br59)"/><rect x="38" y="237.0" width="272.5" height="1.02" fill="url(#br60)"/><rect x="38" y="238.0" width="272.5" height="1.02" fill="url(#br61)"/><rect x="38" y="239.0" width="272.5" height="1.02" fill="url(#br62)"/><rect x="38" y="240.0" width="272.5" height="1.02" fill="url(#br63)"/><rect x="38" y="241.0" width="272.5" height="1.02" fill="url(#br64)"/><rect x="38" y="242.0" width="272.5" height="1.02" fill="url(#br65)"/><rect x="38" y="243.0" width="272.5" height="1.02" fill="url(#br66)"/><rect x="38" y="244.0" width="272.5" height="1.02" fill="url(#br67)"/><rect x="38" y="245.0" width="272.5" height="1.02" fill="url(#br68)"/><rect x="38" y="246.0" width="272.5" height="1.02" fill="url(#br69)"/><rect x="38" y="247.0" width="272.5" height="1.02" fill="url(#br70)"/><rect x="38" y="248.0" width="272.5" height="1.02" fill="url(#br71)"/><rect x="38" y="249.0" width="272.5" height="1.02" fill="url(#br72)"/><rect x="38" y="250.0" width="272.5" height="1.02" fill="url(#br73)"/><rect x="38" y="251.0" width="272.5" height="1.02" fill="url(#br74)"/><rect x="38" y="252.0" width="272.5" height="1.02" fill="url(#br75)"/><rect x="38" y="253.0" width="272.5" height="1.02" fill="url(#br76)"/><rect x="38" y="254.0" width="272.5" height="1.02" fill="url(#br77)"/><rect x="38" y="255.0" width="272.5" height="1.02" fill="url(#br78)"/><svg x="38" y="177.4" width="272.5" height="78.1" viewBox="38 177.4 272.5 78.1" overflow="hidden"><polyline points="51.4,177.4 64.6,236.4 104.5,254.8 108,256" fill="none" stroke="#fff" stroke-width="0.8" stroke-dasharray="2,1.5" opacity="0.9"/><polyline points="63.6,177.4 73.8,202.7 102.4,236.4 155.6,254.8 158,256" fill="none" stroke="#fff" stroke-width="0.8" stroke-dasharray="2,1.5" opacity="0.9"/><polyline points="77.9,177.4 96.3,196.5 124.9,223 175,244.5 210,256" fill="none" stroke="#fff" stroke-width="0.8" stroke-dasharray="2,1.5" opacity="0.9"/><polyline points="148.4,178.5 175,193.5 190,205 219.4,226.2 312,243.5" fill="none" stroke="#fff" stroke-width="0.8" stroke-dasharray="2,1.5" opacity="0.9"/><polyline points="199.2,177.4 219.4,195.9 312,210.4" fill="none" stroke="#fff" stroke-width="0.8" stroke-dasharray="2,1.5" opacity="0.9"/><polyline points="120.8,177.4 131,189.4 175,213.9 190,225.3 219.4,241.9 291,254.7 296,255.5" fill="none" stroke="#333" stroke-width="1" stroke-dasharray="2.2,1.6"/></svg><rect x="38" y="177.4" width="272.4" height="78.1" fill="none" stroke="#444" stroke-width="0.9"/><line x1="35" y1="251.8" x2="38" y2="251.8" stroke="#333" stroke-width="0.8"/><text x="32.5" y="254.8" font-size="8.4" text-anchor="end" fill="#222" >5</text><line x1="35" y1="233.2" x2="38" y2="233.2" stroke="#333" stroke-width="0.8"/><text x="32.5" y="236.20000000000002" font-size="8.4" text-anchor="end" fill="#222" >10</text><line x1="35" y1="214.6" x2="38" y2="214.6" stroke="#333" stroke-width="0.8"/><text x="32.5" y="217.60000000000002" font-size="8.4" text-anchor="end" fill="#222" >15</text><line x1="35" y1="196.0" x2="38" y2="196.0" stroke="#333" stroke-width="0.8"/><text x="32.5" y="199.0" font-size="8.4" text-anchor="end" fill="#222" >20</text><line x1="35" y1="177.4" x2="38" y2="177.4" stroke="#333" stroke-width="0.8"/><text x="32.5" y="180.4" font-size="8.4" text-anchor="end" fill="#222" >25</text><line x1="38.5" y1="255.5" x2="38.5" y2="259" stroke="#333" stroke-width="0.8"/><text x="38.5" y="267" font-size="8.4" text-anchor="middle" fill="#222" >0</text><line x1="129.2" y1="255.5" x2="129.2" y2="259" stroke="#333" stroke-width="0.8"/><text x="129.2" y="267" font-size="8.4" text-anchor="middle" fill="#222" >-500</text><line x1="219.9" y1="255.5" x2="219.9" y2="259" stroke="#333" stroke-width="0.8"/><text x="219.9" y="267" font-size="8.4" text-anchor="middle" fill="#222" >-1000</text><line x1="310.6" y1="255.5" x2="310.6" y2="259" stroke="#333" stroke-width="0.8"/><text x="310.6" y="267" font-size="8.4" text-anchor="middle" fill="#222" >-1500</text><line x1="83.8" y1="255.5" x2="83.8" y2="257.5" stroke="#333" stroke-width="0.8"/><line x1="174.6" y1="255.5" x2="174.6" y2="257.5" stroke="#333" stroke-width="0.8"/><line x1="265.2" y1="255.5" x2="265.2" y2="257.5" stroke="#333" stroke-width="0.8"/><text x="174" y="279" font-size="8.6" text-anchor="middle" fill="#222" >Current density (mA cm<tspan font-size="5.5" dy="-3">-2</tspan><tspan dy="3">)</tspan></text><text transform="translate(17,216) rotate(-90)" font-size="8.6" text-anchor="middle" fill="#222">Reaction area (cm<tspan font-size="5.5" dy="-3">2</tspan><tspan dy="3">)</tspan></text><text x="45.5" y="252.3" font-size="8.6" text-anchor="start" fill="#fff" >Room temperature</text><text x="92" y="230" font-size="8.6" text-anchor="start" fill="#333" >Operating range of AEMs</text><text x="202" y="187.6" font-size="8.65" text-anchor="start" fill="#fff" >Aqueous electrolyte boling</text><rect x="328" y="177" width="13.5" height="78" fill="url(#cbar)" stroke="#999" stroke-width="0.8"/><line x1="341.5" y1="179.4" x2="344.5" y2="179.4" stroke="#333" stroke-width="0.8"/><text x="346.5" y="182.4" font-size="8.4" text-anchor="start" fill="#222" >373.0</text><line x1="341.5" y1="191.7" x2="344.5" y2="191.7" stroke="#333" stroke-width="0.8"/><text x="346.5" y="194.66666666666669" font-size="8.4" text-anchor="start" fill="#222" >360.5</text><line x1="341.5" y1="203.9" x2="344.5" y2="203.9" stroke="#333" stroke-width="0.8"/><text x="346.5" y="206.93333333333334" font-size="8.4" text-anchor="start" fill="#222" >348.0</text><line x1="341.5" y1="216.2" x2="344.5" y2="216.2" stroke="#333" stroke-width="0.8"/><text x="346.5" y="219.2" font-size="8.4" text-anchor="start" fill="#222" >335.5</text><line x1="341.5" y1="228.5" x2="344.5" y2="228.5" stroke="#333" stroke-width="0.8"/><text x="346.5" y="231.46666666666667" font-size="8.4" text-anchor="start" fill="#222" >323.0</text><line x1="341.5" y1="240.7" x2="344.5" y2="240.7" stroke="#333" stroke-width="0.8"/><text x="346.5" y="243.73333333333335" font-size="8.4" text-anchor="start" fill="#222" >310.5</text><line x1="341.5" y1="253.0" x2="344.5" y2="253.0" stroke="#333" stroke-width="0.8"/><text x="346.5" y="256.0" font-size="8.4" text-anchor="start" fill="#222" >298.0</text><text transform="translate(321.8,216) rotate(-90)" font-size="9.4" text-anchor="middle" fill="#222">T<tspan font-size="6.3" dy="2.2">electrolyte</tspan><tspan dy="-2.2"> (K)</tspan></text><text x="395.5" y="9.3" font-size="16" text-anchor="start" fill="#111" >c</text><rect x="425" y="62" width="2.2" height="185" fill="url(#yax)"/><path d="M422.6,64 L426.1,56 L429.6,64Z" fill="#6b7fd8"/><rect x="430" y="255" width="196" height="2.2" fill="url(#xax)"/><path d="M624,251.5 L633,256.1 L624,260.7Z" fill="#e0507a"/><text x="534.5" y="274" font-size="9.6" text-anchor="middle" fill="#222" >Temperature</text><text transform="translate(410.6,151.8) rotate(-90)" font-size="9.4" text-anchor="middle" fill="#222">C<tspan font-size="6.5" dy="2">2+</tspan><tspan dy="-2">, selectivity</tspan></text><path d="M452,99.5 A151,127 0 0 0 603,226.5" fill="none" stroke="url(#crv)" stroke-width="2.2"/><path d="M452,99.5 L603,71" fill="none" stroke="url(#topl)" stroke-width="2.2"/><path d="M-4,-3.6 L4,0 L-4,3.6 L-2.2,0Z" fill="#8a62c8" transform="translate(530,84.6) rotate(-10.6)"/><path d="M603,226.5 L603,71" fill="none" stroke="url(#rgtl)" stroke-width="2.2"/><path d="M-4,-3.6 L4,0 L-4,3.6 L-2.2,0Z" fill="#b058b0" transform="translate(603,105) rotate(-90)"/><circle cx="452" cy="99.5" r="5" fill="#5a6fd6"/><circle cx="603.3" cy="71.2" r="5" fill="#b060c0"/><circle cx="603.3" cy="226.5" r="5" fill="#e0507a"/><path d="M470.4,168.5 Q462,158 457.8,147" fill="none" stroke="#5a6fd6" stroke-width="0.9"/><path d="M-2.5,-2.2 L2.5,0 L-2.5,2.2 L-1.4,0Z" fill="#5a6fd6" transform="translate(457.5,146) rotate(-112)"/><path d="M544,208.5 Q558,213.5 572,216.3" fill="none" stroke="#e0507a" stroke-width="0.9"/><path d="M-2.5,-2.2 L2.5,0 L-2.5,2.2 L-1.4,0Z" fill="#e0507a" transform="translate(573,216.5) rotate(12)"/><text font-size="8.8" fill="#d04a72"><textPath href="#pth1" startOffset="47">promote *CO desorption</textPath></text><text font-size="8.8" fill="#5a6fd6"><textPath href="#pth2" startOffset="86">promote C-C coupling</textPath></text><text transform="translate(478.5,107.8) rotate(-11)" font-size="8.8" fill="#9a58c0">(II) Reduced C-C coupling</text><text transform="translate(529,109.3) rotate(-10.5)" font-size="8.8" text-anchor="middle" fill="#9a58c0">energy barrier</text><text transform="translate(590.5,112.5) rotate(90)" font-size="8.8" fill="#9a58c0">(I) Enhanced *CO</text><text transform="translate(579.5,112.5) rotate(90)" font-size="8.8" fill="#9a58c0">adsorption capacity</text><text x="586" y="57" font-size="10" text-anchor="middle" fill="#a060c8" font-weight="bold">Challenge</text><text x="485.8" y="31.9" font-size="8.4" text-anchor="start" fill="#222" >Low temperature</text><text x="491.7" y="41.5" font-size="8.4" text-anchor="start" fill="#222" >Generate C<tspan font-size="5.5" dy="2">2+</tspan></text><text x="650" y="71" font-size="8.6" text-anchor="middle" fill="#222" >High temperature</text><text x="628.6" y="81.5" font-size="8.4" text-anchor="start" fill="#222" >Generate C<tspan font-size="5.5" dy="2">2+</tspan></text><text x="650" y="235" font-size="8.6" text-anchor="middle" fill="#222" >High temperature</text><text x="651.5" y="246.5" font-size="8.6" text-anchor="middle" fill="#222" >Generate CO</text><circle cx="455.1" cy="35.1" r="22" fill="#fff" stroke="#5a70d6" stroke-width="0.9"/><circle cx="442.3" cy="46.3" r="4.2" fill="url(#sp_navy)"/><circle cx="450.8" cy="46.3" r="4.2" fill="url(#sp_navy)"/><circle cx="459.4" cy="46.3" r="4.2" fill="url(#sp_navy)"/><circle cx="468" cy="46.3" r="4.2" fill="url(#sp_navy)"/><circle cx="450.4" cy="37.3" r="4.4" fill="url(#sp_gray)"/><circle cx="459.4" cy="37.3" r="4.4" fill="url(#sp_gray)"/><circle cx="446.2" cy="29.1" r="4.8" fill="url(#sp_red)"/><circle cx="464.1" cy="29.6" r="4.8" fill="url(#sp_red)"/><circle cx="471.8" cy="24.9" r="4" fill="url(#sp_blue)"/><circle cx="649.2" cy="35.1" r="22" fill="#fff" stroke="#a060c8" stroke-width="0.9"/><path d="M640,29 L645.5,38 L654,38 L660,29 L668,25" fill="none" stroke="#ff4d4d" stroke-width="13" stroke-linecap="round" stroke-linejoin="round" opacity="0.7" filter="url(#glow2)"/><circle cx="637.3" cy="46.7" r="4.2" fill="url(#sp_gold)"/><circle cx="645.5" cy="46.7" r="4.2" fill="url(#sp_navy)"/><circle cx="654" cy="46.7" r="4.2" fill="url(#sp_navy)"/><circle cx="662.3" cy="46.7" r="4.2" fill="url(#sp_gold)"/><circle cx="645.4" cy="37.7" r="4.4" fill="url(#sp_gray)"/><circle cx="654.4" cy="37.7" r="4.4" fill="url(#sp_gray)"/><circle cx="640.5" cy="28.7" r="4.8" fill="url(#sp_red)"/><circle cx="659.7" cy="29.4" r="4.8" fill="url(#sp_red)"/><circle cx="668" cy="25.5" r="4" fill="url(#sp_blue)"/><circle cx="652" cy="199.2" r="22" fill="#fff" stroke="#e05080" stroke-width="0.9"/><path d="M658.5,195 L663.6,188" fill="none" stroke="#ff4d4d" stroke-width="13" stroke-linecap="round" opacity="0.7" filter="url(#glow2)"/><circle cx="639.2" cy="211.7" r="4.2" fill="url(#sp_navy)"/><circle cx="647.6" cy="211.7" r="4.2" fill="url(#sp_navy)"/><circle cx="656.2" cy="211.7" r="4.2" fill="url(#sp_navy)"/><circle cx="664.4" cy="211.7" r="4.2" fill="url(#sp_navy)"/><circle cx="646.7" cy="203.3" r="4.3" fill="url(#sp_gray)"/><circle cx="641.5" cy="195.6" r="4.8" fill="url(#sp_red)"/><circle cx="658.5" cy="195" r="4.3" fill="url(#sp_gray)"/><circle cx="663.6" cy="188" r="4.8" fill="url(#sp_red)"/><text x="0" y="306.5" font-size="16" text-anchor="start" fill="#111" >d</text><ellipse cx="88.5" cy="334.6" rx="47.5" ry="24" fill="#e9edf7" transform="rotate(9 88.5 334.6)"/><ellipse cx="175.5" cy="416" rx="42.5" ry="23.5" fill="#fce7e7"/><rect x="38.5" y="307.7" width="191.2" height="135.5" fill="none" stroke="#444" stroke-width="0.9"/><line x1="35" y1="443.2" x2="38.5" y2="443.2" stroke="#333" stroke-width="0.8"/><text x="32.5" y="446.2" font-size="8.4" text-anchor="end" fill="#222" >0</text><line x1="35" y1="420.6" x2="38.5" y2="420.6" stroke="#333" stroke-width="0.8"/><text x="32.5" y="423.616" font-size="8.4" text-anchor="end" fill="#222" >15</text><line x1="35" y1="398.0" x2="38.5" y2="398.0" stroke="#333" stroke-width="0.8"/><text x="32.5" y="401.032" font-size="8.4" text-anchor="end" fill="#222" >30</text><line x1="35" y1="375.4" x2="38.5" y2="375.4" stroke="#333" stroke-width="0.8"/><text x="32.5" y="378.448" font-size="8.4" text-anchor="end" fill="#222" >45</text><line x1="35" y1="352.9" x2="38.5" y2="352.9" stroke="#333" stroke-width="0.8"/><text x="32.5" y="355.864" font-size="8.4" text-anchor="end" fill="#222" >60</text><line x1="35" y1="330.3" x2="38.5" y2="330.3" stroke="#333" stroke-width="0.8"/><text x="32.5" y="333.28" font-size="8.4" text-anchor="end" fill="#222" >75</text><line x1="35" y1="307.7" x2="38.5" y2="307.7" stroke="#333" stroke-width="0.8"/><text x="32.5" y="310.696" font-size="8.4" text-anchor="end" fill="#222" >90</text><line x1="36.5" y1="431.9" x2="38.5" y2="431.9" stroke="#333" stroke-width="0.8"/><line x1="36.5" y1="409.3" x2="38.5" y2="409.3" stroke="#333" stroke-width="0.8"/><line x1="36.5" y1="386.7" x2="38.5" y2="386.7" stroke="#333" stroke-width="0.8"/><line x1="36.5" y1="364.2" x2="38.5" y2="364.2" stroke="#333" stroke-width="0.8"/><line x1="36.5" y1="341.6" x2="38.5" y2="341.6" stroke="#333" stroke-width="0.8"/><line x1="36.5" y1="319.0" x2="38.5" y2="319.0" stroke="#333" stroke-width="0.8"/><line x1="50.0" y1="443.2" x2="50.0" y2="446.5" stroke="#333" stroke-width="0.8"/><text x="50.0" y="455" font-size="8.4" text-anchor="middle" fill="#222" >270</text><line x1="79.9" y1="443.2" x2="79.9" y2="446.5" stroke="#333" stroke-width="0.8"/><text x="79.925" y="455" font-size="8.4" text-anchor="middle" fill="#222" >285</text><line x1="109.8" y1="443.2" x2="109.8" y2="446.5" stroke="#333" stroke-width="0.8"/><text x="109.85" y="455" font-size="8.4" text-anchor="middle" fill="#222" >300</text><line x1="139.8" y1="443.2" x2="139.8" y2="446.5" stroke="#333" stroke-width="0.8"/><text x="139.775" y="455" font-size="8.4" text-anchor="middle" fill="#222" >315</text><line x1="169.7" y1="443.2" x2="169.7" y2="446.5" stroke="#333" stroke-width="0.8"/><text x="169.7" y="455" font-size="8.4" text-anchor="middle" fill="#222" >330</text><line x1="199.6" y1="443.2" x2="199.6" y2="446.5" stroke="#333" stroke-width="0.8"/><text x="199.625" y="455" font-size="8.4" text-anchor="middle" fill="#222" >345</text><line x1="229.6" y1="443.2" x2="229.6" y2="446.5" stroke="#333" stroke-width="0.8"/><text x="229.55" y="455" font-size="8.4" text-anchor="middle" fill="#222" >360</text><line x1="65.0" y1="443.2" x2="65.0" y2="445.2" stroke="#333" stroke-width="0.8"/><line x1="94.9" y1="443.2" x2="94.9" y2="445.2" stroke="#333" stroke-width="0.8"/><line x1="124.8" y1="443.2" x2="124.8" y2="445.2" stroke="#333" stroke-width="0.8"/><line x1="154.7" y1="443.2" x2="154.7" y2="445.2" stroke="#333" stroke-width="0.8"/><line x1="184.7" y1="443.2" x2="184.7" y2="445.2" stroke="#333" stroke-width="0.8"/><line x1="214.6" y1="443.2" x2="214.6" y2="445.2" stroke="#333" stroke-width="0.8"/><text x="135" y="465.5" font-size="8.3" text-anchor="middle" fill="#222" >Temperature (K)</text><text transform="translate(16.5,375.5) rotate(-90)" font-size="8.2" text-anchor="middle" fill="#222">Faradaic efficiency<tspan font-size="5.8" dy="2">C2+</tspan><tspan dy="-2"> (%)</tspan></text><text x="58" y="335.5" font-size="8.6" text-anchor="start" fill="#222" >Flow-cell</text><text x="168.5" y="416.5" font-size="8.6" text-anchor="start" fill="#222" >H-cell</text><text x="44.5" y="383" font-size="8.15" text-anchor="start" fill="#222" >Room temperature, 298 K</text><text x="131.5" y="317.2" font-size="8.1" text-anchor="start" fill="#222" >This work: 72.6%, 348 K</text><rect x="242.5" y="309.0" width="5.0" height="5.0" fill="#e8706a"/><text x="256.6" y="314.7" font-size="8.4" text-anchor="start" fill="#222" >Ref. <tspan font-size="6.4" dy="-3.2">13</tspan></text><circle cx="245" cy="323.22" r="2.625" fill="#f2a3a0"/><text x="256.6" y="326.42" font-size="8.4" text-anchor="start" fill="#222" >Ref. <tspan font-size="6.4" dy="-3.2">14</tspan></text><path d="M242.0,337.44 L248.0,337.44 L245,331.94Z" fill="#f7b598"/><text x="256.6" y="338.14" font-size="8.4" text-anchor="start" fill="#222" >Ref. <tspan font-size="6.4" dy="-3.2">16</tspan></text><path d="M242.0,344.16 L248.0,344.16 L245,349.66Z" fill="#f5cc48"/><text x="256.6" y="349.86" font-size="8.4" text-anchor="start" fill="#222" >Ref. <tspan font-size="6.4" dy="-3.2">23</tspan></text><path d="M245,355.13 L248.25,358.38 L245,361.63 L241.75,358.38Z" fill="#d8ec80"/><text x="256.6" y="361.58" font-size="8.4" text-anchor="start" fill="#222" >Ref. <tspan font-size="6.4" dy="-3.2">24</tspan></text><path d="M247.5,367.1 L247.5,373.1 L242.0,370.1Z" fill="#90cc70"/><text x="256.6" y="373.3" font-size="8.4" text-anchor="start" fill="#222" >Ref. <tspan font-size="6.4" dy="-3.2">25</tspan></text><path d="M242.5,378.82 L242.5,384.82 L248.0,381.82Z" fill="#cdeeb8"/><text x="256.6" y="385.02" font-size="8.4" text-anchor="start" fill="#222" >Ref. <tspan font-size="6.4" dy="-3.2">26</tspan></text><circle cx="245" cy="393.54" r="2.625" fill="#b5e4cc"/><text x="256.6" y="396.74" font-size="8.4" text-anchor="start" fill="#222" >Ref. <tspan font-size="6.4" dy="-3.2">27</tspan></text><polygon points="245.0,402.3 247.9,404.3 246.8,407.7 243.2,407.7 242.1,404.3" fill="#94cfdc"/><text x="256.6" y="408.46" font-size="8.4" text-anchor="start" fill="#222" >Ref. <tspan font-size="6.4" dy="-3.2">28</tspan></text><rect x="242.5" y="414.48" width="5.0" height="5.0" fill="#55abbc"/><text x="256.6" y="420.18" font-size="8.4" text-anchor="start" fill="#222" >Ref. <tspan font-size="6.4" dy="-3.2">29</tspan></text><circle cx="245" cy="428.7" r="2.625" fill="#7590cc"/><text x="256.6" y="431.9" font-size="8.4" text-anchor="start" fill="#222" >Ref. <tspan font-size="6.4" dy="-3.2">30</tspan></text><path d="M245,437.17 L248.25,440.42 L245,443.67 L241.75,440.42Z" fill="#f4c4d8"/><text x="256.6" y="443.62" font-size="8.4" text-anchor="start" fill="#222" >Ref. <tspan font-size="6.4" dy="-3.2">31</tspan></text><path d="M46.7,312.474 L53.3,312.474 L50.0,318.524Z" fill="#f5cc48"/><path d="M132.485,330.5412 L139.08500000000004,330.5412 L135.78500000000003,336.5912Z" fill="#f5cc48"/><circle cx="105.86" cy="321.2464" r="2.8875" fill="#7590cc"/><path d="M103.11,332.2496 L103.11,338.8496 L109.16,335.5496Z" fill="#cdeeb8"/><circle cx="105.86" cy="334.79679999999996" r="2.709" fill="#b5e4cc"/><polygon points="105.9,329.4 108.8,331.6 107.7,335.0 104.0,335.0 102.9,331.6" fill="#94cfdc"/><rect x="103.28" y="327.7" width="5.16" height="5.16" fill="#55abbc"/><path d="M108.61,345.0472 L108.61,351.6472 L102.56,348.3472Z" fill="#90cc70"/><path d="M105.86,356.817 L109.435,360.392 L105.86,363.967 L102.285,360.392Z" fill="#d8ec80"/><path d="M105.86,376.5 L105.86,370" stroke="#4a60b0" stroke-width="0.9"/><path d="M103.96,371.5 L105.86,366.8 L107.76,371.5Z" fill="#4a60b0"/><path d="M205.61,323 L205.61,326" stroke="#d84070" stroke-width="0.9"/><path d="M203.81,325.5 L205.61,329 L207.41000000000003,325.5Z" fill="#d84070"/><polygon points="205.6,326.4 207.5,331.3 212.7,331.6 208.7,334.9 210.0,340.0 205.6,337.1 201.2,340.0 202.6,334.9 198.5,331.6 203.7,331.3" fill="#d8407a"/><circle cx="151.745" cy="398.032" r="2.8875" fill="#f2a3a0"/><rect x="143.17999999999998" y="418.036" width="5.16" height="5.16" fill="#e8706a"/><path d="M136.679,427.71279999999996 L142.871,427.71279999999996 L139.775,422.03679999999997Z" fill="#f7b598"/><path d="M135.78500000000003,421.5578 L139.36,425.1328 L135.78500000000003,428.70779999999996 L132.21000000000004,425.1328Z" fill="#f4c4d8"/><path d="M195.63500000000002,427.5802 L199.21,431.1552 L195.63500000000002,434.73019999999997 L192.06000000000003,431.1552Z" fill="#f4c4d8"/><circle cx="195.63500000000002" cy="438.6832" r="2.709" fill="#f2a3a0"/><rect x="203.03" y="434.5976" width="5.16" height="5.16" fill="#e8706a"/><text x="317.5" y="306.3" font-size="16" text-anchor="start" fill="#111" >e</text><rect x="328.6" y="307.2" width="243.4" height="135.5" fill="none" stroke="#aaa" stroke-width="0.9"/><line x1="328.6" y1="307.2" x2="328.6" y2="442.7" stroke="#444" stroke-width="0.9"/><line x1="328.6" y1="442.7" x2="572" y2="442.7" stroke="#444" stroke-width="0.9"/><rect x="328.6" y="317" width="95.10" height="12.399999999999977" fill="#8a98d8" stroke="#333" stroke-width="0.6"/><rect x="423.7" y="317" width="35.10" height="12.399999999999977" fill="#bfcbe6" stroke="#333" stroke-width="0.6"/><rect x="458.8" y="317" width="3.20" height="12.399999999999977" fill="#dde4f3" stroke="#333" stroke-width="0.6"/><rect x="462" y="317" width="6.20" height="12.399999999999977" fill="#ffffff" stroke="#333" stroke-width="0.6"/><rect x="468.2" y="317" width="13.70" height="12.399999999999977" fill="#f9d6d6" stroke="#333" stroke-width="0.6"/><rect x="481.9" y="317" width="38.90" height="12.399999999999977" fill="#f0aba8" stroke="#333" stroke-width="0.6"/><rect x="520.8" y="317" width="18.90" height="12.399999999999977" fill="#ec9187" stroke="#333" stroke-width="0.6"/><rect x="539.7" y="317" width="9.90" height="12.399999999999977" fill="#e27898" stroke="#333" stroke-width="0.6"/><rect x="328.6" y="348.8" width="61.90" height="12.5" fill="#8a98d8" stroke="#333" stroke-width="0.6"/><rect x="390.5" y="348.8" width="26.40" height="12.5" fill="#a4b2dc" stroke="#333" stroke-width="0.6"/><rect x="416.9" y="348.8" width="21.60" height="12.5" fill="#bfcbe6" stroke="#333" stroke-width="0.6"/><rect x="438.5" y="348.8" width="1.80" height="12.5" fill="#dde4f3" stroke="#333" stroke-width="0.6"/><rect x="440.3" y="348.8" width="1.40" height="12.5" fill="#ffffff" stroke="#333" stroke-width="0.6"/><rect x="441.7" y="348.8" width="3.00" height="12.5" fill="#ffffff" stroke="#333" stroke-width="0.6"/><rect x="444.7" y="348.8" width="7.90" height="12.5" fill="#f9d6d6" stroke="#333" stroke-width="0.6"/><rect x="452.6" y="348.8" width="24.80" height="12.5" fill="#f0aba8" stroke="#333" stroke-width="0.6"/><rect x="477.4" y="348.8" width="13.20" height="12.5" fill="#ec9187" stroke="#333" stroke-width="0.6"/><rect x="490.6" y="348.8" width="6.20" height="12.5" fill="#e27898" stroke="#333" stroke-width="0.6"/><rect x="328.6" y="381.1" width="20.20" height="13.0" fill="#8a98d8" stroke="#333" stroke-width="0.6"/><rect x="348.8" y="381.1" width="7.50" height="13.0" fill="#bfcbe6" stroke="#333" stroke-width="0.6"/><rect x="356.3" y="381.1" width="1.20" height="13.0" fill="#dde4f3" stroke="#333" stroke-width="0.6"/><rect x="357.5" y="381.1" width="1.50" height="13.0" fill="#ffffff" stroke="#333" stroke-width="0.6"/><rect x="359" y="381.1" width="3.00" height="13.0" fill="#f9d6d6" stroke="#333" stroke-width="0.6"/><rect x="362" y="381.1" width="4.00" height="13.0" fill="#f0aba8" stroke="#333" stroke-width="0.6"/><rect x="366" y="381.1" width="5.00" height="13.0" fill="#ec9187" stroke="#333" stroke-width="0.6"/><rect x="371" y="381.1" width="3.40" height="13.0" fill="#e27898" stroke="#333" stroke-width="0.6"/><rect x="328.6" y="413" width="26.40" height="13.300000000000011" fill="#8a98d8" stroke="#333" stroke-width="0.6"/><rect x="355" y="413" width="13.00" height="13.300000000000011" fill="#a4b2dc" stroke="#333" stroke-width="0.6"/><rect x="368" y="413" width="8.60" height="13.300000000000011" fill="#bfcbe6" stroke="#333" stroke-width="0.6"/><rect x="376.6" y="413" width="1.40" height="13.300000000000011" fill="#dde4f3" stroke="#333" stroke-width="0.6"/><rect x="378" y="413" width="2.00" height="13.300000000000011" fill="#ffffff" stroke="#333" stroke-width="0.6"/><rect x="380" y="413" width="3.00" height="13.300000000000011" fill="#f9d6d6" stroke="#333" stroke-width="0.6"/><rect x="383" y="413" width="9.00" height="13.300000000000011" fill="#f0aba8" stroke="#333" stroke-width="0.6"/><rect x="392" y="413" width="7.00" height="13.300000000000011" fill="#ec9187" stroke="#333" stroke-width="0.6"/><rect x="399" y="413" width="2.50" height="13.300000000000011" fill="#e27898" stroke="#333" stroke-width="0.6"/><rect x="389.6" y="346.5" width="27.4" height="17" fill="none" stroke="#e040a0" stroke-width="0.8" stroke-dasharray="1.5,1.2"/><rect x="354.4" y="411" width="13.3" height="17.3" fill="none" stroke="#e040a0" stroke-width="0.8" stroke-dasharray="1.5,1.2"/><text x="335.5" y="340" font-size="8.2" text-anchor="start" fill="#222" >Cu<tspan font-size="5.8" dy="2">2</tspan><tspan dy="-2">O-348 K</tspan></text><text x="335.5" y="372.6" font-size="8.2" text-anchor="start" fill="#222" >Cu<tspan font-size="5.8" dy="2">2</tspan><tspan dy="-2">O-298 K</tspan></text><text x="335.5" y="404.3" font-size="8.2" text-anchor="start" fill="#222" >This work-348 K</text><text x="335.5" y="436" font-size="8.2" text-anchor="start" fill="#222" >This work-298 K</text><path d="M387.7,384 L380.7,387.8 L387.7,391.6Z" fill="#d84080"/><path d="M556.3,346.6 L556.3,360.2 L507.5,360.2" fill="none" stroke="#333" stroke-width="0.8"/><path d="M509,358 L505,360.2 L509,362.4Z" fill="#333"/><text x="534" y="357.5" font-size="8.6" text-anchor="middle" fill="#222" >Cooling</text><path d="M460.5,411 L460.5,424.5 L411.5,424.5" fill="none" stroke="#333" stroke-width="0.8"/><path d="M413,422.3 L409,424.5 L413,426.7Z" fill="#333"/><text x="438" y="422" font-size="8.6" text-anchor="middle" fill="#222" >Cooling</text><text x="506" y="435.5" font-size="8.4" text-anchor="start" fill="#222" >@ -200 mA cm<tspan font-size="5.8" dy="-3">-2</tspan></text><line x1="328.6" y1="442.7" x2="328.6" y2="446" stroke="#333" stroke-width="0.8"/><text x="328.6" y="453.5" font-size="8.4" text-anchor="middle" fill="#222" >0</text><line x1="377.3" y1="442.7" x2="377.3" y2="446" stroke="#333" stroke-width="0.8"/><text x="377.28000000000003" y="453.5" font-size="8.4" text-anchor="middle" fill="#222" >4000</text><line x1="426.0" y1="442.7" x2="426.0" y2="446" stroke="#333" stroke-width="0.8"/><text x="425.96000000000004" y="453.5" font-size="8.4" text-anchor="middle" fill="#222" >8000</text><line x1="474.6" y1="442.7" x2="474.6" y2="446" stroke="#333" stroke-width="0.8"/><text x="474.64" y="453.5" font-size="8.4" text-anchor="middle" fill="#222" >12000</text><line x1="523.3" y1="442.7" x2="523.3" y2="446" stroke="#333" stroke-width="0.8"/><text x="523.32" y="453.5" font-size="8.4" text-anchor="middle" fill="#222" >16000</text><line x1="572.0" y1="442.7" x2="572.0" y2="446" stroke="#333" stroke-width="0.8"/><text x="572.0" y="453.5" font-size="8.4" text-anchor="middle" fill="#222" >20000</text><text x="450.5" y="465.5" font-size="8.2" text-anchor="middle" fill="#222" >Cost (US$ per tonne)</text><rect x="582.4" y="307.2" width="18.2" height="9" fill="#8a98d8" stroke="#555" stroke-width="0.6"/><text x="606" y="314.8" font-size="8.6" text-anchor="start" fill="#222" ><tspan font-style="italic">E</tspan>reaction</text><rect x="582.4" y="321.1" width="18.2" height="9" fill="#a4b2dc" stroke="#555" stroke-width="0.6"/><text x="606" y="328.7" font-size="8.6" text-anchor="start" fill="#222" >Cooling water</text><rect x="582.4" y="335.0" width="18.2" height="9" fill="#bfcbe6" stroke="#555" stroke-width="0.6"/><text x="606" y="342.6" font-size="8.6" text-anchor="start" fill="#222" >Electrolyzer</text><rect x="582.4" y="348.9" width="18.2" height="9" fill="#dde4f3" stroke="#555" stroke-width="0.6"/><text x="606" y="356.5" font-size="8.6" text-anchor="start" fill="#222" >Catalyst&amp;Membrane</text><rect x="582.4" y="362.8" width="18.2" height="9" fill="#ffffff" stroke="#555" stroke-width="0.6"/><text x="606" y="370.40000000000003" font-size="8.6" text-anchor="start" fill="#222" >Gas separation</text><rect x="582.4" y="376.7" width="18.2" height="9" fill="#f9d6d6" stroke="#555" stroke-width="0.6"/><text x="606" y="384.3" font-size="8.6" text-anchor="start" fill="#222" >Liquid separation</text><rect x="582.4" y="390.6" width="18.2" height="9" fill="#f5c4c2" stroke="#555" stroke-width="0.6"/><text x="606" y="398.20000000000005" font-size="8.6" text-anchor="start" fill="#222" >Input chemicals</text><rect x="582.4" y="404.5" width="18.2" height="9" fill="#f0aba8" stroke="#555" stroke-width="0.6"/><text x="606" y="412.1" font-size="8.6" text-anchor="start" fill="#222" >Installation</text><rect x="582.4" y="418.4" width="18.2" height="9" fill="#ec9187" stroke="#555" stroke-width="0.6"/><text x="606" y="426.0" font-size="8.6" text-anchor="start" fill="#222" >BOP</text><rect x="582.4" y="432.3" width="18.2" height="9" fill="#e27898" stroke="#555" stroke-width="0.6"/><text x="606" y="439.90000000000003" font-size="8.6" text-anchor="start" fill="#222" >Other operation</text><rect x="578" y="317.8" width="95.6" height="14.8" rx="2" fill="none" stroke="#e040a0" stroke-width="0.8" stroke-dasharray="1.5,1.2"/>
</svg></body></html>
